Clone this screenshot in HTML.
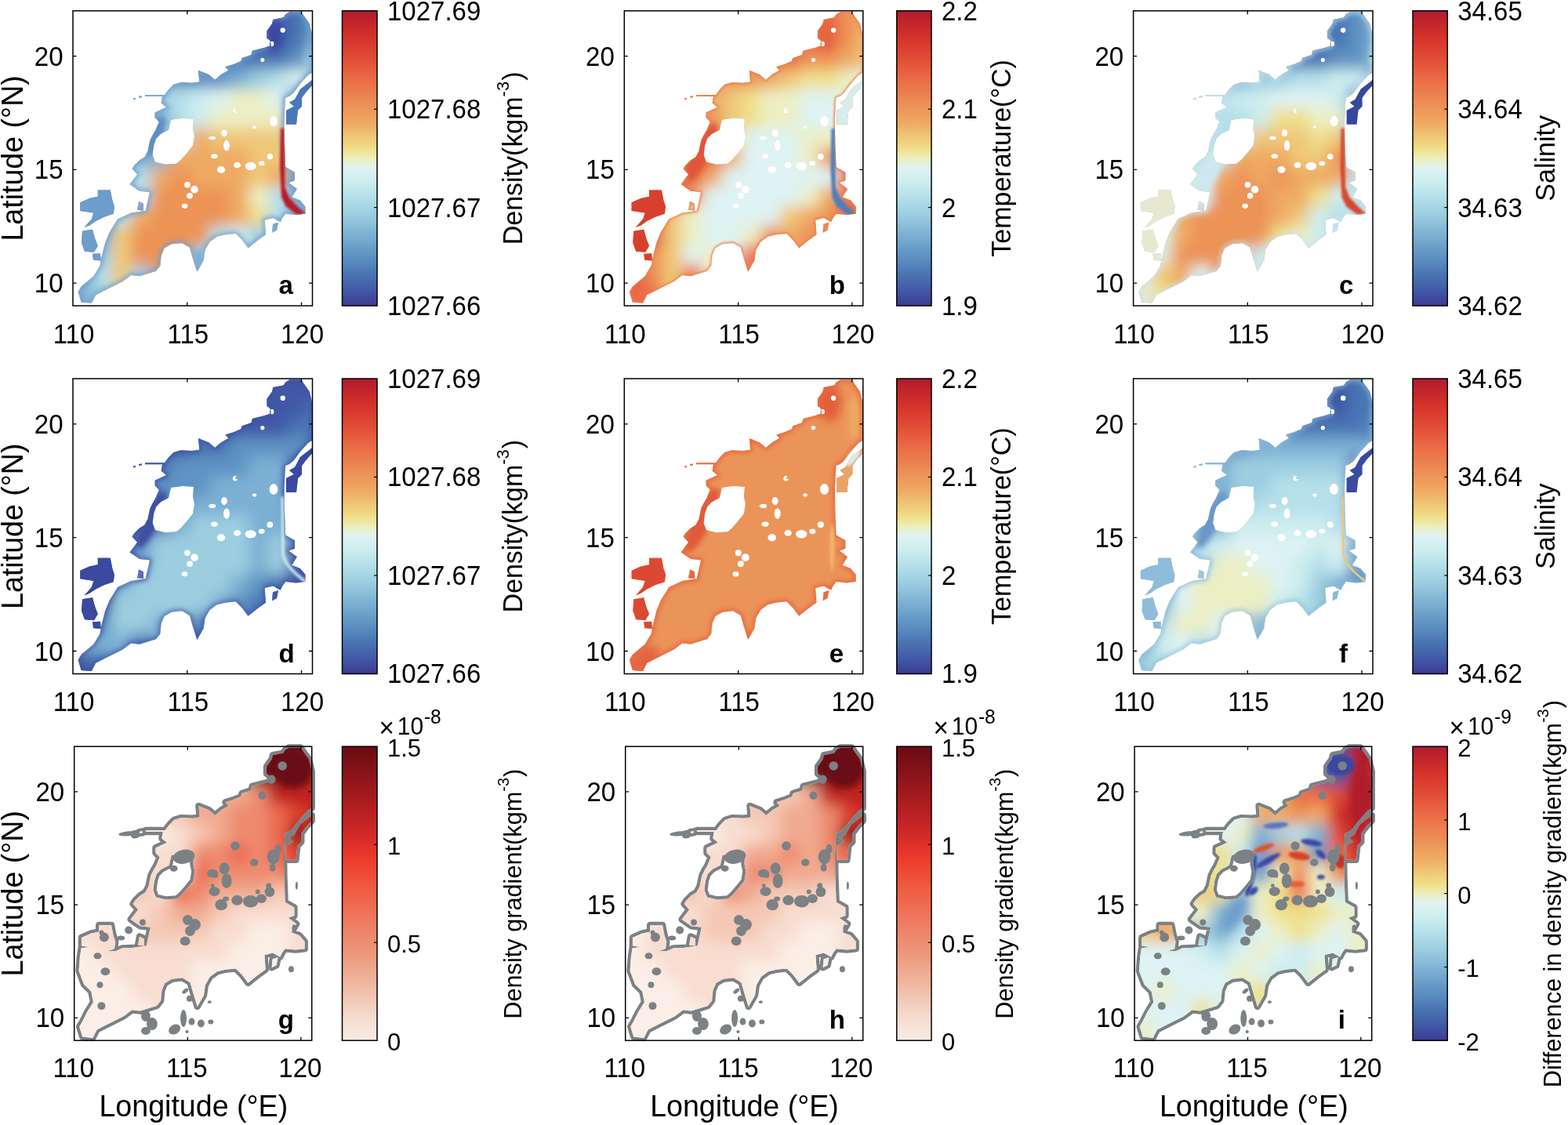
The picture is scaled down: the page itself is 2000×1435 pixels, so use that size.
<!DOCTYPE html><html><head><meta charset="utf-8"><style>html,body{margin:0;padding:0;background:#fff;}svg{display:block;} text{font-family:'Liberation Sans', Arial, Helvetica, sans-serif;fill:#000;}</style></head><body>
<svg width="2000" height="1435" viewBox="0 0 2000 1435">
<rect width="2000" height="1435" fill="#fff"/>
<defs>
<linearGradient id="cm_rdylbu" x1="0" y1="0" x2="0" y2="1">
<stop offset="0.000" stop-color="#b01c2c"/>
<stop offset="0.080" stop-color="#d22f2a"/>
<stop offset="0.160" stop-color="#e14b35"/>
<stop offset="0.230" stop-color="#eb6a46"/>
<stop offset="0.310" stop-color="#ec8c55"/>
<stop offset="0.380" stop-color="#eeaa63"/>
<stop offset="0.430" stop-color="#efc878"/>
<stop offset="0.470" stop-color="#efe08b"/>
<stop offset="0.505" stop-color="#ecefc4"/>
<stop offset="0.535" stop-color="#def3f3"/>
<stop offset="0.580" stop-color="#cdedef"/>
<stop offset="0.630" stop-color="#b5e0ea"/>
<stop offset="0.690" stop-color="#9cceE0"/>
<stop offset="0.760" stop-color="#7cb0d3"/>
<stop offset="0.830" stop-color="#5e93c3"/>
<stop offset="0.890" stop-color="#4a76b4"/>
<stop offset="0.950" stop-color="#4158a6"/>
<stop offset="1.000" stop-color="#3a3b95"/>
</linearGradient>
<linearGradient id="cm_reds" x1="0" y1="0" x2="0" y2="1">
<stop offset="0.000" stop-color="#6b0a12"/>
<stop offset="0.100" stop-color="#8c1419"/>
<stop offset="0.200" stop-color="#b01d20"/>
<stop offset="0.300" stop-color="#d22a27"/>
<stop offset="0.380" stop-color="#ec3a2c"/>
<stop offset="0.480" stop-color="#ef5a40"/>
<stop offset="0.600" stop-color="#ee7c62"/>
<stop offset="0.720" stop-color="#ec9c80"/>
<stop offset="0.820" stop-color="#efbba5"/>
<stop offset="0.920" stop-color="#f5dccf"/>
<stop offset="1.000" stop-color="#f9ece4"/>
</linearGradient>
<clipPath id="seaclip"><path d="M276.5 1.2 L291.0 1.2 L301.7 16.4 L305.5 32.0 L305.5 78.7 L300.0 82.0 L290.0 93.0 L281.0 105.0 L276.0 109.0 L271.0 111.0 L270.2 125.0 L269.5 140.0 L269.9 166.2 L271.2 199.3 L283.0 206.0 L283.0 216.5 L275.2 219.2 L285.8 227.1 L279.2 237.7 L289.7 241.7 L296.4 249.6 L296.4 258.9 L284.5 260.2 L271.2 258.9 L267.2 264.2 L264.6 269.5 L255.3 264.2 L244.7 266.9 L246.0 285.4 L236.8 292.0 L223.5 302.6 L215.6 292.0 L207.6 284.1 L194.4 285.4 L183.8 288.0 L174.5 294.7 L168.5 305.3 L166.6 318.5 L158.3 332.8 L153.0 315.9 L149.0 302.0 L139.1 296.1 L125.8 297.5 L116.6 302.8 L112.6 312.0 L111.3 325.3 L106.0 331.9 L84.8 338.5 L74.2 337.2 L63.6 345.1 L55.6 349.1 L42.4 355.7 L29.1 362.4 L23.8 372.9 L10.6 371.6 L6.6 358.4 L10.6 351.8 L26.5 338.5 L34.4 325.3 L37.1 312.0 L41.1 296.1 L46.4 282.9 L53.0 272.3 L57.0 265.7 L74.2 257.7 L92.7 255.1 L98.0 231.2 L84.8 229.9 L72.5 221.3 L82.1 208.7 L75.5 201.4 L78.2 197.2 L84.8 190.6 L91.4 186.6 L95.5 179.0 L97.0 172.0 L98.5 165.0 L102.0 158.0 L105.5 152.2 L109.9 141.6 L104.6 136.3 L104.6 129.6 L119.2 123.0 L112.6 117.7 L114.0 109.2 L92.0 109.2 L92.0 107.2 L117.0 107.2 L121.9 100.5 L128.5 93.9 L137.7 91.2 L152.0 91.9 L161.3 90.6 L160.0 76.0 L173.2 81.3 L181.1 88.0 L189.1 81.3 L198.4 76.0 L194.4 71.4 L205.0 68.1 L214.3 64.1 L215.6 60.1 L227.5 56.2 L228.8 50.9 L244.7 46.9 L252.7 44.2 L251.3 37.6 L247.4 35.0 L247.4 25.7 L254.0 16.4 L255.3 11.1 L268.6 8.5 L271.2 4.5 Z M125.0 139.0 L140.0 137.0 L154.0 138.0 L153.0 150.0 L155.0 160.0 L153.0 172.0 L145.0 182.0 L138.0 190.0 L132.0 195.0 L118.0 196.0 L105.0 193.0 L101.5 184.0 L103.0 172.0 L106.0 163.0 L112.0 157.0 L122.0 152.0 Z M173.0 162.3 a4.7 2.7 0 1 0 9.4 0 a4.7 2.7 0 1 0 -9.4 0 Z M189.0 156.0 a4.0 5.0 0 1 0 8.0 0 a4.0 5.0 0 1 0 -8.0 0 Z M192.0 172.0 a4.0 7.0 0 1 0 8.0 0 a4.0 7.0 0 1 0 -8.0 0 Z M203.6 127.2 a3.3 3.3 0 1 0 6.6 0 a3.3 3.3 0 1 0 -6.6 0 Z M228.7 148.4 a2.7 2.2 0 1 0 5.4 0 a2.7 2.2 0 1 0 -5.4 0 Z M175.6 185.5 a4.7 3.3 0 1 0 9.4 0 a4.7 3.3 0 1 0 -9.4 0 Z M183.7 202.6 a5.3 4.7 0 1 0 10.6 0 a5.3 4.7 0 1 0 -10.6 0 Z M204.8 196.7 a4.7 4.0 0 1 0 9.4 0 a4.7 4.0 0 1 0 -9.4 0 Z M219.5 198.1 a7.2 5.3 0 1 0 14.4 0 a7.2 5.3 0 1 0 -14.4 0 Z M236.7 194.7 a4.0 3.3 0 1 0 8.0 0 a4.0 3.3 0 1 0 -8.0 0 Z M247.3 186.0 a4.0 4.0 0 1 0 8.0 0 a4.0 4.0 0 1 0 -8.0 0 Z M142.0 222.0 a4.0 4.0 0 1 0 8.0 0 a4.0 4.0 0 1 0 -8.0 0 Z M150.0 228.0 a5.0 5.0 0 1 0 10.0 0 a5.0 5.0 0 1 0 -10.0 0 Z M145.0 236.0 a4.0 4.0 0 1 0 8.0 0 a4.0 4.0 0 1 0 -8.0 0 Z M138.6 249.0 a4.0 3.3 0 1 0 8.0 0 a4.0 3.3 0 1 0 -8.0 0 Z M264.4 24.8 a3.3 3.3 0 1 0 6.6 0 a3.3 3.3 0 1 0 -6.6 0 Z M251.1 42.1 a2.7 3.3 0 1 0 5.4 0 a2.7 3.3 0 1 0 -5.4 0 Z M239.1 62.7 a2.7 2.7 0 1 0 5.4 0 a2.7 2.7 0 1 0 -5.4 0 Z M207.1 126.6 a1.5 1.5 0 1 0 3.0 0 a1.5 1.5 0 1 0 -3.0 0 Z M35.0 244.0 a3.5 3.5 0 1 0 7.0 0 a3.5 3.5 0 1 0 -7.0 0 Z M250.5 141.0 a5.5 7.0 0 1 0 11.0 0 a5.5 7.0 0 1 0 -11.0 0 Z" clip-rule="evenodd"/><path d="M31.8 228.6 L47.7 228.6 L50.3 241.8 L53.0 249.8 L51.7 259.0 L39.7 263.0 L29.1 268.3 L21.2 273.6 L14.6 276.3 L23.8 265.7 L26.5 257.7 L9.3 255.1 L9.3 244.5 L21.2 239.2 L31.8 237.0 Z M12.0 281.0 L25.0 279.0 L28.0 290.0 L31.8 300.0 L27.0 308.0 L15.0 307.0 L11.0 296.0 Z M25.0 310.0 L35.0 309.4 L35.8 318.7 L26.0 318.0 Z M305.5 88.0 L305.5 95.0 L298.0 103.0 L292.0 111.0 L292.0 122.0 L287.0 127.0 L285.0 145.0 L272.0 145.0 L272.0 127.0 L282.0 122.0 L276.0 117.0 L283.0 113.0 L290.0 100.0 Z M84.0 109.0 L88.0 108.5 L88.0 110.5 L84.0 111.0 Z M77.0 111.5 L80.0 111.0 L80.0 113.0 L77.0 113.5 Z M84.0 243.0 L90.0 246.0 L90.0 255.0 L82.0 254.0 Z M255.0 272.0 L262.0 270.0 L260.0 280.0 L254.0 283.0 Z"/></clipPath>
<clipPath id="gradclip"><path d="M276.5 1.2 L291.0 1.2 L301.7 16.4 L305.5 32.0 L305.5 78.7 L300.0 82.0 L290.0 93.0 L281.0 105.0 L276.0 109.0 L271.0 111.0 L270.2 125.0 L269.5 140.0 L269.9 166.2 L271.2 199.3 L283.0 206.0 L283.0 216.5 L275.2 219.2 L285.8 227.1 L279.2 237.7 L289.7 241.7 L296.4 249.6 L296.4 258.9 L284.5 260.2 L271.2 258.9 L267.2 264.2 L264.6 269.5 L255.3 264.2 L244.7 266.9 L246.0 285.4 L236.8 292.0 L223.5 302.6 L215.6 292.0 L207.6 284.1 L194.4 285.4 L183.8 288.0 L174.5 294.7 L168.5 305.3 L166.6 318.5 L158.3 332.8 L153.0 315.9 L149.0 302.0 L139.1 296.1 L125.8 297.5 L116.6 302.8 L112.6 312.0 L111.3 325.3 L106.0 331.9 L84.8 338.5 L74.2 337.2 L63.6 345.1 L55.6 349.1 L42.4 355.7 L29.1 362.4 L23.8 372.9 L10.6 371.6 L6.6 358.4 L10.6 351.8 L26.5 338.5 L34.4 325.3 L37.1 312.0 L41.1 296.1 L46.4 282.9 L53.0 272.3 L57.0 265.7 L74.2 257.7 L92.7 255.1 L98.0 231.2 L84.8 229.9 L72.5 221.3 L82.1 208.7 L75.5 201.4 L78.2 197.2 L84.8 190.6 L91.4 186.6 L95.5 179.0 L97.0 172.0 L98.5 165.0 L102.0 158.0 L105.5 152.2 L109.9 141.6 L104.6 136.3 L104.6 129.6 L119.2 123.0 L112.6 117.7 L114.0 109.2 L92.0 109.2 L92.0 107.2 L117.0 107.2 L121.9 100.5 L128.5 93.9 L137.7 91.2 L152.0 91.9 L161.3 90.6 L160.0 76.0 L173.2 81.3 L181.1 88.0 L189.1 81.3 L198.4 76.0 L194.4 71.4 L205.0 68.1 L214.3 64.1 L215.6 60.1 L227.5 56.2 L228.8 50.9 L244.7 46.9 L252.7 44.2 L251.3 37.6 L247.4 35.0 L247.4 25.7 L254.0 16.4 L255.3 11.1 L268.6 8.5 L271.2 4.5 Z M125.0 139.0 L140.0 137.0 L154.0 138.0 L153.0 150.0 L155.0 160.0 L153.0 172.0 L145.0 182.0 L138.0 190.0 L132.0 195.0 L118.0 196.0 L105.0 193.0 L101.5 184.0 L103.0 172.0 L106.0 163.0 L112.0 157.0 L122.0 152.0 Z" clip-rule="evenodd"/><path d="M31.8 228.6 L47.7 228.6 L50.3 241.8 L53.0 249.8 L51.7 259.0 L39.7 263.0 L29.1 268.3 L21.2 273.6 L14.6 276.3 L23.8 265.7 L26.5 257.7 L9.3 255.1 L9.3 244.5 L21.2 239.2 L31.8 237.0 Z M12.0 281.0 L25.0 279.0 L28.0 290.0 L31.8 300.0 L27.0 308.0 L15.0 307.0 L11.0 296.0 Z M25.0 310.0 L35.0 309.4 L35.8 318.7 L26.0 318.0 Z M305.5 88.0 L305.5 95.0 L298.0 103.0 L292.0 111.0 L292.0 122.0 L287.0 127.0 L285.0 145.0 L272.0 145.0 L272.0 127.0 L282.0 122.0 L276.0 117.0 L283.0 113.0 L290.0 100.0 Z M84.0 109.0 L88.0 108.5 L88.0 110.5 L84.0 111.0 Z M77.0 111.5 L80.0 111.0 L80.0 113.0 L77.0 113.5 Z M84.0 243.0 L90.0 246.0 L90.0 255.0 L82.0 254.0 Z M255.0 272.0 L262.0 270.0 L260.0 280.0 L254.0 283.0 Z"/><path d="M9.0 258.0 L26.0 256.0 L40.0 262.0 L53.0 262.0 L62.0 258.0 L74.2 257.7 L57.0 265.7 L53.0 272.3 L46.4 282.9 L41.1 296.1 L37.1 312.0 L34.4 325.3 L26.5 338.5 L10.6 351.8 L16.5 340.0 L24.5 327.0 L21.8 313.6 L12.5 304.4 L5.9 287.1 L7.2 269.9 Z"/></clipPath>
<filter id="bl6" x="-50%" y="-50%" width="200%" height="200%"><feGaussianBlur stdDeviation="6"/></filter>
<filter id="bl12" x="-50%" y="-50%" width="200%" height="200%"><feGaussianBlur stdDeviation="12"/></filter>
<filter id="bl20" x="-50%" y="-50%" width="200%" height="200%"><feGaussianBlur stdDeviation="20"/></filter>
<filter id="bl3" x="-50%" y="-50%" width="200%" height="200%"><feGaussianBlur stdDeviation="3"/></filter>
<filter id="bl2" x="-50%" y="-50%" width="200%" height="200%"><feGaussianBlur stdDeviation="1.5"/></filter>
<filter id="gblur" x="-10%" y="-10%" width="120%" height="120%"><feGaussianBlur stdDeviation="9"/></filter>
<filter id="bl1" x="-50%" y="-50%" width="200%" height="200%"><feGaussianBlur stdDeviation="0.6"/></filter>
</defs>
<g transform="translate(93.00 13.80) scale(1.0000 1.0000)">
<g clip-path="url(#seaclip)">
<rect x="-10" y="-10" width="330" height="400" fill="#ec975a"/>
<g filter="url(#gblur)">
<rect x="-25.5" y="-25.5" width="26" height="26" fill="#9ccee0"/>
<rect x="-0.5" y="-25.5" width="26" height="26" fill="#9ccee0"/>
<rect x="24.5" y="-25.5" width="26" height="26" fill="#9ccee0"/>
<rect x="49.5" y="-25.5" width="26" height="26" fill="#9ccee0"/>
<rect x="74.5" y="-25.5" width="26" height="26" fill="#9ccee0"/>
<rect x="99.5" y="-25.5" width="26" height="26" fill="#5e93c3"/>
<rect x="124.5" y="-25.5" width="26" height="26" fill="#5e93c3"/>
<rect x="149.5" y="-25.5" width="26" height="26" fill="#4a76b4"/>
<rect x="174.5" y="-25.5" width="26" height="26" fill="#4a76b4"/>
<rect x="199.5" y="-25.5" width="26" height="26" fill="#4158a6"/>
<rect x="224.5" y="-25.5" width="26" height="26" fill="#4158a6"/>
<rect x="249.5" y="-25.5" width="26" height="26" fill="#4158a6"/>
<rect x="274.5" y="-25.5" width="26" height="26" fill="#4a76b4"/>
<rect x="299.5" y="-25.5" width="26" height="26" fill="#5e93c3"/>
<rect x="324.5" y="-25.5" width="26" height="26" fill="#5e93c3"/>
<rect x="-25.5" y="-0.5" width="26" height="26" fill="#9ccee0"/>
<rect x="-0.5" y="-0.5" width="26" height="26" fill="#9ccee0"/>
<rect x="24.5" y="-0.5" width="26" height="26" fill="#9ccee0"/>
<rect x="49.5" y="-0.5" width="26" height="26" fill="#9ccee0"/>
<rect x="74.5" y="-0.5" width="26" height="26" fill="#9ccee0"/>
<rect x="99.5" y="-0.5" width="26" height="26" fill="#5e93c3"/>
<rect x="124.5" y="-0.5" width="26" height="26" fill="#5e93c3"/>
<rect x="149.5" y="-0.5" width="26" height="26" fill="#4a76b4"/>
<rect x="174.5" y="-0.5" width="26" height="26" fill="#4a76b4"/>
<rect x="199.5" y="-0.5" width="26" height="26" fill="#4158a6"/>
<rect x="224.5" y="-0.5" width="26" height="26" fill="#4158a6"/>
<rect x="249.5" y="-0.5" width="26" height="26" fill="#4158a6"/>
<rect x="274.5" y="-0.5" width="26" height="26" fill="#4a76b4"/>
<rect x="299.5" y="-0.5" width="26" height="26" fill="#5e93c3"/>
<rect x="324.5" y="-0.5" width="26" height="26" fill="#5e93c3"/>
<rect x="-25.5" y="24.5" width="26" height="26" fill="#9ccee0"/>
<rect x="-0.5" y="24.5" width="26" height="26" fill="#9ccee0"/>
<rect x="24.5" y="24.5" width="26" height="26" fill="#9ccee0"/>
<rect x="49.5" y="24.5" width="26" height="26" fill="#9ccee0"/>
<rect x="74.5" y="24.5" width="26" height="26" fill="#9ccee0"/>
<rect x="99.5" y="24.5" width="26" height="26" fill="#5e93c3"/>
<rect x="124.5" y="24.5" width="26" height="26" fill="#5e93c3"/>
<rect x="149.5" y="24.5" width="26" height="26" fill="#5e93c3"/>
<rect x="174.5" y="24.5" width="26" height="26" fill="#4a76b4"/>
<rect x="199.5" y="24.5" width="26" height="26" fill="#4a76b4"/>
<rect x="224.5" y="24.5" width="26" height="26" fill="#4158a6"/>
<rect x="249.5" y="24.5" width="26" height="26" fill="#4158a6"/>
<rect x="274.5" y="24.5" width="26" height="26" fill="#4a76b4"/>
<rect x="299.5" y="24.5" width="26" height="26" fill="#7cb0d3"/>
<rect x="324.5" y="24.5" width="26" height="26" fill="#7cb0d3"/>
<rect x="-25.5" y="49.5" width="26" height="26" fill="#9ccee0"/>
<rect x="-0.5" y="49.5" width="26" height="26" fill="#9ccee0"/>
<rect x="24.5" y="49.5" width="26" height="26" fill="#9ccee0"/>
<rect x="49.5" y="49.5" width="26" height="26" fill="#9ccee0"/>
<rect x="74.5" y="49.5" width="26" height="26" fill="#9ccee0"/>
<rect x="99.5" y="49.5" width="26" height="26" fill="#9ccee0"/>
<rect x="124.5" y="49.5" width="26" height="26" fill="#5e93c3"/>
<rect x="149.5" y="49.5" width="26" height="26" fill="#5e93c3"/>
<rect x="174.5" y="49.5" width="26" height="26" fill="#4a76b4"/>
<rect x="199.5" y="49.5" width="26" height="26" fill="#4a76b4"/>
<rect x="224.5" y="49.5" width="26" height="26" fill="#4a76b4"/>
<rect x="249.5" y="49.5" width="26" height="26" fill="#4a76b4"/>
<rect x="274.5" y="49.5" width="26" height="26" fill="#5e93c3"/>
<rect x="299.5" y="49.5" width="26" height="26" fill="#b5e0ea"/>
<rect x="324.5" y="49.5" width="26" height="26" fill="#b5e0ea"/>
<rect x="-25.5" y="74.5" width="26" height="26" fill="#9ccee0"/>
<rect x="-0.5" y="74.5" width="26" height="26" fill="#9ccee0"/>
<rect x="24.5" y="74.5" width="26" height="26" fill="#9ccee0"/>
<rect x="49.5" y="74.5" width="26" height="26" fill="#9ccee0"/>
<rect x="74.5" y="74.5" width="26" height="26" fill="#9ccee0"/>
<rect x="99.5" y="74.5" width="26" height="26" fill="#9ccee0"/>
<rect x="124.5" y="74.5" width="26" height="26" fill="#5e93c3"/>
<rect x="149.5" y="74.5" width="26" height="26" fill="#5e93c3"/>
<rect x="174.5" y="74.5" width="26" height="26" fill="#5e93c3"/>
<rect x="199.5" y="74.5" width="26" height="26" fill="#7cb0d3"/>
<rect x="224.5" y="74.5" width="26" height="26" fill="#9ccee0"/>
<rect x="249.5" y="74.5" width="26" height="26" fill="#b5e0ea"/>
<rect x="274.5" y="74.5" width="26" height="26" fill="#def3f3"/>
<rect x="299.5" y="74.5" width="26" height="26" fill="#7cb0d3"/>
<rect x="324.5" y="74.5" width="26" height="26" fill="#7cb0d3"/>
<rect x="-25.5" y="99.5" width="26" height="26" fill="#9ccee0"/>
<rect x="-0.5" y="99.5" width="26" height="26" fill="#9ccee0"/>
<rect x="24.5" y="99.5" width="26" height="26" fill="#9ccee0"/>
<rect x="49.5" y="99.5" width="26" height="26" fill="#9ccee0"/>
<rect x="74.5" y="99.5" width="26" height="26" fill="#9ccee0"/>
<rect x="99.5" y="99.5" width="26" height="26" fill="#9ccee0"/>
<rect x="124.5" y="99.5" width="26" height="26" fill="#b5e0ea"/>
<rect x="149.5" y="99.5" width="26" height="26" fill="#cdedef"/>
<rect x="174.5" y="99.5" width="26" height="26" fill="#def3f3"/>
<rect x="199.5" y="99.5" width="26" height="26" fill="#ecefc4"/>
<rect x="224.5" y="99.5" width="26" height="26" fill="#ecefc4"/>
<rect x="249.5" y="99.5" width="26" height="26" fill="#def3f3"/>
<rect x="274.5" y="99.5" width="26" height="26" fill="#5e93c3"/>
<rect x="299.5" y="99.5" width="26" height="26" fill="#5e93c3"/>
<rect x="324.5" y="99.5" width="26" height="26" fill="#5e93c3"/>
<rect x="-25.5" y="124.5" width="26" height="26" fill="#7cb0d3"/>
<rect x="-0.5" y="124.5" width="26" height="26" fill="#7cb0d3"/>
<rect x="24.5" y="124.5" width="26" height="26" fill="#7cb0d3"/>
<rect x="49.5" y="124.5" width="26" height="26" fill="#7cb0d3"/>
<rect x="74.5" y="124.5" width="26" height="26" fill="#7cb0d3"/>
<rect x="99.5" y="124.5" width="26" height="26" fill="#7cb0d3"/>
<rect x="124.5" y="124.5" width="26" height="26" fill="#b5e0ea"/>
<rect x="149.5" y="124.5" width="26" height="26" fill="#cdedef"/>
<rect x="174.5" y="124.5" width="26" height="26" fill="#ecefc4"/>
<rect x="199.5" y="124.5" width="26" height="26" fill="#ecefc4"/>
<rect x="224.5" y="124.5" width="26" height="26" fill="#ecefc4"/>
<rect x="249.5" y="124.5" width="26" height="26" fill="#ecefc4"/>
<rect x="274.5" y="124.5" width="26" height="26" fill="#5e93c3"/>
<rect x="299.5" y="124.5" width="26" height="26" fill="#5e93c3"/>
<rect x="324.5" y="124.5" width="26" height="26" fill="#5e93c3"/>
<rect x="-25.5" y="149.5" width="26" height="26" fill="#5e93c3"/>
<rect x="-0.5" y="149.5" width="26" height="26" fill="#5e93c3"/>
<rect x="24.5" y="149.5" width="26" height="26" fill="#7cb0d3"/>
<rect x="49.5" y="149.5" width="26" height="26" fill="#7cb0d3"/>
<rect x="74.5" y="149.5" width="26" height="26" fill="#7cb0d3"/>
<rect x="99.5" y="149.5" width="26" height="26" fill="#7cb0d3"/>
<rect x="124.5" y="149.5" width="26" height="26" fill="#b5e0ea"/>
<rect x="149.5" y="149.5" width="26" height="26" fill="#eeaa63"/>
<rect x="174.5" y="149.5" width="26" height="26" fill="#efc878"/>
<rect x="199.5" y="149.5" width="26" height="26" fill="#efc878"/>
<rect x="224.5" y="149.5" width="26" height="26" fill="#efc878"/>
<rect x="249.5" y="149.5" width="26" height="26" fill="#efc878"/>
<rect x="274.5" y="149.5" width="26" height="26" fill="#5e93c3"/>
<rect x="299.5" y="149.5" width="26" height="26" fill="#5e93c3"/>
<rect x="324.5" y="149.5" width="26" height="26" fill="#5e93c3"/>
<rect x="-25.5" y="174.5" width="26" height="26" fill="#5e93c3"/>
<rect x="-0.5" y="174.5" width="26" height="26" fill="#5e93c3"/>
<rect x="24.5" y="174.5" width="26" height="26" fill="#7cb0d3"/>
<rect x="49.5" y="174.5" width="26" height="26" fill="#7cb0d3"/>
<rect x="74.5" y="174.5" width="26" height="26" fill="#7cb0d3"/>
<rect x="99.5" y="174.5" width="26" height="26" fill="#7cb0d3"/>
<rect x="124.5" y="174.5" width="26" height="26" fill="#eeaa63"/>
<rect x="149.5" y="174.5" width="26" height="26" fill="#eeaa63"/>
<rect x="174.5" y="174.5" width="26" height="26" fill="#eeaa63"/>
<rect x="199.5" y="174.5" width="26" height="26" fill="#eeaa63"/>
<rect x="224.5" y="174.5" width="26" height="26" fill="#efc878"/>
<rect x="249.5" y="174.5" width="26" height="26" fill="#efc878"/>
<rect x="274.5" y="174.5" width="26" height="26" fill="#efc878"/>
<rect x="299.5" y="174.5" width="26" height="26" fill="#5e93c3"/>
<rect x="324.5" y="174.5" width="26" height="26" fill="#5e93c3"/>
<rect x="-25.5" y="199.5" width="26" height="26" fill="#5e93c3"/>
<rect x="-0.5" y="199.5" width="26" height="26" fill="#5e93c3"/>
<rect x="24.5" y="199.5" width="26" height="26" fill="#5e93c3"/>
<rect x="49.5" y="199.5" width="26" height="26" fill="#b5e0ea"/>
<rect x="74.5" y="199.5" width="26" height="26" fill="#b5e0ea"/>
<rect x="99.5" y="199.5" width="26" height="26" fill="#eeaa63"/>
<rect x="124.5" y="199.5" width="26" height="26" fill="#ec9357"/>
<rect x="149.5" y="199.5" width="26" height="26" fill="#eeaa63"/>
<rect x="174.5" y="199.5" width="26" height="26" fill="#eeaa63"/>
<rect x="199.5" y="199.5" width="26" height="26" fill="#eeaa63"/>
<rect x="224.5" y="199.5" width="26" height="26" fill="#efc878"/>
<rect x="249.5" y="199.5" width="26" height="26" fill="#eeaa63"/>
<rect x="274.5" y="199.5" width="26" height="26" fill="#5e93c3"/>
<rect x="299.5" y="199.5" width="26" height="26" fill="#5e93c3"/>
<rect x="324.5" y="199.5" width="26" height="26" fill="#5e93c3"/>
<rect x="-25.5" y="224.5" width="26" height="26" fill="#5e93c3"/>
<rect x="-0.5" y="224.5" width="26" height="26" fill="#5e93c3"/>
<rect x="24.5" y="224.5" width="26" height="26" fill="#5e93c3"/>
<rect x="49.5" y="224.5" width="26" height="26" fill="#5e93c3"/>
<rect x="74.5" y="224.5" width="26" height="26" fill="#b5e0ea"/>
<rect x="99.5" y="224.5" width="26" height="26" fill="#ec9357"/>
<rect x="124.5" y="224.5" width="26" height="26" fill="#ec9357"/>
<rect x="149.5" y="224.5" width="26" height="26" fill="#ec9357"/>
<rect x="174.5" y="224.5" width="26" height="26" fill="#ec9357"/>
<rect x="199.5" y="224.5" width="26" height="26" fill="#eeaa63"/>
<rect x="224.5" y="224.5" width="26" height="26" fill="#ecefc4"/>
<rect x="249.5" y="224.5" width="26" height="26" fill="#b5e0ea"/>
<rect x="274.5" y="224.5" width="26" height="26" fill="#7cb0d3"/>
<rect x="299.5" y="224.5" width="26" height="26" fill="#7cb0d3"/>
<rect x="324.5" y="224.5" width="26" height="26" fill="#7cb0d3"/>
<rect x="-25.5" y="249.5" width="26" height="26" fill="#5e93c3"/>
<rect x="-0.5" y="249.5" width="26" height="26" fill="#5e93c3"/>
<rect x="24.5" y="249.5" width="26" height="26" fill="#7cb0d3"/>
<rect x="49.5" y="249.5" width="26" height="26" fill="#b5e0ea"/>
<rect x="74.5" y="249.5" width="26" height="26" fill="#eeaa63"/>
<rect x="99.5" y="249.5" width="26" height="26" fill="#ec9357"/>
<rect x="124.5" y="249.5" width="26" height="26" fill="#ec9357"/>
<rect x="149.5" y="249.5" width="26" height="26" fill="#ec9357"/>
<rect x="174.5" y="249.5" width="26" height="26" fill="#ec9357"/>
<rect x="199.5" y="249.5" width="26" height="26" fill="#eeaa63"/>
<rect x="224.5" y="249.5" width="26" height="26" fill="#efe08b"/>
<rect x="249.5" y="249.5" width="26" height="26" fill="#b5e0ea"/>
<rect x="274.5" y="249.5" width="26" height="26" fill="#7cb0d3"/>
<rect x="299.5" y="249.5" width="26" height="26" fill="#7cb0d3"/>
<rect x="324.5" y="249.5" width="26" height="26" fill="#7cb0d3"/>
<rect x="-25.5" y="274.5" width="26" height="26" fill="#7cb0d3"/>
<rect x="-0.5" y="274.5" width="26" height="26" fill="#7cb0d3"/>
<rect x="24.5" y="274.5" width="26" height="26" fill="#7cb0d3"/>
<rect x="49.5" y="274.5" width="26" height="26" fill="#efc878"/>
<rect x="74.5" y="274.5" width="26" height="26" fill="#ec9357"/>
<rect x="99.5" y="274.5" width="26" height="26" fill="#ec9357"/>
<rect x="124.5" y="274.5" width="26" height="26" fill="#ec9357"/>
<rect x="149.5" y="274.5" width="26" height="26" fill="#ec9357"/>
<rect x="174.5" y="274.5" width="26" height="26" fill="#b5e0ea"/>
<rect x="199.5" y="274.5" width="26" height="26" fill="#cdedef"/>
<rect x="224.5" y="274.5" width="26" height="26" fill="#9ccee0"/>
<rect x="249.5" y="274.5" width="26" height="26" fill="#b5e0ea"/>
<rect x="274.5" y="274.5" width="26" height="26" fill="#7cb0d3"/>
<rect x="299.5" y="274.5" width="26" height="26" fill="#7cb0d3"/>
<rect x="324.5" y="274.5" width="26" height="26" fill="#7cb0d3"/>
<rect x="-25.5" y="299.5" width="26" height="26" fill="#7cb0d3"/>
<rect x="-0.5" y="299.5" width="26" height="26" fill="#7cb0d3"/>
<rect x="24.5" y="299.5" width="26" height="26" fill="#9ccee0"/>
<rect x="49.5" y="299.5" width="26" height="26" fill="#efc878"/>
<rect x="74.5" y="299.5" width="26" height="26" fill="#ec9357"/>
<rect x="99.5" y="299.5" width="26" height="26" fill="#ec9357"/>
<rect x="124.5" y="299.5" width="26" height="26" fill="#ec9357"/>
<rect x="149.5" y="299.5" width="26" height="26" fill="#9ccee0"/>
<rect x="174.5" y="299.5" width="26" height="26" fill="#b5e0ea"/>
<rect x="199.5" y="299.5" width="26" height="26" fill="#cdedef"/>
<rect x="224.5" y="299.5" width="26" height="26" fill="#9ccee0"/>
<rect x="249.5" y="299.5" width="26" height="26" fill="#9ccee0"/>
<rect x="274.5" y="299.5" width="26" height="26" fill="#7cb0d3"/>
<rect x="299.5" y="299.5" width="26" height="26" fill="#7cb0d3"/>
<rect x="324.5" y="299.5" width="26" height="26" fill="#7cb0d3"/>
<rect x="-25.5" y="324.5" width="26" height="26" fill="#7cb0d3"/>
<rect x="-0.5" y="324.5" width="26" height="26" fill="#7cb0d3"/>
<rect x="24.5" y="324.5" width="26" height="26" fill="#b5e0ea"/>
<rect x="49.5" y="324.5" width="26" height="26" fill="#efc878"/>
<rect x="74.5" y="324.5" width="26" height="26" fill="#9ccee0"/>
<rect x="99.5" y="324.5" width="26" height="26" fill="#ec9357"/>
<rect x="124.5" y="324.5" width="26" height="26" fill="#7cb0d3"/>
<rect x="149.5" y="324.5" width="26" height="26" fill="#7cb0d3"/>
<rect x="174.5" y="324.5" width="26" height="26" fill="#7cb0d3"/>
<rect x="199.5" y="324.5" width="26" height="26" fill="#cdedef"/>
<rect x="224.5" y="324.5" width="26" height="26" fill="#9ccee0"/>
<rect x="249.5" y="324.5" width="26" height="26" fill="#9ccee0"/>
<rect x="274.5" y="324.5" width="26" height="26" fill="#9ccee0"/>
<rect x="299.5" y="324.5" width="26" height="26" fill="#7cb0d3"/>
<rect x="324.5" y="324.5" width="26" height="26" fill="#7cb0d3"/>
<rect x="-25.5" y="349.5" width="26" height="26" fill="#7cb0d3"/>
<rect x="-0.5" y="349.5" width="26" height="26" fill="#7cb0d3"/>
<rect x="24.5" y="349.5" width="26" height="26" fill="#9ccee0"/>
<rect x="49.5" y="349.5" width="26" height="26" fill="#efc878"/>
<rect x="74.5" y="349.5" width="26" height="26" fill="#9ccee0"/>
<rect x="99.5" y="349.5" width="26" height="26" fill="#9ccee0"/>
<rect x="124.5" y="349.5" width="26" height="26" fill="#7cb0d3"/>
<rect x="149.5" y="349.5" width="26" height="26" fill="#7cb0d3"/>
<rect x="174.5" y="349.5" width="26" height="26" fill="#7cb0d3"/>
<rect x="199.5" y="349.5" width="26" height="26" fill="#7cb0d3"/>
<rect x="224.5" y="349.5" width="26" height="26" fill="#9ccee0"/>
<rect x="249.5" y="349.5" width="26" height="26" fill="#9ccee0"/>
<rect x="274.5" y="349.5" width="26" height="26" fill="#9ccee0"/>
<rect x="299.5" y="349.5" width="26" height="26" fill="#7cb0d3"/>
<rect x="324.5" y="349.5" width="26" height="26" fill="#7cb0d3"/>
<rect x="-25.5" y="374.5" width="26" height="26" fill="#7cb0d3"/>
<rect x="-0.5" y="374.5" width="26" height="26" fill="#7cb0d3"/>
<rect x="24.5" y="374.5" width="26" height="26" fill="#9ccee0"/>
<rect x="49.5" y="374.5" width="26" height="26" fill="#9ccee0"/>
<rect x="74.5" y="374.5" width="26" height="26" fill="#9ccee0"/>
<rect x="99.5" y="374.5" width="26" height="26" fill="#9ccee0"/>
<rect x="124.5" y="374.5" width="26" height="26" fill="#7cb0d3"/>
<rect x="149.5" y="374.5" width="26" height="26" fill="#7cb0d3"/>
<rect x="174.5" y="374.5" width="26" height="26" fill="#7cb0d3"/>
<rect x="199.5" y="374.5" width="26" height="26" fill="#7cb0d3"/>
<rect x="224.5" y="374.5" width="26" height="26" fill="#7cb0d3"/>
<rect x="249.5" y="374.5" width="26" height="26" fill="#9ccee0"/>
<rect x="274.5" y="374.5" width="26" height="26" fill="#9ccee0"/>
<rect x="299.5" y="374.5" width="26" height="26" fill="#9ccee0"/>
<rect x="324.5" y="374.5" width="26" height="26" fill="#9ccee0"/>
<rect x="-25.5" y="399.5" width="26" height="26" fill="#7cb0d3"/>
<rect x="-0.5" y="399.5" width="26" height="26" fill="#7cb0d3"/>
<rect x="24.5" y="399.5" width="26" height="26" fill="#9ccee0"/>
<rect x="49.5" y="399.5" width="26" height="26" fill="#9ccee0"/>
<rect x="74.5" y="399.5" width="26" height="26" fill="#9ccee0"/>
<rect x="99.5" y="399.5" width="26" height="26" fill="#9ccee0"/>
<rect x="124.5" y="399.5" width="26" height="26" fill="#7cb0d3"/>
<rect x="149.5" y="399.5" width="26" height="26" fill="#7cb0d3"/>
<rect x="174.5" y="399.5" width="26" height="26" fill="#7cb0d3"/>
<rect x="199.5" y="399.5" width="26" height="26" fill="#7cb0d3"/>
<rect x="224.5" y="399.5" width="26" height="26" fill="#7cb0d3"/>
<rect x="249.5" y="399.5" width="26" height="26" fill="#9ccee0"/>
<rect x="274.5" y="399.5" width="26" height="26" fill="#9ccee0"/>
<rect x="299.5" y="399.5" width="26" height="26" fill="#9ccee0"/>
<rect x="324.5" y="399.5" width="26" height="26" fill="#9ccee0"/>
</g>
<path d="M276.5 1.2 L291.0 1.2 L301.7 16.4 L305.5 32.0 L305.5 78.7 L300.0 82.0 L290.0 93.0 L281.0 105.0 L276.0 109.0 L271.0 111.0 L270.2 125.0 L269.5 140.0 L269.9 166.2 L271.2 199.3 L283.0 206.0 L283.0 216.5 L275.2 219.2 L285.8 227.1 L279.2 237.7 L289.7 241.7 L296.4 249.6 L296.4 258.9 L284.5 260.2 L271.2 258.9 L267.2 264.2 L264.6 269.5 L255.3 264.2 L244.7 266.9 L246.0 285.4 L236.8 292.0 L223.5 302.6 L215.6 292.0 L207.6 284.1 L194.4 285.4 L183.8 288.0 L174.5 294.7 L168.5 305.3 L166.6 318.5 L158.3 332.8 L153.0 315.9 L149.0 302.0 L139.1 296.1 L125.8 297.5 L116.6 302.8 L112.6 312.0 L111.3 325.3 L106.0 331.9 L84.8 338.5 L74.2 337.2 L63.6 345.1 L55.6 349.1 L42.4 355.7 L29.1 362.4 L23.8 372.9 L10.6 371.6 L6.6 358.4 L10.6 351.8 L26.5 338.5 L34.4 325.3 L37.1 312.0 L41.1 296.1 L46.4 282.9 L53.0 272.3 L57.0 265.7 L74.2 257.7 L92.7 255.1 L98.0 231.2 L84.8 229.9 L72.5 221.3 L82.1 208.7 L75.5 201.4 L78.2 197.2 L84.8 190.6 L91.4 186.6 L95.5 179.0 L97.0 172.0 L98.5 165.0 L102.0 158.0 L105.5 152.2 L109.9 141.6 L104.6 136.3 L104.6 129.6 L119.2 123.0 L112.6 117.7 L114.0 109.2 L92.0 109.2 L92.0 107.2 L117.0 107.2 L121.9 100.5 L128.5 93.9 L137.7 91.2 L152.0 91.9 L161.3 90.6 L160.0 76.0 L173.2 81.3 L181.1 88.0 L189.1 81.3 L198.4 76.0 L194.4 71.4 L205.0 68.1 L214.3 64.1 L215.6 60.1 L227.5 56.2 L228.8 50.9 L244.7 46.9 L252.7 44.2 L251.3 37.6 L247.4 35.0 L247.4 25.7 L254.0 16.4 L255.3 11.1 L268.6 8.5 L271.2 4.5 Z M31.8 228.6 L47.7 228.6 L50.3 241.8 L53.0 249.8 L51.7 259.0 L39.7 263.0 L29.1 268.3 L21.2 273.6 L14.6 276.3 L23.8 265.7 L26.5 257.7 L9.3 255.1 L9.3 244.5 L21.2 239.2 L31.8 237.0 Z M12.0 281.0 L25.0 279.0 L28.0 290.0 L31.8 300.0 L27.0 308.0 L15.0 307.0 L11.0 296.0 Z M25.0 310.0 L35.0 309.4 L35.8 318.7 L26.0 318.0 Z M305.5 88.0 L305.5 95.0 L298.0 103.0 L292.0 111.0 L292.0 122.0 L287.0 127.0 L285.0 145.0 L272.0 145.0 L272.0 127.0 L282.0 122.0 L276.0 117.0 L283.0 113.0 L290.0 100.0 Z M84.0 109.0 L88.0 108.5 L88.0 110.5 L84.0 111.0 Z M77.0 111.5 L80.0 111.0 L80.0 113.0 L77.0 113.5 Z M84.0 243.0 L90.0 246.0 L90.0 255.0 L82.0 254.0 Z M255.0 272.0 L262.0 270.0 L260.0 280.0 L254.0 283.0 Z" fill="none" stroke="#6f9fcd" stroke-width="5" filter="url(#bl3)"/>
<ellipse cx="256" cy="30" rx="10" ry="22" transform="rotate(0 256 30)" fill="#3a45a0" filter="url(#bl6)"/>
<ellipse cx="106" cy="160" rx="7" ry="28" transform="rotate(20 106 160)" fill="#5b8cc4" filter="url(#bl3)"/>
<ellipse cx="160" cy="318" rx="7" ry="14" transform="rotate(0 160 318)" fill="#7fb0d4" filter="url(#bl3)"/>
<path d="M305.5 88.0 L305.5 95.0 L298.0 103.0 L292.0 111.0 L292.0 122.0 L287.0 127.0 L285.0 145.0 L272.0 145.0 L272.0 127.0 L282.0 122.0 L276.0 117.0 L283.0 113.0 L290.0 100.0 Z" fill="#4a78b8" filter="url(#bl1)"/>
<path d="M265.0 150.0 L269.5 150.0 L270.5 225.0 L276.0 238.0 L287.0 250.0 L297.0 259.0 L286.0 260.0 L272.0 250.0 L266.0 238.0 L264.0 200.0 Z" fill="#b81f2a" filter="url(#bl2)"/>
<path d="M31.8 228.6 L47.7 228.6 L50.3 241.8 L53.0 249.8 L51.7 259.0 L39.7 263.0 L29.1 268.3 L21.2 273.6 L14.6 276.3 L23.8 265.7 L26.5 257.7 L9.3 255.1 L9.3 244.5 L21.2 239.2 L31.8 237.0 Z" fill="#6d9dca" filter="url(#bl1)"/>
<path d="M12.0 281.0 L25.0 279.0 L28.0 290.0 L31.8 300.0 L27.0 308.0 L15.0 307.0 L11.0 296.0 Z" fill="#6d9dca" filter="url(#bl1)"/>
<path d="M25.0 310.0 L35.0 309.4 L35.8 318.7 L26.0 318.0 Z" fill="#6d9dca" filter="url(#bl1)"/>
</g>
</g>
<rect x="93.0" y="13.8" width="305.5" height="376.2" fill="none" stroke="#000" stroke-width="1.5"/>
<text x="0" y="0" font-size="33" text-anchor="middle" transform="translate(94.0 437.5) scale(1 1.040)">110</text>
<path d="M238.8 390.0 v-4.5 M238.8 13.8 v4.5" stroke="#000" stroke-width="1.3"/>
<text x="0" y="0" font-size="33" text-anchor="middle" transform="translate(239.8 437.5) scale(1 1.040)">115</text>
<path d="M384.5 390.0 v-4.5 M384.5 13.8 v4.5" stroke="#000" stroke-width="1.3"/>
<text x="0" y="0" font-size="33" text-anchor="middle" transform="translate(385.5 437.5) scale(1 1.040)">120</text>
<path d="M93.0 71.7 h4.5 M398.5 71.7 h-4.5" stroke="#000" stroke-width="1.3"/>
<text x="0" y="0" font-size="33" text-anchor="end" transform="translate(80.5 83.7) scale(1 1.040)">20</text>
<path d="M93.0 216.4 h4.5 M398.5 216.4 h-4.5" stroke="#000" stroke-width="1.3"/>
<text x="0" y="0" font-size="33" text-anchor="end" transform="translate(80.5 228.4) scale(1 1.040)">15</text>
<path d="M93.0 361.1 h4.5 M398.5 361.1 h-4.5" stroke="#000" stroke-width="1.3"/>
<text x="0" y="0" font-size="33" text-anchor="end" transform="translate(80.5 373.1) scale(1 1.040)">10</text>
<text x="0" y="0" font-size="33" text-anchor="start" font-weight="bold" transform="translate(355.5 375.0) scale(1 1.000)">a</text>
<rect x="436.5" y="13.8" width="44.5" height="376.2" fill="url(#cm_rdylbu)" stroke="#000" stroke-width="1.5"/>
<text x="0" y="0" font-size="33" text-anchor="start" transform="translate(494.0 401.9) scale(1 1.040)">1027.66</text>
<path d="M481.0 264.6 h-4" stroke="#000" stroke-width="1.2"/>
<text x="0" y="0" font-size="33" text-anchor="start" transform="translate(494.0 276.5) scale(1 1.040)">1027.67</text>
<path d="M481.0 139.2 h-4" stroke="#000" stroke-width="1.2"/>
<text x="0" y="0" font-size="33" text-anchor="start" transform="translate(494.0 151.1) scale(1 1.040)">1027.68</text>
<text x="0" y="0" font-size="33" text-anchor="start" transform="translate(494.0 25.7) scale(1 1.040)">1027.69</text>
<g transform="translate(796.30 13.80) scale(0.9967 1.0000)">
<g clip-path="url(#seaclip)">
<rect x="-10" y="-10" width="330" height="400" fill="#d6eef2"/>
<g filter="url(#gblur)">
<rect x="-25.5" y="-25.5" width="26" height="26" fill="#eeaa63"/>
<rect x="-0.5" y="-25.5" width="26" height="26" fill="#eeaa63"/>
<rect x="24.5" y="-25.5" width="26" height="26" fill="#ec9357"/>
<rect x="49.5" y="-25.5" width="26" height="26" fill="#ec9357"/>
<rect x="74.5" y="-25.5" width="26" height="26" fill="#ec9357"/>
<rect x="99.5" y="-25.5" width="26" height="26" fill="#ec9357"/>
<rect x="124.5" y="-25.5" width="26" height="26" fill="#ec9357"/>
<rect x="149.5" y="-25.5" width="26" height="26" fill="#eb6a46"/>
<rect x="174.5" y="-25.5" width="26" height="26" fill="#eb6a46"/>
<rect x="199.5" y="-25.5" width="26" height="26" fill="#eb6a46"/>
<rect x="224.5" y="-25.5" width="26" height="26" fill="#eb6a46"/>
<rect x="249.5" y="-25.5" width="26" height="26" fill="#eb6a46"/>
<rect x="274.5" y="-25.5" width="26" height="26" fill="#ec9357"/>
<rect x="299.5" y="-25.5" width="26" height="26" fill="#eeaa63"/>
<rect x="324.5" y="-25.5" width="26" height="26" fill="#eeaa63"/>
<rect x="-25.5" y="-0.5" width="26" height="26" fill="#eeaa63"/>
<rect x="-0.5" y="-0.5" width="26" height="26" fill="#eeaa63"/>
<rect x="24.5" y="-0.5" width="26" height="26" fill="#ec9357"/>
<rect x="49.5" y="-0.5" width="26" height="26" fill="#ec9357"/>
<rect x="74.5" y="-0.5" width="26" height="26" fill="#ec9357"/>
<rect x="99.5" y="-0.5" width="26" height="26" fill="#ec9357"/>
<rect x="124.5" y="-0.5" width="26" height="26" fill="#ec9357"/>
<rect x="149.5" y="-0.5" width="26" height="26" fill="#eb6a46"/>
<rect x="174.5" y="-0.5" width="26" height="26" fill="#eb6a46"/>
<rect x="199.5" y="-0.5" width="26" height="26" fill="#eb6a46"/>
<rect x="224.5" y="-0.5" width="26" height="26" fill="#eb6a46"/>
<rect x="249.5" y="-0.5" width="26" height="26" fill="#eb6a46"/>
<rect x="274.5" y="-0.5" width="26" height="26" fill="#ec9357"/>
<rect x="299.5" y="-0.5" width="26" height="26" fill="#eeaa63"/>
<rect x="324.5" y="-0.5" width="26" height="26" fill="#eeaa63"/>
<rect x="-25.5" y="24.5" width="26" height="26" fill="#eeaa63"/>
<rect x="-0.5" y="24.5" width="26" height="26" fill="#eeaa63"/>
<rect x="24.5" y="24.5" width="26" height="26" fill="#eeaa63"/>
<rect x="49.5" y="24.5" width="26" height="26" fill="#ec9357"/>
<rect x="74.5" y="24.5" width="26" height="26" fill="#ec9357"/>
<rect x="99.5" y="24.5" width="26" height="26" fill="#ec9357"/>
<rect x="124.5" y="24.5" width="26" height="26" fill="#ec9357"/>
<rect x="149.5" y="24.5" width="26" height="26" fill="#ec9357"/>
<rect x="174.5" y="24.5" width="26" height="26" fill="#eb6a46"/>
<rect x="199.5" y="24.5" width="26" height="26" fill="#eb6a46"/>
<rect x="224.5" y="24.5" width="26" height="26" fill="#eb6a46"/>
<rect x="249.5" y="24.5" width="26" height="26" fill="#eb6a46"/>
<rect x="274.5" y="24.5" width="26" height="26" fill="#ec9357"/>
<rect x="299.5" y="24.5" width="26" height="26" fill="#efc878"/>
<rect x="324.5" y="24.5" width="26" height="26" fill="#efc878"/>
<rect x="-25.5" y="49.5" width="26" height="26" fill="#eeaa63"/>
<rect x="-0.5" y="49.5" width="26" height="26" fill="#eeaa63"/>
<rect x="24.5" y="49.5" width="26" height="26" fill="#eeaa63"/>
<rect x="49.5" y="49.5" width="26" height="26" fill="#eeaa63"/>
<rect x="74.5" y="49.5" width="26" height="26" fill="#ec9357"/>
<rect x="99.5" y="49.5" width="26" height="26" fill="#ec9357"/>
<rect x="124.5" y="49.5" width="26" height="26" fill="#ec9357"/>
<rect x="149.5" y="49.5" width="26" height="26" fill="#ec9357"/>
<rect x="174.5" y="49.5" width="26" height="26" fill="#eb6a46"/>
<rect x="199.5" y="49.5" width="26" height="26" fill="#eb6a46"/>
<rect x="224.5" y="49.5" width="26" height="26" fill="#ec9357"/>
<rect x="249.5" y="49.5" width="26" height="26" fill="#ec9357"/>
<rect x="274.5" y="49.5" width="26" height="26" fill="#eeaa63"/>
<rect x="299.5" y="49.5" width="26" height="26" fill="#efc878"/>
<rect x="324.5" y="49.5" width="26" height="26" fill="#efc878"/>
<rect x="-25.5" y="74.5" width="26" height="26" fill="#eeaa63"/>
<rect x="-0.5" y="74.5" width="26" height="26" fill="#eeaa63"/>
<rect x="24.5" y="74.5" width="26" height="26" fill="#eeaa63"/>
<rect x="49.5" y="74.5" width="26" height="26" fill="#eeaa63"/>
<rect x="74.5" y="74.5" width="26" height="26" fill="#eeaa63"/>
<rect x="99.5" y="74.5" width="26" height="26" fill="#ec9357"/>
<rect x="124.5" y="74.5" width="26" height="26" fill="#ec9357"/>
<rect x="149.5" y="74.5" width="26" height="26" fill="#ec9357"/>
<rect x="174.5" y="74.5" width="26" height="26" fill="#eeaa63"/>
<rect x="199.5" y="74.5" width="26" height="26" fill="#efc878"/>
<rect x="224.5" y="74.5" width="26" height="26" fill="#efe08b"/>
<rect x="249.5" y="74.5" width="26" height="26" fill="#efe08b"/>
<rect x="274.5" y="74.5" width="26" height="26" fill="#ecefc4"/>
<rect x="299.5" y="74.5" width="26" height="26" fill="#def3f3"/>
<rect x="324.5" y="74.5" width="26" height="26" fill="#def3f3"/>
<rect x="-25.5" y="99.5" width="26" height="26" fill="#ec9357"/>
<rect x="-0.5" y="99.5" width="26" height="26" fill="#ec9357"/>
<rect x="24.5" y="99.5" width="26" height="26" fill="#ec9357"/>
<rect x="49.5" y="99.5" width="26" height="26" fill="#eeaa63"/>
<rect x="74.5" y="99.5" width="26" height="26" fill="#eeaa63"/>
<rect x="99.5" y="99.5" width="26" height="26" fill="#eeaa63"/>
<rect x="124.5" y="99.5" width="26" height="26" fill="#efc878"/>
<rect x="149.5" y="99.5" width="26" height="26" fill="#efe08b"/>
<rect x="174.5" y="99.5" width="26" height="26" fill="#ecefc4"/>
<rect x="199.5" y="99.5" width="26" height="26" fill="#ecefc4"/>
<rect x="224.5" y="99.5" width="26" height="26" fill="#def3f3"/>
<rect x="249.5" y="99.5" width="26" height="26" fill="#def3f3"/>
<rect x="274.5" y="99.5" width="26" height="26" fill="#ecefc4"/>
<rect x="299.5" y="99.5" width="26" height="26" fill="#def3f3"/>
<rect x="324.5" y="99.5" width="26" height="26" fill="#def3f3"/>
<rect x="-25.5" y="124.5" width="26" height="26" fill="#ec9357"/>
<rect x="-0.5" y="124.5" width="26" height="26" fill="#ec9357"/>
<rect x="24.5" y="124.5" width="26" height="26" fill="#ec9357"/>
<rect x="49.5" y="124.5" width="26" height="26" fill="#ec9357"/>
<rect x="74.5" y="124.5" width="26" height="26" fill="#ec9357"/>
<rect x="99.5" y="124.5" width="26" height="26" fill="#ec9357"/>
<rect x="124.5" y="124.5" width="26" height="26" fill="#efc878"/>
<rect x="149.5" y="124.5" width="26" height="26" fill="#efe08b"/>
<rect x="174.5" y="124.5" width="26" height="26" fill="#ecefc4"/>
<rect x="199.5" y="124.5" width="26" height="26" fill="#ecefc4"/>
<rect x="224.5" y="124.5" width="26" height="26" fill="#def3f3"/>
<rect x="249.5" y="124.5" width="26" height="26" fill="#def3f3"/>
<rect x="274.5" y="124.5" width="26" height="26" fill="#def3f3"/>
<rect x="299.5" y="124.5" width="26" height="26" fill="#def3f3"/>
<rect x="324.5" y="124.5" width="26" height="26" fill="#def3f3"/>
<rect x="-25.5" y="149.5" width="26" height="26" fill="#ec9357"/>
<rect x="-0.5" y="149.5" width="26" height="26" fill="#ec9357"/>
<rect x="24.5" y="149.5" width="26" height="26" fill="#ec9357"/>
<rect x="49.5" y="149.5" width="26" height="26" fill="#ec9357"/>
<rect x="74.5" y="149.5" width="26" height="26" fill="#ec9357"/>
<rect x="99.5" y="149.5" width="26" height="26" fill="#eb6a46"/>
<rect x="124.5" y="149.5" width="26" height="26" fill="#efc878"/>
<rect x="149.5" y="149.5" width="26" height="26" fill="#def3f3"/>
<rect x="174.5" y="149.5" width="26" height="26" fill="#def3f3"/>
<rect x="199.5" y="149.5" width="26" height="26" fill="#def3f3"/>
<rect x="224.5" y="149.5" width="26" height="26" fill="#ecefc4"/>
<rect x="249.5" y="149.5" width="26" height="26" fill="#ecefc4"/>
<rect x="274.5" y="149.5" width="26" height="26" fill="#def3f3"/>
<rect x="299.5" y="149.5" width="26" height="26" fill="#def3f3"/>
<rect x="324.5" y="149.5" width="26" height="26" fill="#def3f3"/>
<rect x="-25.5" y="174.5" width="26" height="26" fill="#e14b35"/>
<rect x="-0.5" y="174.5" width="26" height="26" fill="#e14b35"/>
<rect x="24.5" y="174.5" width="26" height="26" fill="#e14b35"/>
<rect x="49.5" y="174.5" width="26" height="26" fill="#e14b35"/>
<rect x="74.5" y="174.5" width="26" height="26" fill="#e14b35"/>
<rect x="99.5" y="174.5" width="26" height="26" fill="#eb6a46"/>
<rect x="124.5" y="174.5" width="26" height="26" fill="#eeaa63"/>
<rect x="149.5" y="174.5" width="26" height="26" fill="#def3f3"/>
<rect x="174.5" y="174.5" width="26" height="26" fill="#def3f3"/>
<rect x="199.5" y="174.5" width="26" height="26" fill="#def3f3"/>
<rect x="224.5" y="174.5" width="26" height="26" fill="#ecefc4"/>
<rect x="249.5" y="174.5" width="26" height="26" fill="#ec9357"/>
<rect x="274.5" y="174.5" width="26" height="26" fill="#ec9357"/>
<rect x="299.5" y="174.5" width="26" height="26" fill="#e14b35"/>
<rect x="324.5" y="174.5" width="26" height="26" fill="#e14b35"/>
<rect x="-25.5" y="199.5" width="26" height="26" fill="#e14b35"/>
<rect x="-0.5" y="199.5" width="26" height="26" fill="#e14b35"/>
<rect x="24.5" y="199.5" width="26" height="26" fill="#e14b35"/>
<rect x="49.5" y="199.5" width="26" height="26" fill="#eb6a46"/>
<rect x="74.5" y="199.5" width="26" height="26" fill="#eb6a46"/>
<rect x="99.5" y="199.5" width="26" height="26" fill="#eeaa63"/>
<rect x="124.5" y="199.5" width="26" height="26" fill="#def3f3"/>
<rect x="149.5" y="199.5" width="26" height="26" fill="#def3f3"/>
<rect x="174.5" y="199.5" width="26" height="26" fill="#def3f3"/>
<rect x="199.5" y="199.5" width="26" height="26" fill="#def3f3"/>
<rect x="224.5" y="199.5" width="26" height="26" fill="#def3f3"/>
<rect x="249.5" y="199.5" width="26" height="26" fill="#def3f3"/>
<rect x="274.5" y="199.5" width="26" height="26" fill="#e14b35"/>
<rect x="299.5" y="199.5" width="26" height="26" fill="#e14b35"/>
<rect x="324.5" y="199.5" width="26" height="26" fill="#e14b35"/>
<rect x="-25.5" y="224.5" width="26" height="26" fill="#e14b35"/>
<rect x="-0.5" y="224.5" width="26" height="26" fill="#e14b35"/>
<rect x="24.5" y="224.5" width="26" height="26" fill="#e14b35"/>
<rect x="49.5" y="224.5" width="26" height="26" fill="#e14b35"/>
<rect x="74.5" y="224.5" width="26" height="26" fill="#ec9357"/>
<rect x="99.5" y="224.5" width="26" height="26" fill="#def3f3"/>
<rect x="124.5" y="224.5" width="26" height="26" fill="#def3f3"/>
<rect x="149.5" y="224.5" width="26" height="26" fill="#def3f3"/>
<rect x="174.5" y="224.5" width="26" height="26" fill="#def3f3"/>
<rect x="199.5" y="224.5" width="26" height="26" fill="#def3f3"/>
<rect x="224.5" y="224.5" width="26" height="26" fill="#ecefc4"/>
<rect x="249.5" y="224.5" width="26" height="26" fill="#eeaa63"/>
<rect x="274.5" y="224.5" width="26" height="26" fill="#eb6a46"/>
<rect x="299.5" y="224.5" width="26" height="26" fill="#eb6a46"/>
<rect x="324.5" y="224.5" width="26" height="26" fill="#eb6a46"/>
<rect x="-25.5" y="249.5" width="26" height="26" fill="#e14b35"/>
<rect x="-0.5" y="249.5" width="26" height="26" fill="#e14b35"/>
<rect x="24.5" y="249.5" width="26" height="26" fill="#e14b35"/>
<rect x="49.5" y="249.5" width="26" height="26" fill="#efc878"/>
<rect x="74.5" y="249.5" width="26" height="26" fill="#ecefc4"/>
<rect x="99.5" y="249.5" width="26" height="26" fill="#def3f3"/>
<rect x="124.5" y="249.5" width="26" height="26" fill="#def3f3"/>
<rect x="149.5" y="249.5" width="26" height="26" fill="#def3f3"/>
<rect x="174.5" y="249.5" width="26" height="26" fill="#def3f3"/>
<rect x="199.5" y="249.5" width="26" height="26" fill="#efc878"/>
<rect x="224.5" y="249.5" width="26" height="26" fill="#eeaa63"/>
<rect x="249.5" y="249.5" width="26" height="26" fill="#ec9357"/>
<rect x="274.5" y="249.5" width="26" height="26" fill="#eb6a46"/>
<rect x="299.5" y="249.5" width="26" height="26" fill="#eb6a46"/>
<rect x="324.5" y="249.5" width="26" height="26" fill="#eb6a46"/>
<rect x="-25.5" y="274.5" width="26" height="26" fill="#e14b35"/>
<rect x="-0.5" y="274.5" width="26" height="26" fill="#e14b35"/>
<rect x="24.5" y="274.5" width="26" height="26" fill="#e14b35"/>
<rect x="49.5" y="274.5" width="26" height="26" fill="#efc878"/>
<rect x="74.5" y="274.5" width="26" height="26" fill="#ecefc4"/>
<rect x="99.5" y="274.5" width="26" height="26" fill="#def3f3"/>
<rect x="124.5" y="274.5" width="26" height="26" fill="#def3f3"/>
<rect x="149.5" y="274.5" width="26" height="26" fill="#ecefc4"/>
<rect x="174.5" y="274.5" width="26" height="26" fill="#ec9357"/>
<rect x="199.5" y="274.5" width="26" height="26" fill="#eeaa63"/>
<rect x="224.5" y="274.5" width="26" height="26" fill="#ec9357"/>
<rect x="249.5" y="274.5" width="26" height="26" fill="#ec9357"/>
<rect x="274.5" y="274.5" width="26" height="26" fill="#eb6a46"/>
<rect x="299.5" y="274.5" width="26" height="26" fill="#eb6a46"/>
<rect x="324.5" y="274.5" width="26" height="26" fill="#eb6a46"/>
<rect x="-25.5" y="299.5" width="26" height="26" fill="#e14b35"/>
<rect x="-0.5" y="299.5" width="26" height="26" fill="#e14b35"/>
<rect x="24.5" y="299.5" width="26" height="26" fill="#ec9357"/>
<rect x="49.5" y="299.5" width="26" height="26" fill="#efc878"/>
<rect x="74.5" y="299.5" width="26" height="26" fill="#def3f3"/>
<rect x="99.5" y="299.5" width="26" height="26" fill="#ecefc4"/>
<rect x="124.5" y="299.5" width="26" height="26" fill="#def3f3"/>
<rect x="149.5" y="299.5" width="26" height="26" fill="#eb6a46"/>
<rect x="174.5" y="299.5" width="26" height="26" fill="#ec9357"/>
<rect x="199.5" y="299.5" width="26" height="26" fill="#eeaa63"/>
<rect x="224.5" y="299.5" width="26" height="26" fill="#ec9357"/>
<rect x="249.5" y="299.5" width="26" height="26" fill="#ec9357"/>
<rect x="274.5" y="299.5" width="26" height="26" fill="#eb6a46"/>
<rect x="299.5" y="299.5" width="26" height="26" fill="#eb6a46"/>
<rect x="324.5" y="299.5" width="26" height="26" fill="#eb6a46"/>
<rect x="-25.5" y="324.5" width="26" height="26" fill="#e14b35"/>
<rect x="-0.5" y="324.5" width="26" height="26" fill="#e14b35"/>
<rect x="24.5" y="324.5" width="26" height="26" fill="#ec9357"/>
<rect x="49.5" y="324.5" width="26" height="26" fill="#efc878"/>
<rect x="74.5" y="324.5" width="26" height="26" fill="#eb6a46"/>
<rect x="99.5" y="324.5" width="26" height="26" fill="#ecefc4"/>
<rect x="124.5" y="324.5" width="26" height="26" fill="#eb6a46"/>
<rect x="149.5" y="324.5" width="26" height="26" fill="#eb6a46"/>
<rect x="174.5" y="324.5" width="26" height="26" fill="#eb6a46"/>
<rect x="199.5" y="324.5" width="26" height="26" fill="#eeaa63"/>
<rect x="224.5" y="324.5" width="26" height="26" fill="#ec9357"/>
<rect x="249.5" y="324.5" width="26" height="26" fill="#ec9357"/>
<rect x="274.5" y="324.5" width="26" height="26" fill="#ec9357"/>
<rect x="299.5" y="324.5" width="26" height="26" fill="#eb6a46"/>
<rect x="324.5" y="324.5" width="26" height="26" fill="#eb6a46"/>
<rect x="-25.5" y="349.5" width="26" height="26" fill="#eb6a46"/>
<rect x="-0.5" y="349.5" width="26" height="26" fill="#eb6a46"/>
<rect x="24.5" y="349.5" width="26" height="26" fill="#eb6a46"/>
<rect x="49.5" y="349.5" width="26" height="26" fill="#efc878"/>
<rect x="74.5" y="349.5" width="26" height="26" fill="#eb6a46"/>
<rect x="99.5" y="349.5" width="26" height="26" fill="#eb6a46"/>
<rect x="124.5" y="349.5" width="26" height="26" fill="#eb6a46"/>
<rect x="149.5" y="349.5" width="26" height="26" fill="#eb6a46"/>
<rect x="174.5" y="349.5" width="26" height="26" fill="#eb6a46"/>
<rect x="199.5" y="349.5" width="26" height="26" fill="#eb6a46"/>
<rect x="224.5" y="349.5" width="26" height="26" fill="#ec9357"/>
<rect x="249.5" y="349.5" width="26" height="26" fill="#ec9357"/>
<rect x="274.5" y="349.5" width="26" height="26" fill="#ec9357"/>
<rect x="299.5" y="349.5" width="26" height="26" fill="#eb6a46"/>
<rect x="324.5" y="349.5" width="26" height="26" fill="#eb6a46"/>
<rect x="-25.5" y="374.5" width="26" height="26" fill="#eb6a46"/>
<rect x="-0.5" y="374.5" width="26" height="26" fill="#eb6a46"/>
<rect x="24.5" y="374.5" width="26" height="26" fill="#eb6a46"/>
<rect x="49.5" y="374.5" width="26" height="26" fill="#eb6a46"/>
<rect x="74.5" y="374.5" width="26" height="26" fill="#eb6a46"/>
<rect x="99.5" y="374.5" width="26" height="26" fill="#eb6a46"/>
<rect x="124.5" y="374.5" width="26" height="26" fill="#eb6a46"/>
<rect x="149.5" y="374.5" width="26" height="26" fill="#eb6a46"/>
<rect x="174.5" y="374.5" width="26" height="26" fill="#eb6a46"/>
<rect x="199.5" y="374.5" width="26" height="26" fill="#eb6a46"/>
<rect x="224.5" y="374.5" width="26" height="26" fill="#eb6a46"/>
<rect x="249.5" y="374.5" width="26" height="26" fill="#ec9357"/>
<rect x="274.5" y="374.5" width="26" height="26" fill="#ec9357"/>
<rect x="299.5" y="374.5" width="26" height="26" fill="#ec9357"/>
<rect x="324.5" y="374.5" width="26" height="26" fill="#ec9357"/>
<rect x="-25.5" y="399.5" width="26" height="26" fill="#eb6a46"/>
<rect x="-0.5" y="399.5" width="26" height="26" fill="#eb6a46"/>
<rect x="24.5" y="399.5" width="26" height="26" fill="#eb6a46"/>
<rect x="49.5" y="399.5" width="26" height="26" fill="#eb6a46"/>
<rect x="74.5" y="399.5" width="26" height="26" fill="#eb6a46"/>
<rect x="99.5" y="399.5" width="26" height="26" fill="#eb6a46"/>
<rect x="124.5" y="399.5" width="26" height="26" fill="#eb6a46"/>
<rect x="149.5" y="399.5" width="26" height="26" fill="#eb6a46"/>
<rect x="174.5" y="399.5" width="26" height="26" fill="#eb6a46"/>
<rect x="199.5" y="399.5" width="26" height="26" fill="#eb6a46"/>
<rect x="224.5" y="399.5" width="26" height="26" fill="#eb6a46"/>
<rect x="249.5" y="399.5" width="26" height="26" fill="#ec9357"/>
<rect x="274.5" y="399.5" width="26" height="26" fill="#ec9357"/>
<rect x="299.5" y="399.5" width="26" height="26" fill="#ec9357"/>
<rect x="324.5" y="399.5" width="26" height="26" fill="#ec9357"/>
</g>
<path d="M276.5 1.2 L291.0 1.2 L301.7 16.4 L305.5 32.0 L305.5 78.7 L300.0 82.0 L290.0 93.0 L281.0 105.0 L276.0 109.0 L271.0 111.0 L270.2 125.0 L269.5 140.0 L269.9 166.2 L271.2 199.3 L283.0 206.0 L283.0 216.5 L275.2 219.2 L285.8 227.1 L279.2 237.7 L289.7 241.7 L296.4 249.6 L296.4 258.9 L284.5 260.2 L271.2 258.9 L267.2 264.2 L264.6 269.5 L255.3 264.2 L244.7 266.9 L246.0 285.4 L236.8 292.0 L223.5 302.6 L215.6 292.0 L207.6 284.1 L194.4 285.4 L183.8 288.0 L174.5 294.7 L168.5 305.3 L166.6 318.5 L158.3 332.8 L153.0 315.9 L149.0 302.0 L139.1 296.1 L125.8 297.5 L116.6 302.8 L112.6 312.0 L111.3 325.3 L106.0 331.9 L84.8 338.5 L74.2 337.2 L63.6 345.1 L55.6 349.1 L42.4 355.7 L29.1 362.4 L23.8 372.9 L10.6 371.6 L6.6 358.4 L10.6 351.8 L26.5 338.5 L34.4 325.3 L37.1 312.0 L41.1 296.1 L46.4 282.9 L53.0 272.3 L57.0 265.7 L74.2 257.7 L92.7 255.1 L98.0 231.2 L84.8 229.9 L72.5 221.3 L82.1 208.7 L75.5 201.4 L78.2 197.2 L84.8 190.6 L91.4 186.6 L95.5 179.0 L97.0 172.0 L98.5 165.0 L102.0 158.0 L105.5 152.2 L109.9 141.6 L104.6 136.3 L104.6 129.6 L119.2 123.0 L112.6 117.7 L114.0 109.2 L92.0 109.2 L92.0 107.2 L117.0 107.2 L121.9 100.5 L128.5 93.9 L137.7 91.2 L152.0 91.9 L161.3 90.6 L160.0 76.0 L173.2 81.3 L181.1 88.0 L189.1 81.3 L198.4 76.0 L194.4 71.4 L205.0 68.1 L214.3 64.1 L215.6 60.1 L227.5 56.2 L228.8 50.9 L244.7 46.9 L252.7 44.2 L251.3 37.6 L247.4 35.0 L247.4 25.7 L254.0 16.4 L255.3 11.1 L268.6 8.5 L271.2 4.5 Z M31.8 228.6 L47.7 228.6 L50.3 241.8 L53.0 249.8 L51.7 259.0 L39.7 263.0 L29.1 268.3 L21.2 273.6 L14.6 276.3 L23.8 265.7 L26.5 257.7 L9.3 255.1 L9.3 244.5 L21.2 239.2 L31.8 237.0 Z M12.0 281.0 L25.0 279.0 L28.0 290.0 L31.8 300.0 L27.0 308.0 L15.0 307.0 L11.0 296.0 Z M25.0 310.0 L35.0 309.4 L35.8 318.7 L26.0 318.0 Z M305.5 88.0 L305.5 95.0 L298.0 103.0 L292.0 111.0 L292.0 122.0 L287.0 127.0 L285.0 145.0 L272.0 145.0 L272.0 127.0 L282.0 122.0 L276.0 117.0 L283.0 113.0 L290.0 100.0 Z M84.0 109.0 L88.0 108.5 L88.0 110.5 L84.0 111.0 Z M77.0 111.5 L80.0 111.0 L80.0 113.0 L77.0 113.5 Z M84.0 243.0 L90.0 246.0 L90.0 255.0 L82.0 254.0 Z M255.0 272.0 L262.0 270.0 L260.0 280.0 L254.0 283.0 Z" fill="none" stroke="#ea8050" stroke-width="3" filter="url(#bl2)"/>
<ellipse cx="258" cy="30" rx="10" ry="22" transform="rotate(0 258 30)" fill="#e5653f" filter="url(#bl6)"/>
<ellipse cx="100" cy="180" rx="10" ry="40" transform="rotate(25 100 180)" fill="#e0553a" filter="url(#bl3)"/>
<path d="M305.5 88.0 L305.5 95.0 L298.0 103.0 L292.0 111.0 L292.0 122.0 L287.0 127.0 L285.0 145.0 L272.0 145.0 L272.0 127.0 L282.0 122.0 L276.0 117.0 L283.0 113.0 L290.0 100.0 Z" fill="#d6edf0" filter="url(#bl1)"/>
<path d="M265.0 150.0 L269.5 150.0 L270.5 225.0 L276.0 238.0 L287.0 250.0 L297.0 259.0 L286.0 260.0 L272.0 250.0 L266.0 238.0 L264.0 200.0 Z" fill="#4d7fbb" filter="url(#bl2)"/>
<path d="M31.8 228.6 L47.7 228.6 L50.3 241.8 L53.0 249.8 L51.7 259.0 L39.7 263.0 L29.1 268.3 L21.2 273.6 L14.6 276.3 L23.8 265.7 L26.5 257.7 L9.3 255.1 L9.3 244.5 L21.2 239.2 L31.8 237.0 Z" fill="#d8402e" filter="url(#bl1)"/>
<path d="M12.0 281.0 L25.0 279.0 L28.0 290.0 L31.8 300.0 L27.0 308.0 L15.0 307.0 L11.0 296.0 Z" fill="#d8402e" filter="url(#bl1)"/>
<path d="M25.0 310.0 L35.0 309.4 L35.8 318.7 L26.0 318.0 Z" fill="#d8402e" filter="url(#bl1)"/>
</g>
</g>
<rect x="796.3" y="13.8" width="304.5" height="376.2" fill="none" stroke="#000" stroke-width="1.5"/>
<text x="0" y="0" font-size="33" text-anchor="middle" transform="translate(797.3 437.5) scale(1 1.040)">110</text>
<path d="M941.6 390.0 v-4.5 M941.6 13.8 v4.5" stroke="#000" stroke-width="1.3"/>
<text x="0" y="0" font-size="33" text-anchor="middle" transform="translate(942.6 437.5) scale(1 1.040)">115</text>
<path d="M1086.9 390.0 v-4.5 M1086.9 13.8 v4.5" stroke="#000" stroke-width="1.3"/>
<text x="0" y="0" font-size="33" text-anchor="middle" transform="translate(1087.9 437.5) scale(1 1.040)">120</text>
<path d="M796.3 71.7 h4.5 M1100.8 71.7 h-4.5" stroke="#000" stroke-width="1.3"/>
<text x="0" y="0" font-size="33" text-anchor="end" transform="translate(783.8 83.7) scale(1 1.040)">20</text>
<path d="M796.3 216.4 h4.5 M1100.8 216.4 h-4.5" stroke="#000" stroke-width="1.3"/>
<text x="0" y="0" font-size="33" text-anchor="end" transform="translate(783.8 228.4) scale(1 1.040)">15</text>
<path d="M796.3 361.1 h4.5 M1100.8 361.1 h-4.5" stroke="#000" stroke-width="1.3"/>
<text x="0" y="0" font-size="33" text-anchor="end" transform="translate(783.8 373.1) scale(1 1.040)">10</text>
<text x="0" y="0" font-size="33" text-anchor="start" font-weight="bold" transform="translate(1057.8 375.0) scale(1 1.000)">b</text>
<rect x="1143.8" y="13.8" width="44.2" height="376.2" fill="url(#cm_rdylbu)" stroke="#000" stroke-width="1.5"/>
<text x="0" y="0" font-size="33" text-anchor="start" transform="translate(1201.0 401.9) scale(1 1.040)">1.9</text>
<path d="M1188.0 264.6 h-4" stroke="#000" stroke-width="1.2"/>
<text x="0" y="0" font-size="33" text-anchor="start" transform="translate(1201.0 276.5) scale(1 1.040)">2</text>
<path d="M1188.0 139.2 h-4" stroke="#000" stroke-width="1.2"/>
<text x="0" y="0" font-size="33" text-anchor="start" transform="translate(1201.0 151.1) scale(1 1.040)">2.1</text>
<text x="0" y="0" font-size="33" text-anchor="start" transform="translate(1201.0 25.7) scale(1 1.040)">2.2</text>
<g transform="translate(1445.60 13.80) scale(0.9997 1.0000)">
<g clip-path="url(#seaclip)">
<rect x="-10" y="-10" width="330" height="400" fill="#eb9258"/>
<g filter="url(#gblur)">
<rect x="-25.5" y="-25.5" width="26" height="26" fill="#b5e0ea"/>
<rect x="-0.5" y="-25.5" width="26" height="26" fill="#b5e0ea"/>
<rect x="24.5" y="-25.5" width="26" height="26" fill="#7cb0d3"/>
<rect x="49.5" y="-25.5" width="26" height="26" fill="#7cb0d3"/>
<rect x="74.5" y="-25.5" width="26" height="26" fill="#7cb0d3"/>
<rect x="99.5" y="-25.5" width="26" height="26" fill="#7cb0d3"/>
<rect x="124.5" y="-25.5" width="26" height="26" fill="#7cb0d3"/>
<rect x="149.5" y="-25.5" width="26" height="26" fill="#4a76b4"/>
<rect x="174.5" y="-25.5" width="26" height="26" fill="#4a76b4"/>
<rect x="199.5" y="-25.5" width="26" height="26" fill="#4a76b4"/>
<rect x="224.5" y="-25.5" width="26" height="26" fill="#4a76b4"/>
<rect x="249.5" y="-25.5" width="26" height="26" fill="#4a76b4"/>
<rect x="274.5" y="-25.5" width="26" height="26" fill="#5e93c3"/>
<rect x="299.5" y="-25.5" width="26" height="26" fill="#7cb0d3"/>
<rect x="324.5" y="-25.5" width="26" height="26" fill="#7cb0d3"/>
<rect x="-25.5" y="-0.5" width="26" height="26" fill="#b5e0ea"/>
<rect x="-0.5" y="-0.5" width="26" height="26" fill="#b5e0ea"/>
<rect x="24.5" y="-0.5" width="26" height="26" fill="#7cb0d3"/>
<rect x="49.5" y="-0.5" width="26" height="26" fill="#7cb0d3"/>
<rect x="74.5" y="-0.5" width="26" height="26" fill="#7cb0d3"/>
<rect x="99.5" y="-0.5" width="26" height="26" fill="#7cb0d3"/>
<rect x="124.5" y="-0.5" width="26" height="26" fill="#7cb0d3"/>
<rect x="149.5" y="-0.5" width="26" height="26" fill="#4a76b4"/>
<rect x="174.5" y="-0.5" width="26" height="26" fill="#4a76b4"/>
<rect x="199.5" y="-0.5" width="26" height="26" fill="#4a76b4"/>
<rect x="224.5" y="-0.5" width="26" height="26" fill="#4a76b4"/>
<rect x="249.5" y="-0.5" width="26" height="26" fill="#4a76b4"/>
<rect x="274.5" y="-0.5" width="26" height="26" fill="#5e93c3"/>
<rect x="299.5" y="-0.5" width="26" height="26" fill="#7cb0d3"/>
<rect x="324.5" y="-0.5" width="26" height="26" fill="#7cb0d3"/>
<rect x="-25.5" y="24.5" width="26" height="26" fill="#b5e0ea"/>
<rect x="-0.5" y="24.5" width="26" height="26" fill="#b5e0ea"/>
<rect x="24.5" y="24.5" width="26" height="26" fill="#b5e0ea"/>
<rect x="49.5" y="24.5" width="26" height="26" fill="#7cb0d3"/>
<rect x="74.5" y="24.5" width="26" height="26" fill="#7cb0d3"/>
<rect x="99.5" y="24.5" width="26" height="26" fill="#7cb0d3"/>
<rect x="124.5" y="24.5" width="26" height="26" fill="#7cb0d3"/>
<rect x="149.5" y="24.5" width="26" height="26" fill="#9ccee0"/>
<rect x="174.5" y="24.5" width="26" height="26" fill="#4a76b4"/>
<rect x="199.5" y="24.5" width="26" height="26" fill="#4a76b4"/>
<rect x="224.5" y="24.5" width="26" height="26" fill="#4a76b4"/>
<rect x="249.5" y="24.5" width="26" height="26" fill="#4a76b4"/>
<rect x="274.5" y="24.5" width="26" height="26" fill="#5e93c3"/>
<rect x="299.5" y="24.5" width="26" height="26" fill="#7cb0d3"/>
<rect x="324.5" y="24.5" width="26" height="26" fill="#7cb0d3"/>
<rect x="-25.5" y="49.5" width="26" height="26" fill="#b5e0ea"/>
<rect x="-0.5" y="49.5" width="26" height="26" fill="#b5e0ea"/>
<rect x="24.5" y="49.5" width="26" height="26" fill="#b5e0ea"/>
<rect x="49.5" y="49.5" width="26" height="26" fill="#b5e0ea"/>
<rect x="74.5" y="49.5" width="26" height="26" fill="#7cb0d3"/>
<rect x="99.5" y="49.5" width="26" height="26" fill="#7cb0d3"/>
<rect x="124.5" y="49.5" width="26" height="26" fill="#7cb0d3"/>
<rect x="149.5" y="49.5" width="26" height="26" fill="#9ccee0"/>
<rect x="174.5" y="49.5" width="26" height="26" fill="#4a76b4"/>
<rect x="199.5" y="49.5" width="26" height="26" fill="#4a76b4"/>
<rect x="224.5" y="49.5" width="26" height="26" fill="#4a76b4"/>
<rect x="249.5" y="49.5" width="26" height="26" fill="#5e93c3"/>
<rect x="274.5" y="49.5" width="26" height="26" fill="#5e93c3"/>
<rect x="299.5" y="49.5" width="26" height="26" fill="#9ccee0"/>
<rect x="324.5" y="49.5" width="26" height="26" fill="#9ccee0"/>
<rect x="-25.5" y="74.5" width="26" height="26" fill="#b5e0ea"/>
<rect x="-0.5" y="74.5" width="26" height="26" fill="#b5e0ea"/>
<rect x="24.5" y="74.5" width="26" height="26" fill="#b5e0ea"/>
<rect x="49.5" y="74.5" width="26" height="26" fill="#b5e0ea"/>
<rect x="74.5" y="74.5" width="26" height="26" fill="#b5e0ea"/>
<rect x="99.5" y="74.5" width="26" height="26" fill="#7cb0d3"/>
<rect x="124.5" y="74.5" width="26" height="26" fill="#7cb0d3"/>
<rect x="149.5" y="74.5" width="26" height="26" fill="#9ccee0"/>
<rect x="174.5" y="74.5" width="26" height="26" fill="#9ccee0"/>
<rect x="199.5" y="74.5" width="26" height="26" fill="#b5e0ea"/>
<rect x="224.5" y="74.5" width="26" height="26" fill="#b5e0ea"/>
<rect x="249.5" y="74.5" width="26" height="26" fill="#cdedef"/>
<rect x="274.5" y="74.5" width="26" height="26" fill="#cdedef"/>
<rect x="299.5" y="74.5" width="26" height="26" fill="#4a76b4"/>
<rect x="324.5" y="74.5" width="26" height="26" fill="#4a76b4"/>
<rect x="-25.5" y="99.5" width="26" height="26" fill="#b5e0ea"/>
<rect x="-0.5" y="99.5" width="26" height="26" fill="#b5e0ea"/>
<rect x="24.5" y="99.5" width="26" height="26" fill="#b5e0ea"/>
<rect x="49.5" y="99.5" width="26" height="26" fill="#b5e0ea"/>
<rect x="74.5" y="99.5" width="26" height="26" fill="#b5e0ea"/>
<rect x="99.5" y="99.5" width="26" height="26" fill="#b5e0ea"/>
<rect x="124.5" y="99.5" width="26" height="26" fill="#cdedef"/>
<rect x="149.5" y="99.5" width="26" height="26" fill="#cdedef"/>
<rect x="174.5" y="99.5" width="26" height="26" fill="#def3f3"/>
<rect x="199.5" y="99.5" width="26" height="26" fill="#def3f3"/>
<rect x="224.5" y="99.5" width="26" height="26" fill="#def3f3"/>
<rect x="249.5" y="99.5" width="26" height="26" fill="#cdedef"/>
<rect x="274.5" y="99.5" width="26" height="26" fill="#4a76b4"/>
<rect x="299.5" y="99.5" width="26" height="26" fill="#4158a6"/>
<rect x="324.5" y="99.5" width="26" height="26" fill="#4158a6"/>
<rect x="-25.5" y="124.5" width="26" height="26" fill="#b5e0ea"/>
<rect x="-0.5" y="124.5" width="26" height="26" fill="#b5e0ea"/>
<rect x="24.5" y="124.5" width="26" height="26" fill="#b5e0ea"/>
<rect x="49.5" y="124.5" width="26" height="26" fill="#b5e0ea"/>
<rect x="74.5" y="124.5" width="26" height="26" fill="#b5e0ea"/>
<rect x="99.5" y="124.5" width="26" height="26" fill="#b5e0ea"/>
<rect x="124.5" y="124.5" width="26" height="26" fill="#b5e0ea"/>
<rect x="149.5" y="124.5" width="26" height="26" fill="#cdedef"/>
<rect x="174.5" y="124.5" width="26" height="26" fill="#efe08b"/>
<rect x="199.5" y="124.5" width="26" height="26" fill="#efe08b"/>
<rect x="224.5" y="124.5" width="26" height="26" fill="#ecefc4"/>
<rect x="249.5" y="124.5" width="26" height="26" fill="#ecefc4"/>
<rect x="274.5" y="124.5" width="26" height="26" fill="#4a76b4"/>
<rect x="299.5" y="124.5" width="26" height="26" fill="#4158a6"/>
<rect x="324.5" y="124.5" width="26" height="26" fill="#4158a6"/>
<rect x="-25.5" y="149.5" width="26" height="26" fill="#cdedef"/>
<rect x="-0.5" y="149.5" width="26" height="26" fill="#cdedef"/>
<rect x="24.5" y="149.5" width="26" height="26" fill="#b5e0ea"/>
<rect x="49.5" y="149.5" width="26" height="26" fill="#b5e0ea"/>
<rect x="74.5" y="149.5" width="26" height="26" fill="#b5e0ea"/>
<rect x="99.5" y="149.5" width="26" height="26" fill="#b5e0ea"/>
<rect x="124.5" y="149.5" width="26" height="26" fill="#b5e0ea"/>
<rect x="149.5" y="149.5" width="26" height="26" fill="#efc878"/>
<rect x="174.5" y="149.5" width="26" height="26" fill="#efc878"/>
<rect x="199.5" y="149.5" width="26" height="26" fill="#efc878"/>
<rect x="224.5" y="149.5" width="26" height="26" fill="#efe08b"/>
<rect x="249.5" y="149.5" width="26" height="26" fill="#efc878"/>
<rect x="274.5" y="149.5" width="26" height="26" fill="#4a76b4"/>
<rect x="299.5" y="149.5" width="26" height="26" fill="#4a76b4"/>
<rect x="324.5" y="149.5" width="26" height="26" fill="#4a76b4"/>
<rect x="-25.5" y="174.5" width="26" height="26" fill="#e6e8d2"/>
<rect x="-0.5" y="174.5" width="26" height="26" fill="#e6e8d2"/>
<rect x="24.5" y="174.5" width="26" height="26" fill="#cdedef"/>
<rect x="49.5" y="174.5" width="26" height="26" fill="#b5e0ea"/>
<rect x="74.5" y="174.5" width="26" height="26" fill="#b5e0ea"/>
<rect x="99.5" y="174.5" width="26" height="26" fill="#b5e0ea"/>
<rect x="124.5" y="174.5" width="26" height="26" fill="#eeaa63"/>
<rect x="149.5" y="174.5" width="26" height="26" fill="#eeaa63"/>
<rect x="174.5" y="174.5" width="26" height="26" fill="#eeaa63"/>
<rect x="199.5" y="174.5" width="26" height="26" fill="#efc878"/>
<rect x="224.5" y="174.5" width="26" height="26" fill="#efc878"/>
<rect x="249.5" y="174.5" width="26" height="26" fill="#ec9357"/>
<rect x="274.5" y="174.5" width="26" height="26" fill="#ec9357"/>
<rect x="299.5" y="174.5" width="26" height="26" fill="#b5e0ea"/>
<rect x="324.5" y="174.5" width="26" height="26" fill="#b5e0ea"/>
<rect x="-25.5" y="199.5" width="26" height="26" fill="#e6e8d2"/>
<rect x="-0.5" y="199.5" width="26" height="26" fill="#e6e8d2"/>
<rect x="24.5" y="199.5" width="26" height="26" fill="#cdedef"/>
<rect x="49.5" y="199.5" width="26" height="26" fill="#cdedef"/>
<rect x="74.5" y="199.5" width="26" height="26" fill="#cdedef"/>
<rect x="99.5" y="199.5" width="26" height="26" fill="#eeaa63"/>
<rect x="124.5" y="199.5" width="26" height="26" fill="#ec9357"/>
<rect x="149.5" y="199.5" width="26" height="26" fill="#eeaa63"/>
<rect x="174.5" y="199.5" width="26" height="26" fill="#ec9357"/>
<rect x="199.5" y="199.5" width="26" height="26" fill="#eeaa63"/>
<rect x="224.5" y="199.5" width="26" height="26" fill="#eeaa63"/>
<rect x="249.5" y="199.5" width="26" height="26" fill="#eeaa63"/>
<rect x="274.5" y="199.5" width="26" height="26" fill="#b5e0ea"/>
<rect x="299.5" y="199.5" width="26" height="26" fill="#b5e0ea"/>
<rect x="324.5" y="199.5" width="26" height="26" fill="#b5e0ea"/>
<rect x="-25.5" y="224.5" width="26" height="26" fill="#e6e8d2"/>
<rect x="-0.5" y="224.5" width="26" height="26" fill="#e6e8d2"/>
<rect x="24.5" y="224.5" width="26" height="26" fill="#e6e8d2"/>
<rect x="49.5" y="224.5" width="26" height="26" fill="#cdedef"/>
<rect x="74.5" y="224.5" width="26" height="26" fill="#def3f3"/>
<rect x="99.5" y="224.5" width="26" height="26" fill="#ec9357"/>
<rect x="124.5" y="224.5" width="26" height="26" fill="#ec9357"/>
<rect x="149.5" y="224.5" width="26" height="26" fill="#ec9357"/>
<rect x="174.5" y="224.5" width="26" height="26" fill="#eeaa63"/>
<rect x="199.5" y="224.5" width="26" height="26" fill="#eeaa63"/>
<rect x="224.5" y="224.5" width="26" height="26" fill="#efe08b"/>
<rect x="249.5" y="224.5" width="26" height="26" fill="#cdedef"/>
<rect x="274.5" y="224.5" width="26" height="26" fill="#b5e0ea"/>
<rect x="299.5" y="224.5" width="26" height="26" fill="#b5e0ea"/>
<rect x="324.5" y="224.5" width="26" height="26" fill="#b5e0ea"/>
<rect x="-25.5" y="249.5" width="26" height="26" fill="#e6e8d2"/>
<rect x="-0.5" y="249.5" width="26" height="26" fill="#e6e8d2"/>
<rect x="24.5" y="249.5" width="26" height="26" fill="#e6e8d2"/>
<rect x="49.5" y="249.5" width="26" height="26" fill="#eeaa63"/>
<rect x="74.5" y="249.5" width="26" height="26" fill="#ec9357"/>
<rect x="99.5" y="249.5" width="26" height="26" fill="#ec9357"/>
<rect x="124.5" y="249.5" width="26" height="26" fill="#ec9357"/>
<rect x="149.5" y="249.5" width="26" height="26" fill="#ec9357"/>
<rect x="174.5" y="249.5" width="26" height="26" fill="#eeaa63"/>
<rect x="199.5" y="249.5" width="26" height="26" fill="#efc878"/>
<rect x="224.5" y="249.5" width="26" height="26" fill="#cdedef"/>
<rect x="249.5" y="249.5" width="26" height="26" fill="#b5e0ea"/>
<rect x="274.5" y="249.5" width="26" height="26" fill="#b5e0ea"/>
<rect x="299.5" y="249.5" width="26" height="26" fill="#b5e0ea"/>
<rect x="324.5" y="249.5" width="26" height="26" fill="#b5e0ea"/>
<rect x="-25.5" y="274.5" width="26" height="26" fill="#e6e8d2"/>
<rect x="-0.5" y="274.5" width="26" height="26" fill="#e6e8d2"/>
<rect x="24.5" y="274.5" width="26" height="26" fill="#e6e8d2"/>
<rect x="49.5" y="274.5" width="26" height="26" fill="#eeaa63"/>
<rect x="74.5" y="274.5" width="26" height="26" fill="#ec9357"/>
<rect x="99.5" y="274.5" width="26" height="26" fill="#ec9357"/>
<rect x="124.5" y="274.5" width="26" height="26" fill="#ec9357"/>
<rect x="149.5" y="274.5" width="26" height="26" fill="#ec9357"/>
<rect x="174.5" y="274.5" width="26" height="26" fill="#efe08b"/>
<rect x="199.5" y="274.5" width="26" height="26" fill="#ecefc4"/>
<rect x="224.5" y="274.5" width="26" height="26" fill="#cdedef"/>
<rect x="249.5" y="274.5" width="26" height="26" fill="#b5e0ea"/>
<rect x="274.5" y="274.5" width="26" height="26" fill="#b5e0ea"/>
<rect x="299.5" y="274.5" width="26" height="26" fill="#b5e0ea"/>
<rect x="324.5" y="274.5" width="26" height="26" fill="#b5e0ea"/>
<rect x="-25.5" y="299.5" width="26" height="26" fill="#e6e8d2"/>
<rect x="-0.5" y="299.5" width="26" height="26" fill="#e6e8d2"/>
<rect x="24.5" y="299.5" width="26" height="26" fill="#e6e8d2"/>
<rect x="49.5" y="299.5" width="26" height="26" fill="#ec9357"/>
<rect x="74.5" y="299.5" width="26" height="26" fill="#ec9357"/>
<rect x="99.5" y="299.5" width="26" height="26" fill="#ec9357"/>
<rect x="124.5" y="299.5" width="26" height="26" fill="#ec9357"/>
<rect x="149.5" y="299.5" width="26" height="26" fill="#cdedef"/>
<rect x="174.5" y="299.5" width="26" height="26" fill="#efe08b"/>
<rect x="199.5" y="299.5" width="26" height="26" fill="#ecefc4"/>
<rect x="224.5" y="299.5" width="26" height="26" fill="#cdedef"/>
<rect x="249.5" y="299.5" width="26" height="26" fill="#cdedef"/>
<rect x="274.5" y="299.5" width="26" height="26" fill="#b5e0ea"/>
<rect x="299.5" y="299.5" width="26" height="26" fill="#b5e0ea"/>
<rect x="324.5" y="299.5" width="26" height="26" fill="#b5e0ea"/>
<rect x="-25.5" y="324.5" width="26" height="26" fill="#e6e8d2"/>
<rect x="-0.5" y="324.5" width="26" height="26" fill="#e6e8d2"/>
<rect x="24.5" y="324.5" width="26" height="26" fill="#efc878"/>
<rect x="49.5" y="324.5" width="26" height="26" fill="#eeaa63"/>
<rect x="74.5" y="324.5" width="26" height="26" fill="#def3f3"/>
<rect x="99.5" y="324.5" width="26" height="26" fill="#ec9357"/>
<rect x="124.5" y="324.5" width="26" height="26" fill="#cdedef"/>
<rect x="149.5" y="324.5" width="26" height="26" fill="#cdedef"/>
<rect x="174.5" y="324.5" width="26" height="26" fill="#cdedef"/>
<rect x="199.5" y="324.5" width="26" height="26" fill="#ecefc4"/>
<rect x="224.5" y="324.5" width="26" height="26" fill="#cdedef"/>
<rect x="249.5" y="324.5" width="26" height="26" fill="#cdedef"/>
<rect x="274.5" y="324.5" width="26" height="26" fill="#cdedef"/>
<rect x="299.5" y="324.5" width="26" height="26" fill="#b5e0ea"/>
<rect x="324.5" y="324.5" width="26" height="26" fill="#b5e0ea"/>
<rect x="-25.5" y="349.5" width="26" height="26" fill="#e6e8d2"/>
<rect x="-0.5" y="349.5" width="26" height="26" fill="#e6e8d2"/>
<rect x="24.5" y="349.5" width="26" height="26" fill="#efe08b"/>
<rect x="49.5" y="349.5" width="26" height="26" fill="#eeaa63"/>
<rect x="74.5" y="349.5" width="26" height="26" fill="#def3f3"/>
<rect x="99.5" y="349.5" width="26" height="26" fill="#def3f3"/>
<rect x="124.5" y="349.5" width="26" height="26" fill="#cdedef"/>
<rect x="149.5" y="349.5" width="26" height="26" fill="#cdedef"/>
<rect x="174.5" y="349.5" width="26" height="26" fill="#cdedef"/>
<rect x="199.5" y="349.5" width="26" height="26" fill="#cdedef"/>
<rect x="224.5" y="349.5" width="26" height="26" fill="#cdedef"/>
<rect x="249.5" y="349.5" width="26" height="26" fill="#cdedef"/>
<rect x="274.5" y="349.5" width="26" height="26" fill="#cdedef"/>
<rect x="299.5" y="349.5" width="26" height="26" fill="#cdedef"/>
<rect x="324.5" y="349.5" width="26" height="26" fill="#cdedef"/>
<rect x="-25.5" y="374.5" width="26" height="26" fill="#e6e8d2"/>
<rect x="-0.5" y="374.5" width="26" height="26" fill="#e6e8d2"/>
<rect x="24.5" y="374.5" width="26" height="26" fill="#efe08b"/>
<rect x="49.5" y="374.5" width="26" height="26" fill="#efe08b"/>
<rect x="74.5" y="374.5" width="26" height="26" fill="#def3f3"/>
<rect x="99.5" y="374.5" width="26" height="26" fill="#def3f3"/>
<rect x="124.5" y="374.5" width="26" height="26" fill="#cdedef"/>
<rect x="149.5" y="374.5" width="26" height="26" fill="#cdedef"/>
<rect x="174.5" y="374.5" width="26" height="26" fill="#cdedef"/>
<rect x="199.5" y="374.5" width="26" height="26" fill="#cdedef"/>
<rect x="224.5" y="374.5" width="26" height="26" fill="#cdedef"/>
<rect x="249.5" y="374.5" width="26" height="26" fill="#cdedef"/>
<rect x="274.5" y="374.5" width="26" height="26" fill="#cdedef"/>
<rect x="299.5" y="374.5" width="26" height="26" fill="#cdedef"/>
<rect x="324.5" y="374.5" width="26" height="26" fill="#cdedef"/>
<rect x="-25.5" y="399.5" width="26" height="26" fill="#e6e8d2"/>
<rect x="-0.5" y="399.5" width="26" height="26" fill="#e6e8d2"/>
<rect x="24.5" y="399.5" width="26" height="26" fill="#efe08b"/>
<rect x="49.5" y="399.5" width="26" height="26" fill="#efe08b"/>
<rect x="74.5" y="399.5" width="26" height="26" fill="#def3f3"/>
<rect x="99.5" y="399.5" width="26" height="26" fill="#def3f3"/>
<rect x="124.5" y="399.5" width="26" height="26" fill="#cdedef"/>
<rect x="149.5" y="399.5" width="26" height="26" fill="#cdedef"/>
<rect x="174.5" y="399.5" width="26" height="26" fill="#cdedef"/>
<rect x="199.5" y="399.5" width="26" height="26" fill="#cdedef"/>
<rect x="224.5" y="399.5" width="26" height="26" fill="#cdedef"/>
<rect x="249.5" y="399.5" width="26" height="26" fill="#cdedef"/>
<rect x="274.5" y="399.5" width="26" height="26" fill="#cdedef"/>
<rect x="299.5" y="399.5" width="26" height="26" fill="#cdedef"/>
<rect x="324.5" y="399.5" width="26" height="26" fill="#cdedef"/>
</g>
<path d="M276.5 1.2 L291.0 1.2 L301.7 16.4 L305.5 32.0 L305.5 78.7 L300.0 82.0 L290.0 93.0 L281.0 105.0 L276.0 109.0 L271.0 111.0 L270.2 125.0 L269.5 140.0 L269.9 166.2 L271.2 199.3 L283.0 206.0 L283.0 216.5 L275.2 219.2 L285.8 227.1 L279.2 237.7 L289.7 241.7 L296.4 249.6 L296.4 258.9 L284.5 260.2 L271.2 258.9 L267.2 264.2 L264.6 269.5 L255.3 264.2 L244.7 266.9 L246.0 285.4 L236.8 292.0 L223.5 302.6 L215.6 292.0 L207.6 284.1 L194.4 285.4 L183.8 288.0 L174.5 294.7 L168.5 305.3 L166.6 318.5 L158.3 332.8 L153.0 315.9 L149.0 302.0 L139.1 296.1 L125.8 297.5 L116.6 302.8 L112.6 312.0 L111.3 325.3 L106.0 331.9 L84.8 338.5 L74.2 337.2 L63.6 345.1 L55.6 349.1 L42.4 355.7 L29.1 362.4 L23.8 372.9 L10.6 371.6 L6.6 358.4 L10.6 351.8 L26.5 338.5 L34.4 325.3 L37.1 312.0 L41.1 296.1 L46.4 282.9 L53.0 272.3 L57.0 265.7 L74.2 257.7 L92.7 255.1 L98.0 231.2 L84.8 229.9 L72.5 221.3 L82.1 208.7 L75.5 201.4 L78.2 197.2 L84.8 190.6 L91.4 186.6 L95.5 179.0 L97.0 172.0 L98.5 165.0 L102.0 158.0 L105.5 152.2 L109.9 141.6 L104.6 136.3 L104.6 129.6 L119.2 123.0 L112.6 117.7 L114.0 109.2 L92.0 109.2 L92.0 107.2 L117.0 107.2 L121.9 100.5 L128.5 93.9 L137.7 91.2 L152.0 91.9 L161.3 90.6 L160.0 76.0 L173.2 81.3 L181.1 88.0 L189.1 81.3 L198.4 76.0 L194.4 71.4 L205.0 68.1 L214.3 64.1 L215.6 60.1 L227.5 56.2 L228.8 50.9 L244.7 46.9 L252.7 44.2 L251.3 37.6 L247.4 35.0 L247.4 25.7 L254.0 16.4 L255.3 11.1 L268.6 8.5 L271.2 4.5 Z M31.8 228.6 L47.7 228.6 L50.3 241.8 L53.0 249.8 L51.7 259.0 L39.7 263.0 L29.1 268.3 L21.2 273.6 L14.6 276.3 L23.8 265.7 L26.5 257.7 L9.3 255.1 L9.3 244.5 L21.2 239.2 L31.8 237.0 Z M12.0 281.0 L25.0 279.0 L28.0 290.0 L31.8 300.0 L27.0 308.0 L15.0 307.0 L11.0 296.0 Z M25.0 310.0 L35.0 309.4 L35.8 318.7 L26.0 318.0 Z M305.5 88.0 L305.5 95.0 L298.0 103.0 L292.0 111.0 L292.0 122.0 L287.0 127.0 L285.0 145.0 L272.0 145.0 L272.0 127.0 L282.0 122.0 L276.0 117.0 L283.0 113.0 L290.0 100.0 Z M84.0 109.0 L88.0 108.5 L88.0 110.5 L84.0 111.0 Z M77.0 111.5 L80.0 111.0 L80.0 113.0 L77.0 113.5 Z M84.0 243.0 L90.0 246.0 L90.0 255.0 L82.0 254.0 Z M255.0 272.0 L262.0 270.0 L260.0 280.0 L254.0 283.0 Z" fill="none" stroke="#c6e4ee" stroke-width="4" filter="url(#bl3)"/>
<ellipse cx="100" cy="200" rx="12" ry="40" transform="rotate(25 100 200)" fill="#cde8ef" filter="url(#bl3)"/>
<path d="M305.5 88.0 L305.5 95.0 L298.0 103.0 L292.0 111.0 L292.0 122.0 L287.0 127.0 L285.0 145.0 L272.0 145.0 L272.0 127.0 L282.0 122.0 L276.0 117.0 L283.0 113.0 L290.0 100.0 Z" fill="#3446a0" filter="url(#bl1)"/>
<path d="M265.0 150.0 L269.5 150.0 L270.5 225.0 L276.0 238.0 L287.0 250.0 L297.0 259.0 L286.0 260.0 L272.0 250.0 L266.0 238.0 L264.0 200.0 Z" fill="#d9472f" filter="url(#bl2)"/>
<path d="M31.8 228.6 L47.7 228.6 L50.3 241.8 L53.0 249.8 L51.7 259.0 L39.7 263.0 L29.1 268.3 L21.2 273.6 L14.6 276.3 L23.8 265.7 L26.5 257.7 L9.3 255.1 L9.3 244.5 L21.2 239.2 L31.8 237.0 Z" fill="#e6e8d2" filter="url(#bl1)"/>
<path d="M12.0 281.0 L25.0 279.0 L28.0 290.0 L31.8 300.0 L27.0 308.0 L15.0 307.0 L11.0 296.0 Z" fill="#e6e8d2" filter="url(#bl1)"/>
<path d="M25.0 310.0 L35.0 309.4 L35.8 318.7 L26.0 318.0 Z" fill="#e6e8d2" filter="url(#bl1)"/>
</g>
</g>
<rect x="1445.6" y="13.8" width="305.4" height="376.2" fill="none" stroke="#000" stroke-width="1.5"/>
<text x="0" y="0" font-size="33" text-anchor="middle" transform="translate(1446.6 437.5) scale(1 1.040)">110</text>
<path d="M1591.3 390.0 v-4.5 M1591.3 13.8 v4.5" stroke="#000" stroke-width="1.3"/>
<text x="0" y="0" font-size="33" text-anchor="middle" transform="translate(1592.3 437.5) scale(1 1.040)">115</text>
<path d="M1737.0 390.0 v-4.5 M1737.0 13.8 v4.5" stroke="#000" stroke-width="1.3"/>
<text x="0" y="0" font-size="33" text-anchor="middle" transform="translate(1738.0 437.5) scale(1 1.040)">120</text>
<path d="M1445.6 71.7 h4.5 M1751.0 71.7 h-4.5" stroke="#000" stroke-width="1.3"/>
<text x="0" y="0" font-size="33" text-anchor="end" transform="translate(1433.1 83.7) scale(1 1.040)">20</text>
<path d="M1445.6 216.4 h4.5 M1751.0 216.4 h-4.5" stroke="#000" stroke-width="1.3"/>
<text x="0" y="0" font-size="33" text-anchor="end" transform="translate(1433.1 228.4) scale(1 1.040)">15</text>
<path d="M1445.6 361.1 h4.5 M1751.0 361.1 h-4.5" stroke="#000" stroke-width="1.3"/>
<text x="0" y="0" font-size="33" text-anchor="end" transform="translate(1433.1 373.1) scale(1 1.040)">10</text>
<text x="0" y="0" font-size="33" text-anchor="start" font-weight="bold" transform="translate(1708.0 375.0) scale(1 1.000)">c</text>
<rect x="1802.0" y="13.8" width="44.2" height="376.2" fill="url(#cm_rdylbu)" stroke="#000" stroke-width="1.5"/>
<text x="0" y="0" font-size="33" text-anchor="start" transform="translate(1859.2 401.9) scale(1 1.040)">34.62</text>
<path d="M1846.2 264.6 h-4" stroke="#000" stroke-width="1.2"/>
<text x="0" y="0" font-size="33" text-anchor="start" transform="translate(1859.2 276.5) scale(1 1.040)">34.63</text>
<path d="M1846.2 139.2 h-4" stroke="#000" stroke-width="1.2"/>
<text x="0" y="0" font-size="33" text-anchor="start" transform="translate(1859.2 151.1) scale(1 1.040)">34.64</text>
<text x="0" y="0" font-size="33" text-anchor="start" transform="translate(1859.2 25.7) scale(1 1.040)">34.65</text>
<g transform="translate(93.00 483.00) scale(1.0000 1.0008)">
<g clip-path="url(#seaclip)">
<rect x="-10" y="-10" width="330" height="400" fill="#a4d3e3"/>
<g filter="url(#gblur)">
<rect x="-25.5" y="-25.5" width="26" height="26" fill="#4a76b4"/>
<rect x="-0.5" y="-25.5" width="26" height="26" fill="#4a76b4"/>
<rect x="24.5" y="-25.5" width="26" height="26" fill="#4158a6"/>
<rect x="49.5" y="-25.5" width="26" height="26" fill="#4158a6"/>
<rect x="74.5" y="-25.5" width="26" height="26" fill="#4158a6"/>
<rect x="99.5" y="-25.5" width="26" height="26" fill="#4158a6"/>
<rect x="124.5" y="-25.5" width="26" height="26" fill="#4158a6"/>
<rect x="149.5" y="-25.5" width="26" height="26" fill="#4158a6"/>
<rect x="174.5" y="-25.5" width="26" height="26" fill="#4158a6"/>
<rect x="199.5" y="-25.5" width="26" height="26" fill="#4158a6"/>
<rect x="224.5" y="-25.5" width="26" height="26" fill="#4158a6"/>
<rect x="249.5" y="-25.5" width="26" height="26" fill="#4158a6"/>
<rect x="274.5" y="-25.5" width="26" height="26" fill="#4158a6"/>
<rect x="299.5" y="-25.5" width="26" height="26" fill="#4158a6"/>
<rect x="324.5" y="-25.5" width="26" height="26" fill="#4158a6"/>
<rect x="-25.5" y="-0.5" width="26" height="26" fill="#4a76b4"/>
<rect x="-0.5" y="-0.5" width="26" height="26" fill="#4a76b4"/>
<rect x="24.5" y="-0.5" width="26" height="26" fill="#4158a6"/>
<rect x="49.5" y="-0.5" width="26" height="26" fill="#4158a6"/>
<rect x="74.5" y="-0.5" width="26" height="26" fill="#4158a6"/>
<rect x="99.5" y="-0.5" width="26" height="26" fill="#4158a6"/>
<rect x="124.5" y="-0.5" width="26" height="26" fill="#4158a6"/>
<rect x="149.5" y="-0.5" width="26" height="26" fill="#4158a6"/>
<rect x="174.5" y="-0.5" width="26" height="26" fill="#4158a6"/>
<rect x="199.5" y="-0.5" width="26" height="26" fill="#4158a6"/>
<rect x="224.5" y="-0.5" width="26" height="26" fill="#4158a6"/>
<rect x="249.5" y="-0.5" width="26" height="26" fill="#4158a6"/>
<rect x="274.5" y="-0.5" width="26" height="26" fill="#4158a6"/>
<rect x="299.5" y="-0.5" width="26" height="26" fill="#4158a6"/>
<rect x="324.5" y="-0.5" width="26" height="26" fill="#4158a6"/>
<rect x="-25.5" y="24.5" width="26" height="26" fill="#4a76b4"/>
<rect x="-0.5" y="24.5" width="26" height="26" fill="#4a76b4"/>
<rect x="24.5" y="24.5" width="26" height="26" fill="#4a76b4"/>
<rect x="49.5" y="24.5" width="26" height="26" fill="#4158a6"/>
<rect x="74.5" y="24.5" width="26" height="26" fill="#4158a6"/>
<rect x="99.5" y="24.5" width="26" height="26" fill="#4158a6"/>
<rect x="124.5" y="24.5" width="26" height="26" fill="#4158a6"/>
<rect x="149.5" y="24.5" width="26" height="26" fill="#4a76b4"/>
<rect x="174.5" y="24.5" width="26" height="26" fill="#4158a6"/>
<rect x="199.5" y="24.5" width="26" height="26" fill="#4158a6"/>
<rect x="224.5" y="24.5" width="26" height="26" fill="#4158a6"/>
<rect x="249.5" y="24.5" width="26" height="26" fill="#4158a6"/>
<rect x="274.5" y="24.5" width="26" height="26" fill="#4158a6"/>
<rect x="299.5" y="24.5" width="26" height="26" fill="#4a76b4"/>
<rect x="324.5" y="24.5" width="26" height="26" fill="#4a76b4"/>
<rect x="-25.5" y="49.5" width="26" height="26" fill="#4a76b4"/>
<rect x="-0.5" y="49.5" width="26" height="26" fill="#4a76b4"/>
<rect x="24.5" y="49.5" width="26" height="26" fill="#4a76b4"/>
<rect x="49.5" y="49.5" width="26" height="26" fill="#4a76b4"/>
<rect x="74.5" y="49.5" width="26" height="26" fill="#4158a6"/>
<rect x="99.5" y="49.5" width="26" height="26" fill="#4158a6"/>
<rect x="124.5" y="49.5" width="26" height="26" fill="#4158a6"/>
<rect x="149.5" y="49.5" width="26" height="26" fill="#4a76b4"/>
<rect x="174.5" y="49.5" width="26" height="26" fill="#4158a6"/>
<rect x="199.5" y="49.5" width="26" height="26" fill="#4158a6"/>
<rect x="224.5" y="49.5" width="26" height="26" fill="#4158a6"/>
<rect x="249.5" y="49.5" width="26" height="26" fill="#4158a6"/>
<rect x="274.5" y="49.5" width="26" height="26" fill="#4a76b4"/>
<rect x="299.5" y="49.5" width="26" height="26" fill="#4a76b4"/>
<rect x="324.5" y="49.5" width="26" height="26" fill="#4a76b4"/>
<rect x="-25.5" y="74.5" width="26" height="26" fill="#4a76b4"/>
<rect x="-0.5" y="74.5" width="26" height="26" fill="#4a76b4"/>
<rect x="24.5" y="74.5" width="26" height="26" fill="#4a76b4"/>
<rect x="49.5" y="74.5" width="26" height="26" fill="#4a76b4"/>
<rect x="74.5" y="74.5" width="26" height="26" fill="#4a76b4"/>
<rect x="99.5" y="74.5" width="26" height="26" fill="#4158a6"/>
<rect x="124.5" y="74.5" width="26" height="26" fill="#4158a6"/>
<rect x="149.5" y="74.5" width="26" height="26" fill="#4a76b4"/>
<rect x="174.5" y="74.5" width="26" height="26" fill="#4a76b4"/>
<rect x="199.5" y="74.5" width="26" height="26" fill="#5e93c3"/>
<rect x="224.5" y="74.5" width="26" height="26" fill="#5e93c3"/>
<rect x="249.5" y="74.5" width="26" height="26" fill="#5e93c3"/>
<rect x="274.5" y="74.5" width="26" height="26" fill="#5e93c3"/>
<rect x="299.5" y="74.5" width="26" height="26" fill="#4a76b4"/>
<rect x="324.5" y="74.5" width="26" height="26" fill="#4a76b4"/>
<rect x="-25.5" y="99.5" width="26" height="26" fill="#4a76b4"/>
<rect x="-0.5" y="99.5" width="26" height="26" fill="#4a76b4"/>
<rect x="24.5" y="99.5" width="26" height="26" fill="#4a76b4"/>
<rect x="49.5" y="99.5" width="26" height="26" fill="#4a76b4"/>
<rect x="74.5" y="99.5" width="26" height="26" fill="#4a76b4"/>
<rect x="99.5" y="99.5" width="26" height="26" fill="#4a76b4"/>
<rect x="124.5" y="99.5" width="26" height="26" fill="#5e93c3"/>
<rect x="149.5" y="99.5" width="26" height="26" fill="#5e93c3"/>
<rect x="174.5" y="99.5" width="26" height="26" fill="#5e93c3"/>
<rect x="199.5" y="99.5" width="26" height="26" fill="#5e93c3"/>
<rect x="224.5" y="99.5" width="26" height="26" fill="#7cb0d3"/>
<rect x="249.5" y="99.5" width="26" height="26" fill="#7cb0d3"/>
<rect x="274.5" y="99.5" width="26" height="26" fill="#4158a6"/>
<rect x="299.5" y="99.5" width="26" height="26" fill="#4158a6"/>
<rect x="324.5" y="99.5" width="26" height="26" fill="#4158a6"/>
<rect x="-25.5" y="124.5" width="26" height="26" fill="#4158a6"/>
<rect x="-0.5" y="124.5" width="26" height="26" fill="#4158a6"/>
<rect x="24.5" y="124.5" width="26" height="26" fill="#4158a6"/>
<rect x="49.5" y="124.5" width="26" height="26" fill="#5e93c3"/>
<rect x="74.5" y="124.5" width="26" height="26" fill="#5e93c3"/>
<rect x="99.5" y="124.5" width="26" height="26" fill="#5e93c3"/>
<rect x="124.5" y="124.5" width="26" height="26" fill="#5e93c3"/>
<rect x="149.5" y="124.5" width="26" height="26" fill="#5e93c3"/>
<rect x="174.5" y="124.5" width="26" height="26" fill="#7cb0d3"/>
<rect x="199.5" y="124.5" width="26" height="26" fill="#7cb0d3"/>
<rect x="224.5" y="124.5" width="26" height="26" fill="#7cb0d3"/>
<rect x="249.5" y="124.5" width="26" height="26" fill="#7cb0d3"/>
<rect x="274.5" y="124.5" width="26" height="26" fill="#4158a6"/>
<rect x="299.5" y="124.5" width="26" height="26" fill="#4158a6"/>
<rect x="324.5" y="124.5" width="26" height="26" fill="#4158a6"/>
<rect x="-25.5" y="149.5" width="26" height="26" fill="#4158a6"/>
<rect x="-0.5" y="149.5" width="26" height="26" fill="#4158a6"/>
<rect x="24.5" y="149.5" width="26" height="26" fill="#4158a6"/>
<rect x="49.5" y="149.5" width="26" height="26" fill="#4158a6"/>
<rect x="74.5" y="149.5" width="26" height="26" fill="#4a76b4"/>
<rect x="99.5" y="149.5" width="26" height="26" fill="#4a76b4"/>
<rect x="124.5" y="149.5" width="26" height="26" fill="#5e93c3"/>
<rect x="149.5" y="149.5" width="26" height="26" fill="#7cb0d3"/>
<rect x="174.5" y="149.5" width="26" height="26" fill="#7cb0d3"/>
<rect x="199.5" y="149.5" width="26" height="26" fill="#7cb0d3"/>
<rect x="224.5" y="149.5" width="26" height="26" fill="#7cb0d3"/>
<rect x="249.5" y="149.5" width="26" height="26" fill="#7cb0d3"/>
<rect x="274.5" y="149.5" width="26" height="26" fill="#4158a6"/>
<rect x="299.5" y="149.5" width="26" height="26" fill="#4158a6"/>
<rect x="324.5" y="149.5" width="26" height="26" fill="#4158a6"/>
<rect x="-25.5" y="174.5" width="26" height="26" fill="#4158a6"/>
<rect x="-0.5" y="174.5" width="26" height="26" fill="#4158a6"/>
<rect x="24.5" y="174.5" width="26" height="26" fill="#4158a6"/>
<rect x="49.5" y="174.5" width="26" height="26" fill="#4158a6"/>
<rect x="74.5" y="174.5" width="26" height="26" fill="#4158a6"/>
<rect x="99.5" y="174.5" width="26" height="26" fill="#4a76b4"/>
<rect x="124.5" y="174.5" width="26" height="26" fill="#7cb0d3"/>
<rect x="149.5" y="174.5" width="26" height="26" fill="#9ccee0"/>
<rect x="174.5" y="174.5" width="26" height="26" fill="#9ccee0"/>
<rect x="199.5" y="174.5" width="26" height="26" fill="#9ccee0"/>
<rect x="224.5" y="174.5" width="26" height="26" fill="#7cb0d3"/>
<rect x="249.5" y="174.5" width="26" height="26" fill="#7cb0d3"/>
<rect x="274.5" y="174.5" width="26" height="26" fill="#7cb0d3"/>
<rect x="299.5" y="174.5" width="26" height="26" fill="#4158a6"/>
<rect x="324.5" y="174.5" width="26" height="26" fill="#4158a6"/>
<rect x="-25.5" y="199.5" width="26" height="26" fill="#4158a6"/>
<rect x="-0.5" y="199.5" width="26" height="26" fill="#4158a6"/>
<rect x="24.5" y="199.5" width="26" height="26" fill="#4158a6"/>
<rect x="49.5" y="199.5" width="26" height="26" fill="#4158a6"/>
<rect x="74.5" y="199.5" width="26" height="26" fill="#5e93c3"/>
<rect x="99.5" y="199.5" width="26" height="26" fill="#9ccee0"/>
<rect x="124.5" y="199.5" width="26" height="26" fill="#9ccee0"/>
<rect x="149.5" y="199.5" width="26" height="26" fill="#9ccee0"/>
<rect x="174.5" y="199.5" width="26" height="26" fill="#9ccee0"/>
<rect x="199.5" y="199.5" width="26" height="26" fill="#9ccee0"/>
<rect x="224.5" y="199.5" width="26" height="26" fill="#7cb0d3"/>
<rect x="249.5" y="199.5" width="26" height="26" fill="#9ccee0"/>
<rect x="274.5" y="199.5" width="26" height="26" fill="#4158a6"/>
<rect x="299.5" y="199.5" width="26" height="26" fill="#4158a6"/>
<rect x="324.5" y="199.5" width="26" height="26" fill="#4158a6"/>
<rect x="-25.5" y="224.5" width="26" height="26" fill="#4158a6"/>
<rect x="-0.5" y="224.5" width="26" height="26" fill="#4158a6"/>
<rect x="24.5" y="224.5" width="26" height="26" fill="#4158a6"/>
<rect x="49.5" y="224.5" width="26" height="26" fill="#4158a6"/>
<rect x="74.5" y="224.5" width="26" height="26" fill="#7cb0d3"/>
<rect x="99.5" y="224.5" width="26" height="26" fill="#9ccee0"/>
<rect x="124.5" y="224.5" width="26" height="26" fill="#9ccee0"/>
<rect x="149.5" y="224.5" width="26" height="26" fill="#9ccee0"/>
<rect x="174.5" y="224.5" width="26" height="26" fill="#9ccee0"/>
<rect x="199.5" y="224.5" width="26" height="26" fill="#9ccee0"/>
<rect x="224.5" y="224.5" width="26" height="26" fill="#7cb0d3"/>
<rect x="249.5" y="224.5" width="26" height="26" fill="#9ccee0"/>
<rect x="274.5" y="224.5" width="26" height="26" fill="#4158a6"/>
<rect x="299.5" y="224.5" width="26" height="26" fill="#4158a6"/>
<rect x="324.5" y="224.5" width="26" height="26" fill="#4158a6"/>
<rect x="-25.5" y="249.5" width="26" height="26" fill="#4158a6"/>
<rect x="-0.5" y="249.5" width="26" height="26" fill="#4158a6"/>
<rect x="24.5" y="249.5" width="26" height="26" fill="#4158a6"/>
<rect x="49.5" y="249.5" width="26" height="26" fill="#7cb0d3"/>
<rect x="74.5" y="249.5" width="26" height="26" fill="#9ccee0"/>
<rect x="99.5" y="249.5" width="26" height="26" fill="#9ccee0"/>
<rect x="124.5" y="249.5" width="26" height="26" fill="#9ccee0"/>
<rect x="149.5" y="249.5" width="26" height="26" fill="#9ccee0"/>
<rect x="174.5" y="249.5" width="26" height="26" fill="#9ccee0"/>
<rect x="199.5" y="249.5" width="26" height="26" fill="#7cb0d3"/>
<rect x="224.5" y="249.5" width="26" height="26" fill="#5e93c3"/>
<rect x="249.5" y="249.5" width="26" height="26" fill="#4a76b4"/>
<rect x="274.5" y="249.5" width="26" height="26" fill="#4158a6"/>
<rect x="299.5" y="249.5" width="26" height="26" fill="#4158a6"/>
<rect x="324.5" y="249.5" width="26" height="26" fill="#4158a6"/>
<rect x="-25.5" y="274.5" width="26" height="26" fill="#4158a6"/>
<rect x="-0.5" y="274.5" width="26" height="26" fill="#4158a6"/>
<rect x="24.5" y="274.5" width="26" height="26" fill="#4158a6"/>
<rect x="49.5" y="274.5" width="26" height="26" fill="#9ccee0"/>
<rect x="74.5" y="274.5" width="26" height="26" fill="#9ccee0"/>
<rect x="99.5" y="274.5" width="26" height="26" fill="#9ccee0"/>
<rect x="124.5" y="274.5" width="26" height="26" fill="#9ccee0"/>
<rect x="149.5" y="274.5" width="26" height="26" fill="#9ccee0"/>
<rect x="174.5" y="274.5" width="26" height="26" fill="#7cb0d3"/>
<rect x="199.5" y="274.5" width="26" height="26" fill="#5e93c3"/>
<rect x="224.5" y="274.5" width="26" height="26" fill="#4a76b4"/>
<rect x="249.5" y="274.5" width="26" height="26" fill="#4a76b4"/>
<rect x="274.5" y="274.5" width="26" height="26" fill="#4a76b4"/>
<rect x="299.5" y="274.5" width="26" height="26" fill="#4158a6"/>
<rect x="324.5" y="274.5" width="26" height="26" fill="#4158a6"/>
<rect x="-25.5" y="299.5" width="26" height="26" fill="#4158a6"/>
<rect x="-0.5" y="299.5" width="26" height="26" fill="#4158a6"/>
<rect x="24.5" y="299.5" width="26" height="26" fill="#5e93c3"/>
<rect x="49.5" y="299.5" width="26" height="26" fill="#9ccee0"/>
<rect x="74.5" y="299.5" width="26" height="26" fill="#9ccee0"/>
<rect x="99.5" y="299.5" width="26" height="26" fill="#7cb0d3"/>
<rect x="124.5" y="299.5" width="26" height="26" fill="#9ccee0"/>
<rect x="149.5" y="299.5" width="26" height="26" fill="#4a76b4"/>
<rect x="174.5" y="299.5" width="26" height="26" fill="#7cb0d3"/>
<rect x="199.5" y="299.5" width="26" height="26" fill="#5e93c3"/>
<rect x="224.5" y="299.5" width="26" height="26" fill="#4a76b4"/>
<rect x="249.5" y="299.5" width="26" height="26" fill="#4a76b4"/>
<rect x="274.5" y="299.5" width="26" height="26" fill="#4a76b4"/>
<rect x="299.5" y="299.5" width="26" height="26" fill="#4a76b4"/>
<rect x="324.5" y="299.5" width="26" height="26" fill="#4a76b4"/>
<rect x="-25.5" y="324.5" width="26" height="26" fill="#7cb0d3"/>
<rect x="-0.5" y="324.5" width="26" height="26" fill="#7cb0d3"/>
<rect x="24.5" y="324.5" width="26" height="26" fill="#7cb0d3"/>
<rect x="49.5" y="324.5" width="26" height="26" fill="#7cb0d3"/>
<rect x="74.5" y="324.5" width="26" height="26" fill="#4a76b4"/>
<rect x="99.5" y="324.5" width="26" height="26" fill="#7cb0d3"/>
<rect x="124.5" y="324.5" width="26" height="26" fill="#4a76b4"/>
<rect x="149.5" y="324.5" width="26" height="26" fill="#4a76b4"/>
<rect x="174.5" y="324.5" width="26" height="26" fill="#4a76b4"/>
<rect x="199.5" y="324.5" width="26" height="26" fill="#5e93c3"/>
<rect x="224.5" y="324.5" width="26" height="26" fill="#4a76b4"/>
<rect x="249.5" y="324.5" width="26" height="26" fill="#4a76b4"/>
<rect x="274.5" y="324.5" width="26" height="26" fill="#4a76b4"/>
<rect x="299.5" y="324.5" width="26" height="26" fill="#4a76b4"/>
<rect x="324.5" y="324.5" width="26" height="26" fill="#4a76b4"/>
<rect x="-25.5" y="349.5" width="26" height="26" fill="#4158a6"/>
<rect x="-0.5" y="349.5" width="26" height="26" fill="#4158a6"/>
<rect x="24.5" y="349.5" width="26" height="26" fill="#4a76b4"/>
<rect x="49.5" y="349.5" width="26" height="26" fill="#7cb0d3"/>
<rect x="74.5" y="349.5" width="26" height="26" fill="#4a76b4"/>
<rect x="99.5" y="349.5" width="26" height="26" fill="#4a76b4"/>
<rect x="124.5" y="349.5" width="26" height="26" fill="#4a76b4"/>
<rect x="149.5" y="349.5" width="26" height="26" fill="#4a76b4"/>
<rect x="174.5" y="349.5" width="26" height="26" fill="#4a76b4"/>
<rect x="199.5" y="349.5" width="26" height="26" fill="#4a76b4"/>
<rect x="224.5" y="349.5" width="26" height="26" fill="#4a76b4"/>
<rect x="249.5" y="349.5" width="26" height="26" fill="#4a76b4"/>
<rect x="274.5" y="349.5" width="26" height="26" fill="#4a76b4"/>
<rect x="299.5" y="349.5" width="26" height="26" fill="#4a76b4"/>
<rect x="324.5" y="349.5" width="26" height="26" fill="#4a76b4"/>
<rect x="-25.5" y="374.5" width="26" height="26" fill="#4158a6"/>
<rect x="-0.5" y="374.5" width="26" height="26" fill="#4158a6"/>
<rect x="24.5" y="374.5" width="26" height="26" fill="#4a76b4"/>
<rect x="49.5" y="374.5" width="26" height="26" fill="#4a76b4"/>
<rect x="74.5" y="374.5" width="26" height="26" fill="#4a76b4"/>
<rect x="99.5" y="374.5" width="26" height="26" fill="#4a76b4"/>
<rect x="124.5" y="374.5" width="26" height="26" fill="#4a76b4"/>
<rect x="149.5" y="374.5" width="26" height="26" fill="#4a76b4"/>
<rect x="174.5" y="374.5" width="26" height="26" fill="#4a76b4"/>
<rect x="199.5" y="374.5" width="26" height="26" fill="#4a76b4"/>
<rect x="224.5" y="374.5" width="26" height="26" fill="#4a76b4"/>
<rect x="249.5" y="374.5" width="26" height="26" fill="#4a76b4"/>
<rect x="274.5" y="374.5" width="26" height="26" fill="#4a76b4"/>
<rect x="299.5" y="374.5" width="26" height="26" fill="#4a76b4"/>
<rect x="324.5" y="374.5" width="26" height="26" fill="#4a76b4"/>
<rect x="-25.5" y="399.5" width="26" height="26" fill="#4158a6"/>
<rect x="-0.5" y="399.5" width="26" height="26" fill="#4158a6"/>
<rect x="24.5" y="399.5" width="26" height="26" fill="#4a76b4"/>
<rect x="49.5" y="399.5" width="26" height="26" fill="#4a76b4"/>
<rect x="74.5" y="399.5" width="26" height="26" fill="#4a76b4"/>
<rect x="99.5" y="399.5" width="26" height="26" fill="#4a76b4"/>
<rect x="124.5" y="399.5" width="26" height="26" fill="#4a76b4"/>
<rect x="149.5" y="399.5" width="26" height="26" fill="#4a76b4"/>
<rect x="174.5" y="399.5" width="26" height="26" fill="#4a76b4"/>
<rect x="199.5" y="399.5" width="26" height="26" fill="#4a76b4"/>
<rect x="224.5" y="399.5" width="26" height="26" fill="#4a76b4"/>
<rect x="249.5" y="399.5" width="26" height="26" fill="#4a76b4"/>
<rect x="274.5" y="399.5" width="26" height="26" fill="#4a76b4"/>
<rect x="299.5" y="399.5" width="26" height="26" fill="#4a76b4"/>
<rect x="324.5" y="399.5" width="26" height="26" fill="#4a76b4"/>
</g>
<path d="M276.5 1.2 L291.0 1.2 L301.7 16.4 L305.5 32.0 L305.5 78.7 L300.0 82.0 L290.0 93.0 L281.0 105.0 L276.0 109.0 L271.0 111.0 L270.2 125.0 L269.5 140.0 L269.9 166.2 L271.2 199.3 L283.0 206.0 L283.0 216.5 L275.2 219.2 L285.8 227.1 L279.2 237.7 L289.7 241.7 L296.4 249.6 L296.4 258.9 L284.5 260.2 L271.2 258.9 L267.2 264.2 L264.6 269.5 L255.3 264.2 L244.7 266.9 L246.0 285.4 L236.8 292.0 L223.5 302.6 L215.6 292.0 L207.6 284.1 L194.4 285.4 L183.8 288.0 L174.5 294.7 L168.5 305.3 L166.6 318.5 L158.3 332.8 L153.0 315.9 L149.0 302.0 L139.1 296.1 L125.8 297.5 L116.6 302.8 L112.6 312.0 L111.3 325.3 L106.0 331.9 L84.8 338.5 L74.2 337.2 L63.6 345.1 L55.6 349.1 L42.4 355.7 L29.1 362.4 L23.8 372.9 L10.6 371.6 L6.6 358.4 L10.6 351.8 L26.5 338.5 L34.4 325.3 L37.1 312.0 L41.1 296.1 L46.4 282.9 L53.0 272.3 L57.0 265.7 L74.2 257.7 L92.7 255.1 L98.0 231.2 L84.8 229.9 L72.5 221.3 L82.1 208.7 L75.5 201.4 L78.2 197.2 L84.8 190.6 L91.4 186.6 L95.5 179.0 L97.0 172.0 L98.5 165.0 L102.0 158.0 L105.5 152.2 L109.9 141.6 L104.6 136.3 L104.6 129.6 L119.2 123.0 L112.6 117.7 L114.0 109.2 L92.0 109.2 L92.0 107.2 L117.0 107.2 L121.9 100.5 L128.5 93.9 L137.7 91.2 L152.0 91.9 L161.3 90.6 L160.0 76.0 L173.2 81.3 L181.1 88.0 L189.1 81.3 L198.4 76.0 L194.4 71.4 L205.0 68.1 L214.3 64.1 L215.6 60.1 L227.5 56.2 L228.8 50.9 L244.7 46.9 L252.7 44.2 L251.3 37.6 L247.4 35.0 L247.4 25.7 L254.0 16.4 L255.3 11.1 L268.6 8.5 L271.2 4.5 Z M31.8 228.6 L47.7 228.6 L50.3 241.8 L53.0 249.8 L51.7 259.0 L39.7 263.0 L29.1 268.3 L21.2 273.6 L14.6 276.3 L23.8 265.7 L26.5 257.7 L9.3 255.1 L9.3 244.5 L21.2 239.2 L31.8 237.0 Z M12.0 281.0 L25.0 279.0 L28.0 290.0 L31.8 300.0 L27.0 308.0 L15.0 307.0 L11.0 296.0 Z M25.0 310.0 L35.0 309.4 L35.8 318.7 L26.0 318.0 Z M305.5 88.0 L305.5 95.0 L298.0 103.0 L292.0 111.0 L292.0 122.0 L287.0 127.0 L285.0 145.0 L272.0 145.0 L272.0 127.0 L282.0 122.0 L276.0 117.0 L283.0 113.0 L290.0 100.0 Z M84.0 109.0 L88.0 108.5 L88.0 110.5 L84.0 111.0 Z M77.0 111.5 L80.0 111.0 L80.0 113.0 L77.0 113.5 Z M84.0 243.0 L90.0 246.0 L90.0 255.0 L82.0 254.0 Z M255.0 272.0 L262.0 270.0 L260.0 280.0 L254.0 283.0 Z" fill="none" stroke="#3f4fa0" stroke-width="4" filter="url(#bl3)"/>
<ellipse cx="100" cy="180" rx="10" ry="40" transform="rotate(25 100 180)" fill="#3f4fa0" filter="url(#bl3)"/>
<path d="M305.5 88.0 L305.5 95.0 L298.0 103.0 L292.0 111.0 L292.0 122.0 L287.0 127.0 L285.0 145.0 L272.0 145.0 L272.0 127.0 L282.0 122.0 L276.0 117.0 L283.0 113.0 L290.0 100.0 Z" fill="#3a4aa0" filter="url(#bl1)"/>
<path d="M267 152 L268 224 Q271 240 296 258" fill="none" stroke="#d0edf0" stroke-width="3.5" stroke-linecap="round" filter="url(#bl2)"/>
<path d="M31.8 228.6 L47.7 228.6 L50.3 241.8 L53.0 249.8 L51.7 259.0 L39.7 263.0 L29.1 268.3 L21.2 273.6 L14.6 276.3 L23.8 265.7 L26.5 257.7 L9.3 255.1 L9.3 244.5 L21.2 239.2 L31.8 237.0 Z" fill="#3b4a9f" filter="url(#bl1)"/>
<path d="M12.0 281.0 L25.0 279.0 L28.0 290.0 L31.8 300.0 L27.0 308.0 L15.0 307.0 L11.0 296.0 Z" fill="#3b4a9f" filter="url(#bl1)"/>
<path d="M25.0 310.0 L35.0 309.4 L35.8 318.7 L26.0 318.0 Z" fill="#3b4a9f" filter="url(#bl1)"/>
</g>
</g>
<rect x="93.0" y="483.0" width="305.5" height="376.5" fill="none" stroke="#000" stroke-width="1.5"/>
<text x="0" y="0" font-size="33" text-anchor="middle" transform="translate(94.0 907.0) scale(1 1.040)">110</text>
<path d="M238.8 859.5 v-4.5 M238.8 483.0 v4.5" stroke="#000" stroke-width="1.3"/>
<text x="0" y="0" font-size="33" text-anchor="middle" transform="translate(239.8 907.0) scale(1 1.040)">115</text>
<path d="M384.5 859.5 v-4.5 M384.5 483.0 v4.5" stroke="#000" stroke-width="1.3"/>
<text x="0" y="0" font-size="33" text-anchor="middle" transform="translate(385.5 907.0) scale(1 1.040)">120</text>
<path d="M93.0 540.9 h4.5 M398.5 540.9 h-4.5" stroke="#000" stroke-width="1.3"/>
<text x="0" y="0" font-size="33" text-anchor="end" transform="translate(80.5 552.9) scale(1 1.040)">20</text>
<path d="M93.0 685.7 h4.5 M398.5 685.7 h-4.5" stroke="#000" stroke-width="1.3"/>
<text x="0" y="0" font-size="33" text-anchor="end" transform="translate(80.5 697.7) scale(1 1.040)">15</text>
<path d="M93.0 830.5 h4.5 M398.5 830.5 h-4.5" stroke="#000" stroke-width="1.3"/>
<text x="0" y="0" font-size="33" text-anchor="end" transform="translate(80.5 842.5) scale(1 1.040)">10</text>
<text x="0" y="0" font-size="33" text-anchor="start" font-weight="bold" transform="translate(355.5 844.5) scale(1 1.000)">d</text>
<rect x="436.5" y="483.0" width="44.5" height="376.5" fill="url(#cm_rdylbu)" stroke="#000" stroke-width="1.5"/>
<text x="0" y="0" font-size="33" text-anchor="start" transform="translate(494.0 871.4) scale(1 1.040)">1027.66</text>
<path d="M481.0 734.0 h-4" stroke="#000" stroke-width="1.2"/>
<text x="0" y="0" font-size="33" text-anchor="start" transform="translate(494.0 745.9) scale(1 1.040)">1027.67</text>
<path d="M481.0 608.5 h-4" stroke="#000" stroke-width="1.2"/>
<text x="0" y="0" font-size="33" text-anchor="start" transform="translate(494.0 620.4) scale(1 1.040)">1027.68</text>
<text x="0" y="0" font-size="33" text-anchor="start" transform="translate(494.0 494.9) scale(1 1.040)">1027.69</text>
<g transform="translate(796.30 483.00) scale(0.9967 1.0008)">
<g clip-path="url(#seaclip)">
<rect x="-10" y="-10" width="330" height="400" fill="#eb9459"/>
<ellipse cx="262" cy="30" rx="16" ry="25" transform="rotate(0 262 30)" fill="#e25e3b" filter="url(#bl6)"/>
<ellipse cx="296" cy="50" rx="8" ry="30" transform="rotate(0 296 50)" fill="#eeae68" filter="url(#bl6)"/>
<path d="M276.5 1.2 L291.0 1.2 L301.7 16.4 L305.5 32.0 L305.5 78.7 L300.0 82.0 L290.0 93.0 L281.0 105.0 L276.0 109.0 L271.0 111.0 L270.2 125.0 L269.5 140.0 L269.9 166.2 L271.2 199.3 L283.0 206.0 L283.0 216.5 L275.2 219.2 L285.8 227.1 L279.2 237.7 L289.7 241.7 L296.4 249.6 L296.4 258.9 L284.5 260.2 L271.2 258.9 L267.2 264.2 L264.6 269.5 L255.3 264.2 L244.7 266.9 L246.0 285.4 L236.8 292.0 L223.5 302.6 L215.6 292.0 L207.6 284.1 L194.4 285.4 L183.8 288.0 L174.5 294.7 L168.5 305.3 L166.6 318.5 L158.3 332.8 L153.0 315.9 L149.0 302.0 L139.1 296.1 L125.8 297.5 L116.6 302.8 L112.6 312.0 L111.3 325.3 L106.0 331.9 L84.8 338.5 L74.2 337.2 L63.6 345.1 L55.6 349.1 L42.4 355.7 L29.1 362.4 L23.8 372.9 L10.6 371.6 L6.6 358.4 L10.6 351.8 L26.5 338.5 L34.4 325.3 L37.1 312.0 L41.1 296.1 L46.4 282.9 L53.0 272.3 L57.0 265.7 L74.2 257.7 L92.7 255.1 L98.0 231.2 L84.8 229.9 L72.5 221.3 L82.1 208.7 L75.5 201.4 L78.2 197.2 L84.8 190.6 L91.4 186.6 L95.5 179.0 L97.0 172.0 L98.5 165.0 L102.0 158.0 L105.5 152.2 L109.9 141.6 L104.6 136.3 L104.6 129.6 L119.2 123.0 L112.6 117.7 L114.0 109.2 L92.0 109.2 L92.0 107.2 L117.0 107.2 L121.9 100.5 L128.5 93.9 L137.7 91.2 L152.0 91.9 L161.3 90.6 L160.0 76.0 L173.2 81.3 L181.1 88.0 L189.1 81.3 L198.4 76.0 L194.4 71.4 L205.0 68.1 L214.3 64.1 L215.6 60.1 L227.5 56.2 L228.8 50.9 L244.7 46.9 L252.7 44.2 L251.3 37.6 L247.4 35.0 L247.4 25.7 L254.0 16.4 L255.3 11.1 L268.6 8.5 L271.2 4.5 Z M31.8 228.6 L47.7 228.6 L50.3 241.8 L53.0 249.8 L51.7 259.0 L39.7 263.0 L29.1 268.3 L21.2 273.6 L14.6 276.3 L23.8 265.7 L26.5 257.7 L9.3 255.1 L9.3 244.5 L21.2 239.2 L31.8 237.0 Z M12.0 281.0 L25.0 279.0 L28.0 290.0 L31.8 300.0 L27.0 308.0 L15.0 307.0 L11.0 296.0 Z M25.0 310.0 L35.0 309.4 L35.8 318.7 L26.0 318.0 Z M305.5 88.0 L305.5 95.0 L298.0 103.0 L292.0 111.0 L292.0 122.0 L287.0 127.0 L285.0 145.0 L272.0 145.0 L272.0 127.0 L282.0 122.0 L276.0 117.0 L283.0 113.0 L290.0 100.0 Z M84.0 109.0 L88.0 108.5 L88.0 110.5 L84.0 111.0 Z M77.0 111.5 L80.0 111.0 L80.0 113.0 L77.0 113.5 Z M84.0 243.0 L90.0 246.0 L90.0 255.0 L82.0 254.0 Z M255.0 272.0 L262.0 270.0 L260.0 280.0 L254.0 283.0 Z" fill="none" stroke="#e4643f" stroke-width="5" filter="url(#bl3)"/>
<ellipse cx="100" cy="180" rx="12" ry="45" transform="rotate(25 100 180)" fill="#e05a3a" filter="url(#bl3)"/>
<ellipse cx="25" cy="358" rx="22" ry="15" transform="rotate(-40 25 358)" fill="#e4643f" filter="url(#bl6)"/>
<path d="M305.5 88.0 L305.5 95.0 L298.0 103.0 L292.0 111.0 L292.0 122.0 L287.0 127.0 L285.0 145.0 L272.0 145.0 L272.0 127.0 L282.0 122.0 L276.0 117.0 L283.0 113.0 L290.0 100.0 Z" fill="#e9a565" filter="url(#bl1)"/>
<ellipse cx="292" cy="100" rx="6" ry="14" transform="rotate(40 292 100)" fill="#d8ecec" filter="url(#bl2)"/>
<ellipse cx="266" cy="215" rx="3" ry="30" transform="rotate(0 266 215)" fill="#efb56c" filter="url(#bl2)"/>
<path d="M31.8 228.6 L47.7 228.6 L50.3 241.8 L53.0 249.8 L51.7 259.0 L39.7 263.0 L29.1 268.3 L21.2 273.6 L14.6 276.3 L23.8 265.7 L26.5 257.7 L9.3 255.1 L9.3 244.5 L21.2 239.2 L31.8 237.0 Z" fill="#dc4a32" filter="url(#bl1)"/>
<path d="M12.0 281.0 L25.0 279.0 L28.0 290.0 L31.8 300.0 L27.0 308.0 L15.0 307.0 L11.0 296.0 Z" fill="#dc4a32" filter="url(#bl1)"/>
<path d="M25.0 310.0 L35.0 309.4 L35.8 318.7 L26.0 318.0 Z" fill="#dc4a32" filter="url(#bl1)"/>
</g>
</g>
<rect x="796.3" y="483.0" width="304.5" height="376.5" fill="none" stroke="#000" stroke-width="1.5"/>
<text x="0" y="0" font-size="33" text-anchor="middle" transform="translate(797.3 907.0) scale(1 1.040)">110</text>
<path d="M941.6 859.5 v-4.5 M941.6 483.0 v4.5" stroke="#000" stroke-width="1.3"/>
<text x="0" y="0" font-size="33" text-anchor="middle" transform="translate(942.6 907.0) scale(1 1.040)">115</text>
<path d="M1086.9 859.5 v-4.5 M1086.9 483.0 v4.5" stroke="#000" stroke-width="1.3"/>
<text x="0" y="0" font-size="33" text-anchor="middle" transform="translate(1087.9 907.0) scale(1 1.040)">120</text>
<path d="M796.3 540.9 h4.5 M1100.8 540.9 h-4.5" stroke="#000" stroke-width="1.3"/>
<text x="0" y="0" font-size="33" text-anchor="end" transform="translate(783.8 552.9) scale(1 1.040)">20</text>
<path d="M796.3 685.7 h4.5 M1100.8 685.7 h-4.5" stroke="#000" stroke-width="1.3"/>
<text x="0" y="0" font-size="33" text-anchor="end" transform="translate(783.8 697.7) scale(1 1.040)">15</text>
<path d="M796.3 830.5 h4.5 M1100.8 830.5 h-4.5" stroke="#000" stroke-width="1.3"/>
<text x="0" y="0" font-size="33" text-anchor="end" transform="translate(783.8 842.5) scale(1 1.040)">10</text>
<text x="0" y="0" font-size="33" text-anchor="start" font-weight="bold" transform="translate(1057.8 844.5) scale(1 1.000)">e</text>
<rect x="1143.8" y="483.0" width="44.2" height="376.5" fill="url(#cm_rdylbu)" stroke="#000" stroke-width="1.5"/>
<text x="0" y="0" font-size="33" text-anchor="start" transform="translate(1201.0 871.4) scale(1 1.040)">1.9</text>
<path d="M1188.0 734.0 h-4" stroke="#000" stroke-width="1.2"/>
<text x="0" y="0" font-size="33" text-anchor="start" transform="translate(1201.0 745.9) scale(1 1.040)">2</text>
<path d="M1188.0 608.5 h-4" stroke="#000" stroke-width="1.2"/>
<text x="0" y="0" font-size="33" text-anchor="start" transform="translate(1201.0 620.4) scale(1 1.040)">2.1</text>
<text x="0" y="0" font-size="33" text-anchor="start" transform="translate(1201.0 494.9) scale(1 1.040)">2.2</text>
<g transform="translate(1445.60 483.00) scale(0.9997 1.0008)">
<g clip-path="url(#seaclip)">
<rect x="-10" y="-10" width="330" height="400" fill="#d3ebef"/>
<g filter="url(#gblur)">
<rect x="-25.5" y="-25.5" width="26" height="26" fill="#7cb0d3"/>
<rect x="-0.5" y="-25.5" width="26" height="26" fill="#7cb0d3"/>
<rect x="24.5" y="-25.5" width="26" height="26" fill="#5e93c3"/>
<rect x="49.5" y="-25.5" width="26" height="26" fill="#5e93c3"/>
<rect x="74.5" y="-25.5" width="26" height="26" fill="#5e93c3"/>
<rect x="99.5" y="-25.5" width="26" height="26" fill="#5e93c3"/>
<rect x="124.5" y="-25.5" width="26" height="26" fill="#5e93c3"/>
<rect x="149.5" y="-25.5" width="26" height="26" fill="#4a76b4"/>
<rect x="174.5" y="-25.5" width="26" height="26" fill="#4a76b4"/>
<rect x="199.5" y="-25.5" width="26" height="26" fill="#4158a6"/>
<rect x="224.5" y="-25.5" width="26" height="26" fill="#4158a6"/>
<rect x="249.5" y="-25.5" width="26" height="26" fill="#4158a6"/>
<rect x="274.5" y="-25.5" width="26" height="26" fill="#4a76b4"/>
<rect x="299.5" y="-25.5" width="26" height="26" fill="#4a76b4"/>
<rect x="324.5" y="-25.5" width="26" height="26" fill="#4a76b4"/>
<rect x="-25.5" y="-0.5" width="26" height="26" fill="#7cb0d3"/>
<rect x="-0.5" y="-0.5" width="26" height="26" fill="#7cb0d3"/>
<rect x="24.5" y="-0.5" width="26" height="26" fill="#5e93c3"/>
<rect x="49.5" y="-0.5" width="26" height="26" fill="#5e93c3"/>
<rect x="74.5" y="-0.5" width="26" height="26" fill="#5e93c3"/>
<rect x="99.5" y="-0.5" width="26" height="26" fill="#5e93c3"/>
<rect x="124.5" y="-0.5" width="26" height="26" fill="#5e93c3"/>
<rect x="149.5" y="-0.5" width="26" height="26" fill="#4a76b4"/>
<rect x="174.5" y="-0.5" width="26" height="26" fill="#4a76b4"/>
<rect x="199.5" y="-0.5" width="26" height="26" fill="#4158a6"/>
<rect x="224.5" y="-0.5" width="26" height="26" fill="#4158a6"/>
<rect x="249.5" y="-0.5" width="26" height="26" fill="#4158a6"/>
<rect x="274.5" y="-0.5" width="26" height="26" fill="#4a76b4"/>
<rect x="299.5" y="-0.5" width="26" height="26" fill="#4a76b4"/>
<rect x="324.5" y="-0.5" width="26" height="26" fill="#4a76b4"/>
<rect x="-25.5" y="24.5" width="26" height="26" fill="#7cb0d3"/>
<rect x="-0.5" y="24.5" width="26" height="26" fill="#7cb0d3"/>
<rect x="24.5" y="24.5" width="26" height="26" fill="#7cb0d3"/>
<rect x="49.5" y="24.5" width="26" height="26" fill="#5e93c3"/>
<rect x="74.5" y="24.5" width="26" height="26" fill="#5e93c3"/>
<rect x="99.5" y="24.5" width="26" height="26" fill="#5e93c3"/>
<rect x="124.5" y="24.5" width="26" height="26" fill="#5e93c3"/>
<rect x="149.5" y="24.5" width="26" height="26" fill="#7cb0d3"/>
<rect x="174.5" y="24.5" width="26" height="26" fill="#4a76b4"/>
<rect x="199.5" y="24.5" width="26" height="26" fill="#4a76b4"/>
<rect x="224.5" y="24.5" width="26" height="26" fill="#4158a6"/>
<rect x="249.5" y="24.5" width="26" height="26" fill="#4158a6"/>
<rect x="274.5" y="24.5" width="26" height="26" fill="#4a76b4"/>
<rect x="299.5" y="24.5" width="26" height="26" fill="#4a76b4"/>
<rect x="324.5" y="24.5" width="26" height="26" fill="#4a76b4"/>
<rect x="-25.5" y="49.5" width="26" height="26" fill="#7cb0d3"/>
<rect x="-0.5" y="49.5" width="26" height="26" fill="#7cb0d3"/>
<rect x="24.5" y="49.5" width="26" height="26" fill="#7cb0d3"/>
<rect x="49.5" y="49.5" width="26" height="26" fill="#7cb0d3"/>
<rect x="74.5" y="49.5" width="26" height="26" fill="#5e93c3"/>
<rect x="99.5" y="49.5" width="26" height="26" fill="#5e93c3"/>
<rect x="124.5" y="49.5" width="26" height="26" fill="#5e93c3"/>
<rect x="149.5" y="49.5" width="26" height="26" fill="#7cb0d3"/>
<rect x="174.5" y="49.5" width="26" height="26" fill="#4a76b4"/>
<rect x="199.5" y="49.5" width="26" height="26" fill="#4a76b4"/>
<rect x="224.5" y="49.5" width="26" height="26" fill="#4a76b4"/>
<rect x="249.5" y="49.5" width="26" height="26" fill="#4a76b4"/>
<rect x="274.5" y="49.5" width="26" height="26" fill="#4a76b4"/>
<rect x="299.5" y="49.5" width="26" height="26" fill="#5e93c3"/>
<rect x="324.5" y="49.5" width="26" height="26" fill="#5e93c3"/>
<rect x="-25.5" y="74.5" width="26" height="26" fill="#7cb0d3"/>
<rect x="-0.5" y="74.5" width="26" height="26" fill="#7cb0d3"/>
<rect x="24.5" y="74.5" width="26" height="26" fill="#7cb0d3"/>
<rect x="49.5" y="74.5" width="26" height="26" fill="#7cb0d3"/>
<rect x="74.5" y="74.5" width="26" height="26" fill="#7cb0d3"/>
<rect x="99.5" y="74.5" width="26" height="26" fill="#5e93c3"/>
<rect x="124.5" y="74.5" width="26" height="26" fill="#5e93c3"/>
<rect x="149.5" y="74.5" width="26" height="26" fill="#7cb0d3"/>
<rect x="174.5" y="74.5" width="26" height="26" fill="#7cb0d3"/>
<rect x="199.5" y="74.5" width="26" height="26" fill="#7cb0d3"/>
<rect x="224.5" y="74.5" width="26" height="26" fill="#7cb0d3"/>
<rect x="249.5" y="74.5" width="26" height="26" fill="#7cb0d3"/>
<rect x="274.5" y="74.5" width="26" height="26" fill="#7cb0d3"/>
<rect x="299.5" y="74.5" width="26" height="26" fill="#5e93c3"/>
<rect x="324.5" y="74.5" width="26" height="26" fill="#5e93c3"/>
<rect x="-25.5" y="99.5" width="26" height="26" fill="#7cb0d3"/>
<rect x="-0.5" y="99.5" width="26" height="26" fill="#7cb0d3"/>
<rect x="24.5" y="99.5" width="26" height="26" fill="#7cb0d3"/>
<rect x="49.5" y="99.5" width="26" height="26" fill="#7cb0d3"/>
<rect x="74.5" y="99.5" width="26" height="26" fill="#7cb0d3"/>
<rect x="99.5" y="99.5" width="26" height="26" fill="#7cb0d3"/>
<rect x="124.5" y="99.5" width="26" height="26" fill="#9ccee0"/>
<rect x="149.5" y="99.5" width="26" height="26" fill="#9ccee0"/>
<rect x="174.5" y="99.5" width="26" height="26" fill="#9ccee0"/>
<rect x="199.5" y="99.5" width="26" height="26" fill="#9ccee0"/>
<rect x="224.5" y="99.5" width="26" height="26" fill="#9ccee0"/>
<rect x="249.5" y="99.5" width="26" height="26" fill="#9ccee0"/>
<rect x="274.5" y="99.5" width="26" height="26" fill="#4158a6"/>
<rect x="299.5" y="99.5" width="26" height="26" fill="#4158a6"/>
<rect x="324.5" y="99.5" width="26" height="26" fill="#4158a6"/>
<rect x="-25.5" y="124.5" width="26" height="26" fill="#7cb0d3"/>
<rect x="-0.5" y="124.5" width="26" height="26" fill="#7cb0d3"/>
<rect x="24.5" y="124.5" width="26" height="26" fill="#7cb0d3"/>
<rect x="49.5" y="124.5" width="26" height="26" fill="#7cb0d3"/>
<rect x="74.5" y="124.5" width="26" height="26" fill="#7cb0d3"/>
<rect x="99.5" y="124.5" width="26" height="26" fill="#7cb0d3"/>
<rect x="124.5" y="124.5" width="26" height="26" fill="#9ccee0"/>
<rect x="149.5" y="124.5" width="26" height="26" fill="#9ccee0"/>
<rect x="174.5" y="124.5" width="26" height="26" fill="#b5e0ea"/>
<rect x="199.5" y="124.5" width="26" height="26" fill="#b5e0ea"/>
<rect x="224.5" y="124.5" width="26" height="26" fill="#b5e0ea"/>
<rect x="249.5" y="124.5" width="26" height="26" fill="#b5e0ea"/>
<rect x="274.5" y="124.5" width="26" height="26" fill="#4158a6"/>
<rect x="299.5" y="124.5" width="26" height="26" fill="#4158a6"/>
<rect x="324.5" y="124.5" width="26" height="26" fill="#4158a6"/>
<rect x="-25.5" y="149.5" width="26" height="26" fill="#7cb0d3"/>
<rect x="-0.5" y="149.5" width="26" height="26" fill="#7cb0d3"/>
<rect x="24.5" y="149.5" width="26" height="26" fill="#7cb0d3"/>
<rect x="49.5" y="149.5" width="26" height="26" fill="#7cb0d3"/>
<rect x="74.5" y="149.5" width="26" height="26" fill="#7cb0d3"/>
<rect x="99.5" y="149.5" width="26" height="26" fill="#7cb0d3"/>
<rect x="124.5" y="149.5" width="26" height="26" fill="#9ccee0"/>
<rect x="149.5" y="149.5" width="26" height="26" fill="#b5e0ea"/>
<rect x="174.5" y="149.5" width="26" height="26" fill="#b5e0ea"/>
<rect x="199.5" y="149.5" width="26" height="26" fill="#b5e0ea"/>
<rect x="224.5" y="149.5" width="26" height="26" fill="#b5e0ea"/>
<rect x="249.5" y="149.5" width="26" height="26" fill="#b5e0ea"/>
<rect x="274.5" y="149.5" width="26" height="26" fill="#4158a6"/>
<rect x="299.5" y="149.5" width="26" height="26" fill="#4158a6"/>
<rect x="324.5" y="149.5" width="26" height="26" fill="#4158a6"/>
<rect x="-25.5" y="174.5" width="26" height="26" fill="#7cb0d3"/>
<rect x="-0.5" y="174.5" width="26" height="26" fill="#7cb0d3"/>
<rect x="24.5" y="174.5" width="26" height="26" fill="#7cb0d3"/>
<rect x="49.5" y="174.5" width="26" height="26" fill="#7cb0d3"/>
<rect x="74.5" y="174.5" width="26" height="26" fill="#7cb0d3"/>
<rect x="99.5" y="174.5" width="26" height="26" fill="#7cb0d3"/>
<rect x="124.5" y="174.5" width="26" height="26" fill="#cdedef"/>
<rect x="149.5" y="174.5" width="26" height="26" fill="#cdedef"/>
<rect x="174.5" y="174.5" width="26" height="26" fill="#cdedef"/>
<rect x="199.5" y="174.5" width="26" height="26" fill="#cdedef"/>
<rect x="224.5" y="174.5" width="26" height="26" fill="#cdedef"/>
<rect x="249.5" y="174.5" width="26" height="26" fill="#b5e0ea"/>
<rect x="274.5" y="174.5" width="26" height="26" fill="#b5e0ea"/>
<rect x="299.5" y="174.5" width="26" height="26" fill="#5e93c3"/>
<rect x="324.5" y="174.5" width="26" height="26" fill="#5e93c3"/>
<rect x="-25.5" y="199.5" width="26" height="26" fill="#7cb0d3"/>
<rect x="-0.5" y="199.5" width="26" height="26" fill="#7cb0d3"/>
<rect x="24.5" y="199.5" width="26" height="26" fill="#7cb0d3"/>
<rect x="49.5" y="199.5" width="26" height="26" fill="#7cb0d3"/>
<rect x="74.5" y="199.5" width="26" height="26" fill="#b5e0ea"/>
<rect x="99.5" y="199.5" width="26" height="26" fill="#cdedef"/>
<rect x="124.5" y="199.5" width="26" height="26" fill="#def3f3"/>
<rect x="149.5" y="199.5" width="26" height="26" fill="#def3f3"/>
<rect x="174.5" y="199.5" width="26" height="26" fill="#def3f3"/>
<rect x="199.5" y="199.5" width="26" height="26" fill="#def3f3"/>
<rect x="224.5" y="199.5" width="26" height="26" fill="#cdedef"/>
<rect x="249.5" y="199.5" width="26" height="26" fill="#def3f3"/>
<rect x="274.5" y="199.5" width="26" height="26" fill="#5e93c3"/>
<rect x="299.5" y="199.5" width="26" height="26" fill="#5e93c3"/>
<rect x="324.5" y="199.5" width="26" height="26" fill="#5e93c3"/>
<rect x="-25.5" y="224.5" width="26" height="26" fill="#7cb0d3"/>
<rect x="-0.5" y="224.5" width="26" height="26" fill="#7cb0d3"/>
<rect x="24.5" y="224.5" width="26" height="26" fill="#7cb0d3"/>
<rect x="49.5" y="224.5" width="26" height="26" fill="#7cb0d3"/>
<rect x="74.5" y="224.5" width="26" height="26" fill="#b5e0ea"/>
<rect x="99.5" y="224.5" width="26" height="26" fill="#ecefc4"/>
<rect x="124.5" y="224.5" width="26" height="26" fill="#ecefc4"/>
<rect x="149.5" y="224.5" width="26" height="26" fill="#def3f3"/>
<rect x="174.5" y="224.5" width="26" height="26" fill="#def3f3"/>
<rect x="199.5" y="224.5" width="26" height="26" fill="#cdedef"/>
<rect x="224.5" y="224.5" width="26" height="26" fill="#b5e0ea"/>
<rect x="249.5" y="224.5" width="26" height="26" fill="#cdedef"/>
<rect x="274.5" y="224.5" width="26" height="26" fill="#5e93c3"/>
<rect x="299.5" y="224.5" width="26" height="26" fill="#5e93c3"/>
<rect x="324.5" y="224.5" width="26" height="26" fill="#5e93c3"/>
<rect x="-25.5" y="249.5" width="26" height="26" fill="#7cb0d3"/>
<rect x="-0.5" y="249.5" width="26" height="26" fill="#7cb0d3"/>
<rect x="24.5" y="249.5" width="26" height="26" fill="#7cb0d3"/>
<rect x="49.5" y="249.5" width="26" height="26" fill="#def3f3"/>
<rect x="74.5" y="249.5" width="26" height="26" fill="#ecefc4"/>
<rect x="99.5" y="249.5" width="26" height="26" fill="#ecefc4"/>
<rect x="124.5" y="249.5" width="26" height="26" fill="#ecefc4"/>
<rect x="149.5" y="249.5" width="26" height="26" fill="#ecefc4"/>
<rect x="174.5" y="249.5" width="26" height="26" fill="#def3f3"/>
<rect x="199.5" y="249.5" width="26" height="26" fill="#cdedef"/>
<rect x="224.5" y="249.5" width="26" height="26" fill="#9ccee0"/>
<rect x="249.5" y="249.5" width="26" height="26" fill="#7cb0d3"/>
<rect x="274.5" y="249.5" width="26" height="26" fill="#5e93c3"/>
<rect x="299.5" y="249.5" width="26" height="26" fill="#5e93c3"/>
<rect x="324.5" y="249.5" width="26" height="26" fill="#5e93c3"/>
<rect x="-25.5" y="274.5" width="26" height="26" fill="#7cb0d3"/>
<rect x="-0.5" y="274.5" width="26" height="26" fill="#7cb0d3"/>
<rect x="24.5" y="274.5" width="26" height="26" fill="#7cb0d3"/>
<rect x="49.5" y="274.5" width="26" height="26" fill="#def3f3"/>
<rect x="74.5" y="274.5" width="26" height="26" fill="#ecefc4"/>
<rect x="99.5" y="274.5" width="26" height="26" fill="#ecefc4"/>
<rect x="124.5" y="274.5" width="26" height="26" fill="#ecefc4"/>
<rect x="149.5" y="274.5" width="26" height="26" fill="#ecefc4"/>
<rect x="174.5" y="274.5" width="26" height="26" fill="#cdedef"/>
<rect x="199.5" y="274.5" width="26" height="26" fill="#b5e0ea"/>
<rect x="224.5" y="274.5" width="26" height="26" fill="#9ccee0"/>
<rect x="249.5" y="274.5" width="26" height="26" fill="#7cb0d3"/>
<rect x="274.5" y="274.5" width="26" height="26" fill="#7cb0d3"/>
<rect x="299.5" y="274.5" width="26" height="26" fill="#5e93c3"/>
<rect x="324.5" y="274.5" width="26" height="26" fill="#5e93c3"/>
<rect x="-25.5" y="299.5" width="26" height="26" fill="#7cb0d3"/>
<rect x="-0.5" y="299.5" width="26" height="26" fill="#7cb0d3"/>
<rect x="24.5" y="299.5" width="26" height="26" fill="#b5e0ea"/>
<rect x="49.5" y="299.5" width="26" height="26" fill="#ecefc4"/>
<rect x="74.5" y="299.5" width="26" height="26" fill="#ecefc4"/>
<rect x="99.5" y="299.5" width="26" height="26" fill="#def3f3"/>
<rect x="124.5" y="299.5" width="26" height="26" fill="#ecefc4"/>
<rect x="149.5" y="299.5" width="26" height="26" fill="#7cb0d3"/>
<rect x="174.5" y="299.5" width="26" height="26" fill="#cdedef"/>
<rect x="199.5" y="299.5" width="26" height="26" fill="#b5e0ea"/>
<rect x="224.5" y="299.5" width="26" height="26" fill="#9ccee0"/>
<rect x="249.5" y="299.5" width="26" height="26" fill="#9ccee0"/>
<rect x="274.5" y="299.5" width="26" height="26" fill="#7cb0d3"/>
<rect x="299.5" y="299.5" width="26" height="26" fill="#7cb0d3"/>
<rect x="324.5" y="299.5" width="26" height="26" fill="#7cb0d3"/>
<rect x="-25.5" y="324.5" width="26" height="26" fill="#7cb0d3"/>
<rect x="-0.5" y="324.5" width="26" height="26" fill="#7cb0d3"/>
<rect x="24.5" y="324.5" width="26" height="26" fill="#cdedef"/>
<rect x="49.5" y="324.5" width="26" height="26" fill="#def3f3"/>
<rect x="74.5" y="324.5" width="26" height="26" fill="#b5e0ea"/>
<rect x="99.5" y="324.5" width="26" height="26" fill="#def3f3"/>
<rect x="124.5" y="324.5" width="26" height="26" fill="#7cb0d3"/>
<rect x="149.5" y="324.5" width="26" height="26" fill="#7cb0d3"/>
<rect x="174.5" y="324.5" width="26" height="26" fill="#7cb0d3"/>
<rect x="199.5" y="324.5" width="26" height="26" fill="#b5e0ea"/>
<rect x="224.5" y="324.5" width="26" height="26" fill="#9ccee0"/>
<rect x="249.5" y="324.5" width="26" height="26" fill="#9ccee0"/>
<rect x="274.5" y="324.5" width="26" height="26" fill="#9ccee0"/>
<rect x="299.5" y="324.5" width="26" height="26" fill="#7cb0d3"/>
<rect x="324.5" y="324.5" width="26" height="26" fill="#7cb0d3"/>
<rect x="-25.5" y="349.5" width="26" height="26" fill="#9ccee0"/>
<rect x="-0.5" y="349.5" width="26" height="26" fill="#9ccee0"/>
<rect x="24.5" y="349.5" width="26" height="26" fill="#b5e0ea"/>
<rect x="49.5" y="349.5" width="26" height="26" fill="#def3f3"/>
<rect x="74.5" y="349.5" width="26" height="26" fill="#b5e0ea"/>
<rect x="99.5" y="349.5" width="26" height="26" fill="#b5e0ea"/>
<rect x="124.5" y="349.5" width="26" height="26" fill="#7cb0d3"/>
<rect x="149.5" y="349.5" width="26" height="26" fill="#7cb0d3"/>
<rect x="174.5" y="349.5" width="26" height="26" fill="#7cb0d3"/>
<rect x="199.5" y="349.5" width="26" height="26" fill="#7cb0d3"/>
<rect x="224.5" y="349.5" width="26" height="26" fill="#9ccee0"/>
<rect x="249.5" y="349.5" width="26" height="26" fill="#9ccee0"/>
<rect x="274.5" y="349.5" width="26" height="26" fill="#9ccee0"/>
<rect x="299.5" y="349.5" width="26" height="26" fill="#9ccee0"/>
<rect x="324.5" y="349.5" width="26" height="26" fill="#9ccee0"/>
<rect x="-25.5" y="374.5" width="26" height="26" fill="#9ccee0"/>
<rect x="-0.5" y="374.5" width="26" height="26" fill="#9ccee0"/>
<rect x="24.5" y="374.5" width="26" height="26" fill="#b5e0ea"/>
<rect x="49.5" y="374.5" width="26" height="26" fill="#b5e0ea"/>
<rect x="74.5" y="374.5" width="26" height="26" fill="#b5e0ea"/>
<rect x="99.5" y="374.5" width="26" height="26" fill="#b5e0ea"/>
<rect x="124.5" y="374.5" width="26" height="26" fill="#7cb0d3"/>
<rect x="149.5" y="374.5" width="26" height="26" fill="#7cb0d3"/>
<rect x="174.5" y="374.5" width="26" height="26" fill="#7cb0d3"/>
<rect x="199.5" y="374.5" width="26" height="26" fill="#7cb0d3"/>
<rect x="224.5" y="374.5" width="26" height="26" fill="#7cb0d3"/>
<rect x="249.5" y="374.5" width="26" height="26" fill="#9ccee0"/>
<rect x="274.5" y="374.5" width="26" height="26" fill="#9ccee0"/>
<rect x="299.5" y="374.5" width="26" height="26" fill="#9ccee0"/>
<rect x="324.5" y="374.5" width="26" height="26" fill="#9ccee0"/>
<rect x="-25.5" y="399.5" width="26" height="26" fill="#9ccee0"/>
<rect x="-0.5" y="399.5" width="26" height="26" fill="#9ccee0"/>
<rect x="24.5" y="399.5" width="26" height="26" fill="#b5e0ea"/>
<rect x="49.5" y="399.5" width="26" height="26" fill="#b5e0ea"/>
<rect x="74.5" y="399.5" width="26" height="26" fill="#b5e0ea"/>
<rect x="99.5" y="399.5" width="26" height="26" fill="#b5e0ea"/>
<rect x="124.5" y="399.5" width="26" height="26" fill="#7cb0d3"/>
<rect x="149.5" y="399.5" width="26" height="26" fill="#7cb0d3"/>
<rect x="174.5" y="399.5" width="26" height="26" fill="#7cb0d3"/>
<rect x="199.5" y="399.5" width="26" height="26" fill="#7cb0d3"/>
<rect x="224.5" y="399.5" width="26" height="26" fill="#7cb0d3"/>
<rect x="249.5" y="399.5" width="26" height="26" fill="#9ccee0"/>
<rect x="274.5" y="399.5" width="26" height="26" fill="#9ccee0"/>
<rect x="299.5" y="399.5" width="26" height="26" fill="#9ccee0"/>
<rect x="324.5" y="399.5" width="26" height="26" fill="#9ccee0"/>
</g>
<path d="M276.5 1.2 L291.0 1.2 L301.7 16.4 L305.5 32.0 L305.5 78.7 L300.0 82.0 L290.0 93.0 L281.0 105.0 L276.0 109.0 L271.0 111.0 L270.2 125.0 L269.5 140.0 L269.9 166.2 L271.2 199.3 L283.0 206.0 L283.0 216.5 L275.2 219.2 L285.8 227.1 L279.2 237.7 L289.7 241.7 L296.4 249.6 L296.4 258.9 L284.5 260.2 L271.2 258.9 L267.2 264.2 L264.6 269.5 L255.3 264.2 L244.7 266.9 L246.0 285.4 L236.8 292.0 L223.5 302.6 L215.6 292.0 L207.6 284.1 L194.4 285.4 L183.8 288.0 L174.5 294.7 L168.5 305.3 L166.6 318.5 L158.3 332.8 L153.0 315.9 L149.0 302.0 L139.1 296.1 L125.8 297.5 L116.6 302.8 L112.6 312.0 L111.3 325.3 L106.0 331.9 L84.8 338.5 L74.2 337.2 L63.6 345.1 L55.6 349.1 L42.4 355.7 L29.1 362.4 L23.8 372.9 L10.6 371.6 L6.6 358.4 L10.6 351.8 L26.5 338.5 L34.4 325.3 L37.1 312.0 L41.1 296.1 L46.4 282.9 L53.0 272.3 L57.0 265.7 L74.2 257.7 L92.7 255.1 L98.0 231.2 L84.8 229.9 L72.5 221.3 L82.1 208.7 L75.5 201.4 L78.2 197.2 L84.8 190.6 L91.4 186.6 L95.5 179.0 L97.0 172.0 L98.5 165.0 L102.0 158.0 L105.5 152.2 L109.9 141.6 L104.6 136.3 L104.6 129.6 L119.2 123.0 L112.6 117.7 L114.0 109.2 L92.0 109.2 L92.0 107.2 L117.0 107.2 L121.9 100.5 L128.5 93.9 L137.7 91.2 L152.0 91.9 L161.3 90.6 L160.0 76.0 L173.2 81.3 L181.1 88.0 L189.1 81.3 L198.4 76.0 L194.4 71.4 L205.0 68.1 L214.3 64.1 L215.6 60.1 L227.5 56.2 L228.8 50.9 L244.7 46.9 L252.7 44.2 L251.3 37.6 L247.4 35.0 L247.4 25.7 L254.0 16.4 L255.3 11.1 L268.6 8.5 L271.2 4.5 Z M31.8 228.6 L47.7 228.6 L50.3 241.8 L53.0 249.8 L51.7 259.0 L39.7 263.0 L29.1 268.3 L21.2 273.6 L14.6 276.3 L23.8 265.7 L26.5 257.7 L9.3 255.1 L9.3 244.5 L21.2 239.2 L31.8 237.0 Z M12.0 281.0 L25.0 279.0 L28.0 290.0 L31.8 300.0 L27.0 308.0 L15.0 307.0 L11.0 296.0 Z M25.0 310.0 L35.0 309.4 L35.8 318.7 L26.0 318.0 Z M305.5 88.0 L305.5 95.0 L298.0 103.0 L292.0 111.0 L292.0 122.0 L287.0 127.0 L285.0 145.0 L272.0 145.0 L272.0 127.0 L282.0 122.0 L276.0 117.0 L283.0 113.0 L290.0 100.0 Z M84.0 109.0 L88.0 108.5 L88.0 110.5 L84.0 111.0 Z M77.0 111.5 L80.0 111.0 L80.0 113.0 L77.0 113.5 Z M84.0 243.0 L90.0 246.0 L90.0 255.0 L82.0 254.0 Z M255.0 272.0 L262.0 270.0 L260.0 280.0 L254.0 283.0 Z" fill="none" stroke="#8fbad8" stroke-width="4" filter="url(#bl3)"/>
<ellipse cx="100" cy="180" rx="10" ry="40" transform="rotate(25 100 180)" fill="#6a96c8" filter="url(#bl3)"/>
<path d="M305.5 88.0 L305.5 95.0 L298.0 103.0 L292.0 111.0 L292.0 122.0 L287.0 127.0 L285.0 145.0 L272.0 145.0 L272.0 127.0 L282.0 122.0 L276.0 117.0 L283.0 113.0 L290.0 100.0 Z" fill="#3a4aa0" filter="url(#bl1)"/>
<path d="M267 152 L268 224 Q271 240 296 258" fill="none" stroke="#eec77c" stroke-width="2.6" stroke-linecap="round" filter="url(#bl1)"/>
<path d="M31.8 228.6 L47.7 228.6 L50.3 241.8 L53.0 249.8 L51.7 259.0 L39.7 263.0 L29.1 268.3 L21.2 273.6 L14.6 276.3 L23.8 265.7 L26.5 257.7 L9.3 255.1 L9.3 244.5 L21.2 239.2 L31.8 237.0 Z" fill="#8fbcd8" filter="url(#bl1)"/>
<path d="M12.0 281.0 L25.0 279.0 L28.0 290.0 L31.8 300.0 L27.0 308.0 L15.0 307.0 L11.0 296.0 Z" fill="#8fbcd8" filter="url(#bl1)"/>
<path d="M25.0 310.0 L35.0 309.4 L35.8 318.7 L26.0 318.0 Z" fill="#8fbcd8" filter="url(#bl1)"/>
</g>
</g>
<rect x="1445.6" y="483.0" width="305.4" height="376.5" fill="none" stroke="#000" stroke-width="1.5"/>
<text x="0" y="0" font-size="33" text-anchor="middle" transform="translate(1446.6 907.0) scale(1 1.040)">110</text>
<path d="M1591.3 859.5 v-4.5 M1591.3 483.0 v4.5" stroke="#000" stroke-width="1.3"/>
<text x="0" y="0" font-size="33" text-anchor="middle" transform="translate(1592.3 907.0) scale(1 1.040)">115</text>
<path d="M1737.0 859.5 v-4.5 M1737.0 483.0 v4.5" stroke="#000" stroke-width="1.3"/>
<text x="0" y="0" font-size="33" text-anchor="middle" transform="translate(1738.0 907.0) scale(1 1.040)">120</text>
<path d="M1445.6 540.9 h4.5 M1751.0 540.9 h-4.5" stroke="#000" stroke-width="1.3"/>
<text x="0" y="0" font-size="33" text-anchor="end" transform="translate(1433.1 552.9) scale(1 1.040)">20</text>
<path d="M1445.6 685.7 h4.5 M1751.0 685.7 h-4.5" stroke="#000" stroke-width="1.3"/>
<text x="0" y="0" font-size="33" text-anchor="end" transform="translate(1433.1 697.7) scale(1 1.040)">15</text>
<path d="M1445.6 830.5 h4.5 M1751.0 830.5 h-4.5" stroke="#000" stroke-width="1.3"/>
<text x="0" y="0" font-size="33" text-anchor="end" transform="translate(1433.1 842.5) scale(1 1.040)">10</text>
<text x="0" y="0" font-size="33" text-anchor="start" font-weight="bold" transform="translate(1708.0 844.5) scale(1 1.000)">f</text>
<rect x="1802.0" y="483.0" width="44.2" height="376.5" fill="url(#cm_rdylbu)" stroke="#000" stroke-width="1.5"/>
<text x="0" y="0" font-size="33" text-anchor="start" transform="translate(1859.2 871.4) scale(1 1.040)">34.62</text>
<path d="M1846.2 734.0 h-4" stroke="#000" stroke-width="1.2"/>
<text x="0" y="0" font-size="33" text-anchor="start" transform="translate(1859.2 745.9) scale(1 1.040)">34.63</text>
<path d="M1846.2 608.5 h-4" stroke="#000" stroke-width="1.2"/>
<text x="0" y="0" font-size="33" text-anchor="start" transform="translate(1859.2 620.4) scale(1 1.040)">34.64</text>
<text x="0" y="0" font-size="33" text-anchor="start" transform="translate(1859.2 494.9) scale(1 1.040)">34.65</text>
<g transform="translate(94.70 952.20) scale(0.9918 0.9968)">
<path d="M276.5 1.2 L291.0 1.2 L301.7 16.4 L305.5 32.0 L305.5 78.7 L300.0 82.0 L290.0 93.0 L281.0 105.0 L276.0 109.0 L271.0 111.0 L270.2 125.0 L269.5 140.0 L269.9 166.2 L271.2 199.3 L283.0 206.0 L283.0 216.5 L275.2 219.2 L285.8 227.1 L279.2 237.7 L289.7 241.7 L296.4 249.6 L296.4 258.9 L284.5 260.2 L271.2 258.9 L267.2 264.2 L264.6 269.5 L255.3 264.2 L244.7 266.9 L246.0 285.4 L236.8 292.0 L223.5 302.6 L215.6 292.0 L207.6 284.1 L194.4 285.4 L183.8 288.0 L174.5 294.7 L168.5 305.3 L166.6 318.5 L158.3 332.8 L153.0 315.9 L149.0 302.0 L139.1 296.1 L125.8 297.5 L116.6 302.8 L112.6 312.0 L111.3 325.3 L106.0 331.9 L84.8 338.5 L74.2 337.2 L63.6 345.1 L55.6 349.1 L42.4 355.7 L29.1 362.4 L23.8 372.9 L10.6 371.6 L6.6 358.4 L10.6 351.8 L26.5 338.5 L34.4 325.3 L37.1 312.0 L41.1 296.1 L46.4 282.9 L53.0 272.3 L57.0 265.7 L74.2 257.7 L92.7 255.1 L98.0 231.2 L84.8 229.9 L72.5 221.3 L82.1 208.7 L75.5 201.4 L78.2 197.2 L84.8 190.6 L91.4 186.6 L95.5 179.0 L97.0 172.0 L98.5 165.0 L102.0 158.0 L105.5 152.2 L109.9 141.6 L104.6 136.3 L104.6 129.6 L119.2 123.0 L112.6 117.7 L114.0 109.2 L92.0 109.2 L92.0 107.2 L117.0 107.2 L121.9 100.5 L128.5 93.9 L137.7 91.2 L152.0 91.9 L161.3 90.6 L160.0 76.0 L173.2 81.3 L181.1 88.0 L189.1 81.3 L198.4 76.0 L194.4 71.4 L205.0 68.1 L214.3 64.1 L215.6 60.1 L227.5 56.2 L228.8 50.9 L244.7 46.9 L252.7 44.2 L251.3 37.6 L247.4 35.0 L247.4 25.7 L254.0 16.4 L255.3 11.1 L268.6 8.5 L271.2 4.5 Z M125.0 139.0 L140.0 137.0 L154.0 138.0 L153.0 150.0 L155.0 160.0 L153.0 172.0 L145.0 182.0 L138.0 190.0 L132.0 195.0 L118.0 196.0 L105.0 193.0 L101.5 184.0 L103.0 172.0 L106.0 163.0 L112.0 157.0 L122.0 152.0 Z M31.8 228.6 L47.7 228.6 L50.3 241.8 L53.0 249.8 L51.7 259.0 L39.7 263.0 L29.1 268.3 L21.2 273.6 L14.6 276.3 L23.8 265.7 L26.5 257.7 L9.3 255.1 L9.3 244.5 L21.2 239.2 L31.8 237.0 Z M12.0 281.0 L25.0 279.0 L28.0 290.0 L31.8 300.0 L27.0 308.0 L15.0 307.0 L11.0 296.0 Z M25.0 310.0 L35.0 309.4 L35.8 318.7 L26.0 318.0 Z M305.5 88.0 L305.5 95.0 L298.0 103.0 L292.0 111.0 L292.0 122.0 L287.0 127.0 L285.0 145.0 L272.0 145.0 L272.0 127.0 L282.0 122.0 L276.0 117.0 L283.0 113.0 L290.0 100.0 Z M84.0 109.0 L88.0 108.5 L88.0 110.5 L84.0 111.0 Z M77.0 111.5 L80.0 111.0 L80.0 113.0 L77.0 113.5 Z M84.0 243.0 L90.0 246.0 L90.0 255.0 L82.0 254.0 Z M255.0 272.0 L262.0 270.0 L260.0 280.0 L254.0 283.0 Z M9.0 258.0 L26.0 256.0 L40.0 262.0 L53.0 262.0 L62.0 258.0 L74.2 257.7 L57.0 265.7 L53.0 272.3 L46.4 282.9 L41.1 296.1 L37.1 312.0 L34.4 325.3 L26.5 338.5 L10.6 351.8 L16.5 340.0 L24.5 327.0 L21.8 313.6 L12.5 304.4 L5.9 287.1 L7.2 269.9 Z" fill="none" stroke="#7b8185" stroke-width="8.5" stroke-linejoin="round"/>
<g clip-path="url(#gradclip)">
<rect x="-10" y="-10" width="330" height="400" fill="#fae7de"/>
<g filter="url(#gblur)">
<rect x="-25.5" y="-25.5" width="26" height="26" fill="#fbeee6"/>
<rect x="-0.5" y="-25.5" width="26" height="26" fill="#fbeee6"/>
<rect x="24.5" y="-25.5" width="26" height="26" fill="#f4c8b4"/>
<rect x="49.5" y="-25.5" width="26" height="26" fill="#f4c8b4"/>
<rect x="74.5" y="-25.5" width="26" height="26" fill="#f4c8b4"/>
<rect x="99.5" y="-25.5" width="26" height="26" fill="#f4c8b4"/>
<rect x="124.5" y="-25.5" width="26" height="26" fill="#f4c8b4"/>
<rect x="149.5" y="-25.5" width="26" height="26" fill="#f0aa90"/>
<rect x="174.5" y="-25.5" width="26" height="26" fill="#f0aa90"/>
<rect x="199.5" y="-25.5" width="26" height="26" fill="#6b0a12"/>
<rect x="224.5" y="-25.5" width="26" height="26" fill="#6b0a12"/>
<rect x="249.5" y="-25.5" width="26" height="26" fill="#6b0a12"/>
<rect x="274.5" y="-25.5" width="26" height="26" fill="#6b0a12"/>
<rect x="299.5" y="-25.5" width="26" height="26" fill="#8f1218"/>
<rect x="324.5" y="-25.5" width="26" height="26" fill="#8f1218"/>
<rect x="-25.5" y="-0.5" width="26" height="26" fill="#fbeee6"/>
<rect x="-0.5" y="-0.5" width="26" height="26" fill="#fbeee6"/>
<rect x="24.5" y="-0.5" width="26" height="26" fill="#f4c8b4"/>
<rect x="49.5" y="-0.5" width="26" height="26" fill="#f4c8b4"/>
<rect x="74.5" y="-0.5" width="26" height="26" fill="#f4c8b4"/>
<rect x="99.5" y="-0.5" width="26" height="26" fill="#f4c8b4"/>
<rect x="124.5" y="-0.5" width="26" height="26" fill="#f4c8b4"/>
<rect x="149.5" y="-0.5" width="26" height="26" fill="#f0aa90"/>
<rect x="174.5" y="-0.5" width="26" height="26" fill="#f0aa90"/>
<rect x="199.5" y="-0.5" width="26" height="26" fill="#6b0a12"/>
<rect x="224.5" y="-0.5" width="26" height="26" fill="#6b0a12"/>
<rect x="249.5" y="-0.5" width="26" height="26" fill="#6b0a12"/>
<rect x="274.5" y="-0.5" width="26" height="26" fill="#6b0a12"/>
<rect x="299.5" y="-0.5" width="26" height="26" fill="#8f1218"/>
<rect x="324.5" y="-0.5" width="26" height="26" fill="#8f1218"/>
<rect x="-25.5" y="24.5" width="26" height="26" fill="#fbeee6"/>
<rect x="-0.5" y="24.5" width="26" height="26" fill="#fbeee6"/>
<rect x="24.5" y="24.5" width="26" height="26" fill="#fbeee6"/>
<rect x="49.5" y="24.5" width="26" height="26" fill="#f4c8b4"/>
<rect x="74.5" y="24.5" width="26" height="26" fill="#f4c8b4"/>
<rect x="99.5" y="24.5" width="26" height="26" fill="#f4c8b4"/>
<rect x="124.5" y="24.5" width="26" height="26" fill="#f4c8b4"/>
<rect x="149.5" y="24.5" width="26" height="26" fill="#f0aa90"/>
<rect x="174.5" y="24.5" width="26" height="26" fill="#f0aa90"/>
<rect x="199.5" y="24.5" width="26" height="26" fill="#f0aa90"/>
<rect x="224.5" y="24.5" width="26" height="26" fill="#6b0a12"/>
<rect x="249.5" y="24.5" width="26" height="26" fill="#6b0a12"/>
<rect x="274.5" y="24.5" width="26" height="26" fill="#6b0a12"/>
<rect x="299.5" y="24.5" width="26" height="26" fill="#c02421"/>
<rect x="324.5" y="24.5" width="26" height="26" fill="#c02421"/>
<rect x="-25.5" y="49.5" width="26" height="26" fill="#fbeee6"/>
<rect x="-0.5" y="49.5" width="26" height="26" fill="#fbeee6"/>
<rect x="24.5" y="49.5" width="26" height="26" fill="#fbeee6"/>
<rect x="49.5" y="49.5" width="26" height="26" fill="#fbeee6"/>
<rect x="74.5" y="49.5" width="26" height="26" fill="#f4c8b4"/>
<rect x="99.5" y="49.5" width="26" height="26" fill="#f4c8b4"/>
<rect x="124.5" y="49.5" width="26" height="26" fill="#f4c8b4"/>
<rect x="149.5" y="49.5" width="26" height="26" fill="#f0aa90"/>
<rect x="174.5" y="49.5" width="26" height="26" fill="#f0aa90"/>
<rect x="199.5" y="49.5" width="26" height="26" fill="#f0aa90"/>
<rect x="224.5" y="49.5" width="26" height="26" fill="#ee8a6e"/>
<rect x="249.5" y="49.5" width="26" height="26" fill="#c02421"/>
<rect x="274.5" y="49.5" width="26" height="26" fill="#c02421"/>
<rect x="299.5" y="49.5" width="26" height="26" fill="#c02421"/>
<rect x="324.5" y="49.5" width="26" height="26" fill="#c02421"/>
<rect x="-25.5" y="74.5" width="26" height="26" fill="#fbeee6"/>
<rect x="-0.5" y="74.5" width="26" height="26" fill="#fbeee6"/>
<rect x="24.5" y="74.5" width="26" height="26" fill="#fbeee6"/>
<rect x="49.5" y="74.5" width="26" height="26" fill="#fbeee6"/>
<rect x="74.5" y="74.5" width="26" height="26" fill="#fbeee6"/>
<rect x="99.5" y="74.5" width="26" height="26" fill="#f4c8b4"/>
<rect x="124.5" y="74.5" width="26" height="26" fill="#f4c8b4"/>
<rect x="149.5" y="74.5" width="26" height="26" fill="#f0aa90"/>
<rect x="174.5" y="74.5" width="26" height="26" fill="#f0aa90"/>
<rect x="199.5" y="74.5" width="26" height="26" fill="#ee8a6e"/>
<rect x="224.5" y="74.5" width="26" height="26" fill="#ee8a6e"/>
<rect x="249.5" y="74.5" width="26" height="26" fill="#ec6a50"/>
<rect x="274.5" y="74.5" width="26" height="26" fill="#e0402e"/>
<rect x="299.5" y="74.5" width="26" height="26" fill="#c02421"/>
<rect x="324.5" y="74.5" width="26" height="26" fill="#c02421"/>
<rect x="-25.5" y="99.5" width="26" height="26" fill="#fbeee6"/>
<rect x="-0.5" y="99.5" width="26" height="26" fill="#fbeee6"/>
<rect x="24.5" y="99.5" width="26" height="26" fill="#fbeee6"/>
<rect x="49.5" y="99.5" width="26" height="26" fill="#fbeee6"/>
<rect x="74.5" y="99.5" width="26" height="26" fill="#fbeee6"/>
<rect x="99.5" y="99.5" width="26" height="26" fill="#fbeee6"/>
<rect x="124.5" y="99.5" width="26" height="26" fill="#f8ddd0"/>
<rect x="149.5" y="99.5" width="26" height="26" fill="#f4c8b4"/>
<rect x="174.5" y="99.5" width="26" height="26" fill="#f0aa90"/>
<rect x="199.5" y="99.5" width="26" height="26" fill="#ee8a6e"/>
<rect x="224.5" y="99.5" width="26" height="26" fill="#ee8a6e"/>
<rect x="249.5" y="99.5" width="26" height="26" fill="#ec6a50"/>
<rect x="274.5" y="99.5" width="26" height="26" fill="#8f1218"/>
<rect x="299.5" y="99.5" width="26" height="26" fill="#c02421"/>
<rect x="324.5" y="99.5" width="26" height="26" fill="#c02421"/>
<rect x="-25.5" y="124.5" width="26" height="26" fill="#f4c8b4"/>
<rect x="-0.5" y="124.5" width="26" height="26" fill="#f4c8b4"/>
<rect x="24.5" y="124.5" width="26" height="26" fill="#f4c8b4"/>
<rect x="49.5" y="124.5" width="26" height="26" fill="#f8ddd0"/>
<rect x="74.5" y="124.5" width="26" height="26" fill="#f8ddd0"/>
<rect x="99.5" y="124.5" width="26" height="26" fill="#f8ddd0"/>
<rect x="124.5" y="124.5" width="26" height="26" fill="#f8ddd0"/>
<rect x="149.5" y="124.5" width="26" height="26" fill="#ee8a6e"/>
<rect x="174.5" y="124.5" width="26" height="26" fill="#ee8a6e"/>
<rect x="199.5" y="124.5" width="26" height="26" fill="#ec6a50"/>
<rect x="224.5" y="124.5" width="26" height="26" fill="#ee8a6e"/>
<rect x="249.5" y="124.5" width="26" height="26" fill="#ec6a50"/>
<rect x="274.5" y="124.5" width="26" height="26" fill="#e0402e"/>
<rect x="299.5" y="124.5" width="26" height="26" fill="#e0402e"/>
<rect x="324.5" y="124.5" width="26" height="26" fill="#e0402e"/>
<rect x="-25.5" y="149.5" width="26" height="26" fill="#f8ddd0"/>
<rect x="-0.5" y="149.5" width="26" height="26" fill="#f8ddd0"/>
<rect x="24.5" y="149.5" width="26" height="26" fill="#f4c8b4"/>
<rect x="49.5" y="149.5" width="26" height="26" fill="#f4c8b4"/>
<rect x="74.5" y="149.5" width="26" height="26" fill="#f8ddd0"/>
<rect x="99.5" y="149.5" width="26" height="26" fill="#f8ddd0"/>
<rect x="124.5" y="149.5" width="26" height="26" fill="#f8ddd0"/>
<rect x="149.5" y="149.5" width="26" height="26" fill="#ec6a50"/>
<rect x="174.5" y="149.5" width="26" height="26" fill="#ee8a6e"/>
<rect x="199.5" y="149.5" width="26" height="26" fill="#ee8a6e"/>
<rect x="224.5" y="149.5" width="26" height="26" fill="#ee8a6e"/>
<rect x="249.5" y="149.5" width="26" height="26" fill="#ee8a6e"/>
<rect x="274.5" y="149.5" width="26" height="26" fill="#e0402e"/>
<rect x="299.5" y="149.5" width="26" height="26" fill="#e0402e"/>
<rect x="324.5" y="149.5" width="26" height="26" fill="#e0402e"/>
<rect x="-25.5" y="174.5" width="26" height="26" fill="#f8ddd0"/>
<rect x="-0.5" y="174.5" width="26" height="26" fill="#f8ddd0"/>
<rect x="24.5" y="174.5" width="26" height="26" fill="#f4c8b4"/>
<rect x="49.5" y="174.5" width="26" height="26" fill="#f4c8b4"/>
<rect x="74.5" y="174.5" width="26" height="26" fill="#f4c8b4"/>
<rect x="99.5" y="174.5" width="26" height="26" fill="#f8ddd0"/>
<rect x="124.5" y="174.5" width="26" height="26" fill="#ec6a50"/>
<rect x="149.5" y="174.5" width="26" height="26" fill="#ee8a6e"/>
<rect x="174.5" y="174.5" width="26" height="26" fill="#f0aa90"/>
<rect x="199.5" y="174.5" width="26" height="26" fill="#f0aa90"/>
<rect x="224.5" y="174.5" width="26" height="26" fill="#f0aa90"/>
<rect x="249.5" y="174.5" width="26" height="26" fill="#f4c8b4"/>
<rect x="274.5" y="174.5" width="26" height="26" fill="#f4c8b4"/>
<rect x="299.5" y="174.5" width="26" height="26" fill="#f4c8b4"/>
<rect x="324.5" y="174.5" width="26" height="26" fill="#f4c8b4"/>
<rect x="-25.5" y="199.5" width="26" height="26" fill="#f8ddd0"/>
<rect x="-0.5" y="199.5" width="26" height="26" fill="#f8ddd0"/>
<rect x="24.5" y="199.5" width="26" height="26" fill="#f8ddd0"/>
<rect x="49.5" y="199.5" width="26" height="26" fill="#f8ddd0"/>
<rect x="74.5" y="199.5" width="26" height="26" fill="#f8ddd0"/>
<rect x="99.5" y="199.5" width="26" height="26" fill="#f4c8b4"/>
<rect x="124.5" y="199.5" width="26" height="26" fill="#f0aa90"/>
<rect x="149.5" y="199.5" width="26" height="26" fill="#f0aa90"/>
<rect x="174.5" y="199.5" width="26" height="26" fill="#f4c8b4"/>
<rect x="199.5" y="199.5" width="26" height="26" fill="#f8ddd0"/>
<rect x="224.5" y="199.5" width="26" height="26" fill="#f8ddd0"/>
<rect x="249.5" y="199.5" width="26" height="26" fill="#f8ddd0"/>
<rect x="274.5" y="199.5" width="26" height="26" fill="#f8ddd0"/>
<rect x="299.5" y="199.5" width="26" height="26" fill="#f8ddd0"/>
<rect x="324.5" y="199.5" width="26" height="26" fill="#f8ddd0"/>
<rect x="-25.5" y="224.5" width="26" height="26" fill="#f8ddd0"/>
<rect x="-0.5" y="224.5" width="26" height="26" fill="#f8ddd0"/>
<rect x="24.5" y="224.5" width="26" height="26" fill="#f8ddd0"/>
<rect x="49.5" y="224.5" width="26" height="26" fill="#f8ddd0"/>
<rect x="74.5" y="224.5" width="26" height="26" fill="#f4c8b4"/>
<rect x="99.5" y="224.5" width="26" height="26" fill="#f4c8b4"/>
<rect x="124.5" y="224.5" width="26" height="26" fill="#f4c8b4"/>
<rect x="149.5" y="224.5" width="26" height="26" fill="#f4c8b4"/>
<rect x="174.5" y="224.5" width="26" height="26" fill="#f8ddd0"/>
<rect x="199.5" y="224.5" width="26" height="26" fill="#f8ddd0"/>
<rect x="224.5" y="224.5" width="26" height="26" fill="#fbeee6"/>
<rect x="249.5" y="224.5" width="26" height="26" fill="#fbeee6"/>
<rect x="274.5" y="224.5" width="26" height="26" fill="#f8ddd0"/>
<rect x="299.5" y="224.5" width="26" height="26" fill="#f8ddd0"/>
<rect x="324.5" y="224.5" width="26" height="26" fill="#f8ddd0"/>
<rect x="-25.5" y="249.5" width="26" height="26" fill="#fbeee6"/>
<rect x="-0.5" y="249.5" width="26" height="26" fill="#fbeee6"/>
<rect x="24.5" y="249.5" width="26" height="26" fill="#f8ddd0"/>
<rect x="49.5" y="249.5" width="26" height="26" fill="#f8ddd0"/>
<rect x="74.5" y="249.5" width="26" height="26" fill="#f8ddd0"/>
<rect x="99.5" y="249.5" width="26" height="26" fill="#f8ddd0"/>
<rect x="124.5" y="249.5" width="26" height="26" fill="#f8ddd0"/>
<rect x="149.5" y="249.5" width="26" height="26" fill="#f8ddd0"/>
<rect x="174.5" y="249.5" width="26" height="26" fill="#f8ddd0"/>
<rect x="199.5" y="249.5" width="26" height="26" fill="#fbeee6"/>
<rect x="224.5" y="249.5" width="26" height="26" fill="#fbeee6"/>
<rect x="249.5" y="249.5" width="26" height="26" fill="#fbeee6"/>
<rect x="274.5" y="249.5" width="26" height="26" fill="#f8ddd0"/>
<rect x="299.5" y="249.5" width="26" height="26" fill="#f8ddd0"/>
<rect x="324.5" y="249.5" width="26" height="26" fill="#f8ddd0"/>
<rect x="-25.5" y="274.5" width="26" height="26" fill="#fbeee6"/>
<rect x="-0.5" y="274.5" width="26" height="26" fill="#fbeee6"/>
<rect x="24.5" y="274.5" width="26" height="26" fill="#fbeee6"/>
<rect x="49.5" y="274.5" width="26" height="26" fill="#f8ddd0"/>
<rect x="74.5" y="274.5" width="26" height="26" fill="#f8ddd0"/>
<rect x="99.5" y="274.5" width="26" height="26" fill="#f8ddd0"/>
<rect x="124.5" y="274.5" width="26" height="26" fill="#f8ddd0"/>
<rect x="149.5" y="274.5" width="26" height="26" fill="#fbeee6"/>
<rect x="174.5" y="274.5" width="26" height="26" fill="#fbeee6"/>
<rect x="199.5" y="274.5" width="26" height="26" fill="#fbeee6"/>
<rect x="224.5" y="274.5" width="26" height="26" fill="#fbeee6"/>
<rect x="249.5" y="274.5" width="26" height="26" fill="#fbeee6"/>
<rect x="274.5" y="274.5" width="26" height="26" fill="#fbeee6"/>
<rect x="299.5" y="274.5" width="26" height="26" fill="#fbeee6"/>
<rect x="324.5" y="274.5" width="26" height="26" fill="#fbeee6"/>
<rect x="-25.5" y="299.5" width="26" height="26" fill="#fbeee6"/>
<rect x="-0.5" y="299.5" width="26" height="26" fill="#fbeee6"/>
<rect x="24.5" y="299.5" width="26" height="26" fill="#fbeee6"/>
<rect x="49.5" y="299.5" width="26" height="26" fill="#fbeee6"/>
<rect x="74.5" y="299.5" width="26" height="26" fill="#f8ddd0"/>
<rect x="99.5" y="299.5" width="26" height="26" fill="#f8ddd0"/>
<rect x="124.5" y="299.5" width="26" height="26" fill="#f8ddd0"/>
<rect x="149.5" y="299.5" width="26" height="26" fill="#fbeee6"/>
<rect x="174.5" y="299.5" width="26" height="26" fill="#fbeee6"/>
<rect x="199.5" y="299.5" width="26" height="26" fill="#fbeee6"/>
<rect x="224.5" y="299.5" width="26" height="26" fill="#fbeee6"/>
<rect x="249.5" y="299.5" width="26" height="26" fill="#fbeee6"/>
<rect x="274.5" y="299.5" width="26" height="26" fill="#fbeee6"/>
<rect x="299.5" y="299.5" width="26" height="26" fill="#fbeee6"/>
<rect x="324.5" y="299.5" width="26" height="26" fill="#fbeee6"/>
<rect x="-25.5" y="324.5" width="26" height="26" fill="#fbeee6"/>
<rect x="-0.5" y="324.5" width="26" height="26" fill="#fbeee6"/>
<rect x="24.5" y="324.5" width="26" height="26" fill="#fbeee6"/>
<rect x="49.5" y="324.5" width="26" height="26" fill="#fbeee6"/>
<rect x="74.5" y="324.5" width="26" height="26" fill="#fbeee6"/>
<rect x="99.5" y="324.5" width="26" height="26" fill="#f8ddd0"/>
<rect x="124.5" y="324.5" width="26" height="26" fill="#fbeee6"/>
<rect x="149.5" y="324.5" width="26" height="26" fill="#fbeee6"/>
<rect x="174.5" y="324.5" width="26" height="26" fill="#fbeee6"/>
<rect x="199.5" y="324.5" width="26" height="26" fill="#fbeee6"/>
<rect x="224.5" y="324.5" width="26" height="26" fill="#fbeee6"/>
<rect x="249.5" y="324.5" width="26" height="26" fill="#fbeee6"/>
<rect x="274.5" y="324.5" width="26" height="26" fill="#fbeee6"/>
<rect x="299.5" y="324.5" width="26" height="26" fill="#fbeee6"/>
<rect x="324.5" y="324.5" width="26" height="26" fill="#fbeee6"/>
<rect x="-25.5" y="349.5" width="26" height="26" fill="#fbeee6"/>
<rect x="-0.5" y="349.5" width="26" height="26" fill="#fbeee6"/>
<rect x="24.5" y="349.5" width="26" height="26" fill="#fbeee6"/>
<rect x="49.5" y="349.5" width="26" height="26" fill="#fbeee6"/>
<rect x="74.5" y="349.5" width="26" height="26" fill="#fbeee6"/>
<rect x="99.5" y="349.5" width="26" height="26" fill="#fbeee6"/>
<rect x="124.5" y="349.5" width="26" height="26" fill="#fbeee6"/>
<rect x="149.5" y="349.5" width="26" height="26" fill="#fbeee6"/>
<rect x="174.5" y="349.5" width="26" height="26" fill="#fbeee6"/>
<rect x="199.5" y="349.5" width="26" height="26" fill="#fbeee6"/>
<rect x="224.5" y="349.5" width="26" height="26" fill="#fbeee6"/>
<rect x="249.5" y="349.5" width="26" height="26" fill="#fbeee6"/>
<rect x="274.5" y="349.5" width="26" height="26" fill="#fbeee6"/>
<rect x="299.5" y="349.5" width="26" height="26" fill="#fbeee6"/>
<rect x="324.5" y="349.5" width="26" height="26" fill="#fbeee6"/>
<rect x="-25.5" y="374.5" width="26" height="26" fill="#fbeee6"/>
<rect x="-0.5" y="374.5" width="26" height="26" fill="#fbeee6"/>
<rect x="24.5" y="374.5" width="26" height="26" fill="#fbeee6"/>
<rect x="49.5" y="374.5" width="26" height="26" fill="#fbeee6"/>
<rect x="74.5" y="374.5" width="26" height="26" fill="#fbeee6"/>
<rect x="99.5" y="374.5" width="26" height="26" fill="#fbeee6"/>
<rect x="124.5" y="374.5" width="26" height="26" fill="#fbeee6"/>
<rect x="149.5" y="374.5" width="26" height="26" fill="#fbeee6"/>
<rect x="174.5" y="374.5" width="26" height="26" fill="#fbeee6"/>
<rect x="199.5" y="374.5" width="26" height="26" fill="#fbeee6"/>
<rect x="224.5" y="374.5" width="26" height="26" fill="#fbeee6"/>
<rect x="249.5" y="374.5" width="26" height="26" fill="#fbeee6"/>
<rect x="274.5" y="374.5" width="26" height="26" fill="#fbeee6"/>
<rect x="299.5" y="374.5" width="26" height="26" fill="#fbeee6"/>
<rect x="324.5" y="374.5" width="26" height="26" fill="#fbeee6"/>
<rect x="-25.5" y="399.5" width="26" height="26" fill="#fbeee6"/>
<rect x="-0.5" y="399.5" width="26" height="26" fill="#fbeee6"/>
<rect x="24.5" y="399.5" width="26" height="26" fill="#fbeee6"/>
<rect x="49.5" y="399.5" width="26" height="26" fill="#fbeee6"/>
<rect x="74.5" y="399.5" width="26" height="26" fill="#fbeee6"/>
<rect x="99.5" y="399.5" width="26" height="26" fill="#fbeee6"/>
<rect x="124.5" y="399.5" width="26" height="26" fill="#fbeee6"/>
<rect x="149.5" y="399.5" width="26" height="26" fill="#fbeee6"/>
<rect x="174.5" y="399.5" width="26" height="26" fill="#fbeee6"/>
<rect x="199.5" y="399.5" width="26" height="26" fill="#fbeee6"/>
<rect x="224.5" y="399.5" width="26" height="26" fill="#fbeee6"/>
<rect x="249.5" y="399.5" width="26" height="26" fill="#fbeee6"/>
<rect x="274.5" y="399.5" width="26" height="26" fill="#fbeee6"/>
<rect x="299.5" y="399.5" width="26" height="26" fill="#fbeee6"/>
<rect x="324.5" y="399.5" width="26" height="26" fill="#fbeee6"/>
</g>
<ellipse cx="282" cy="28" rx="24" ry="24" transform="rotate(0 282 28)" fill="#6b0a12" filter="url(#bl3)"/>
</g>
<ellipse cx="177.7" cy="162.3" rx="7.2" ry="5.2" fill="#7b8185"/>
<ellipse cx="193" cy="156" rx="6.5" ry="7.5" fill="#7b8185"/>
<ellipse cx="196" cy="172" rx="6.5" ry="9.5" fill="#7b8185"/>
<ellipse cx="206.9" cy="127.2" rx="5.8" ry="5.8" fill="#7b8185"/>
<ellipse cx="231.4" cy="148.4" rx="5.2" ry="4.7" fill="#7b8185"/>
<ellipse cx="180.3" cy="185.5" rx="7.2" ry="5.8" fill="#7b8185"/>
<ellipse cx="189" cy="202.6" rx="7.8" ry="7.2" fill="#7b8185"/>
<ellipse cx="209.5" cy="196.7" rx="7.2" ry="6.5" fill="#7b8185"/>
<ellipse cx="226.7" cy="198.1" rx="9.7" ry="7.8" fill="#7b8185"/>
<ellipse cx="240.7" cy="194.7" rx="6.5" ry="5.8" fill="#7b8185"/>
<ellipse cx="251.3" cy="186" rx="6.5" ry="6.5" fill="#7b8185"/>
<ellipse cx="146" cy="222" rx="6.5" ry="6.5" fill="#7b8185"/>
<ellipse cx="155" cy="228" rx="7.5" ry="7.5" fill="#7b8185"/>
<ellipse cx="149" cy="236" rx="6.5" ry="6.5" fill="#7b8185"/>
<ellipse cx="142.6" cy="249" rx="6.5" ry="5.8" fill="#7b8185"/>
<ellipse cx="267.7" cy="24.8" rx="5.8" ry="5.8" fill="#7b8185"/>
<ellipse cx="253.8" cy="42.1" rx="5.2" ry="5.8" fill="#7b8185"/>
<ellipse cx="241.8" cy="62.7" rx="5.2" ry="5.2" fill="#7b8185"/>
<ellipse cx="208.6" cy="126.6" rx="4" ry="4" fill="#7b8185"/>
<ellipse cx="38.5" cy="244" rx="6" ry="6" fill="#7b8185"/>
<ellipse cx="256" cy="141" rx="8" ry="9.5" fill="#7b8185"/>
<ellipse cx="92" cy="345" rx="6" ry="7" transform="rotate(0 92 345)" fill="#7b8185"/>
<ellipse cx="100" cy="355" rx="7" ry="8" transform="rotate(0 100 355)" fill="#7b8185"/>
<ellipse cx="92" cy="364" rx="6" ry="5" transform="rotate(0 92 364)" fill="#7b8185"/>
<ellipse cx="129" cy="362" rx="8" ry="6" transform="rotate(-30 129 362)" fill="#7b8185"/>
<ellipse cx="140.5" cy="348" rx="4" ry="11" transform="rotate(0 140.5 348)" fill="#7b8185"/>
<ellipse cx="151" cy="352" rx="4" ry="4.5" transform="rotate(0 151 352)" fill="#7b8185"/>
<ellipse cx="163" cy="354.5" rx="4.5" ry="5" transform="rotate(0 163 354.5)" fill="#7b8185"/>
<ellipse cx="175.5" cy="352.5" rx="3.5" ry="3" transform="rotate(0 175.5 352.5)" fill="#7b8185"/>
<ellipse cx="145" cy="365" rx="2.2" ry="2" transform="rotate(0 145 365)" fill="#7b8185"/>
<ellipse cx="142.7" cy="313" rx="4.5" ry="2.5" transform="rotate(-40 142.7 313)" fill="#7b8185"/>
<ellipse cx="148.3" cy="322.6" rx="4" ry="4" transform="rotate(0 148.3 322.6)" fill="#7b8185"/>
<ellipse cx="174" cy="327" rx="2.5" ry="1.8" transform="rotate(0 174 327)" fill="#7b8185"/>
<ellipse cx="70" cy="111.5" rx="13" ry="3" transform="rotate(-5 70 111.5)" fill="#7b8185"/>
<ellipse cx="141" cy="141" rx="14" ry="9" transform="rotate(-10 141 141)" fill="#7b8185"/>
<ellipse cx="128" cy="156" rx="5" ry="4" transform="rotate(0 128 156)" fill="#7b8185"/>
<ellipse cx="70" cy="235" rx="5" ry="5" transform="rotate(0 70 235)" fill="#7b8185"/>
<ellipse cx="88" cy="225" rx="4" ry="4" transform="rotate(0 88 225)" fill="#7b8185"/>
<ellipse cx="60" cy="245" rx="5" ry="3" transform="rotate(0 60 245)" fill="#7b8185"/>
<ellipse cx="30" cy="268" rx="5" ry="4" transform="rotate(0 30 268)" fill="#7b8185"/>
<ellipse cx="40" cy="288" rx="6" ry="5" transform="rotate(0 40 288)" fill="#7b8185"/>
<ellipse cx="33" cy="305" rx="4" ry="4" transform="rotate(0 33 305)" fill="#7b8185"/>
<ellipse cx="35" cy="332" rx="5" ry="5" transform="rotate(0 35 332)" fill="#7b8185"/>
<ellipse cx="35" cy="238" rx="3" ry="3" transform="rotate(0 35 238)" fill="#7b8185"/>
<ellipse cx="262" cy="131" rx="4" ry="6" transform="rotate(0 262 131)" fill="#7b8185"/>
<ellipse cx="255" cy="155" rx="4" ry="5" transform="rotate(0 255 155)" fill="#7b8185"/>
<ellipse cx="250" cy="178" rx="3.5" ry="3.5" transform="rotate(0 250 178)" fill="#7b8185"/>
<ellipse cx="236" cy="186" rx="3" ry="3" transform="rotate(0 236 186)" fill="#7b8185"/>
<ellipse cx="283" cy="233" rx="3" ry="5" transform="rotate(0 283 233)" fill="#7b8185"/>
<ellipse cx="279" cy="285" rx="3.5" ry="4" transform="rotate(0 279 285)" fill="#7b8185"/>
<ellipse cx="286" cy="178" rx="1.5" ry="5" transform="rotate(0 286 178)" fill="#7b8185"/>
<ellipse cx="178" cy="178" rx="2.5" ry="2.5" transform="rotate(0 178 178)" fill="#7b8185"/>
<ellipse cx="182" cy="165" rx="3" ry="3" transform="rotate(0 182 165)" fill="#7b8185"/>
<ellipse cx="195" cy="195" rx="4" ry="3" transform="rotate(0 195 195)" fill="#7b8185"/>
</g>
<rect x="94.7" y="952.2" width="303.0" height="375.0" fill="none" stroke="#000" stroke-width="1.5"/>
<text x="0" y="0" font-size="33" text-anchor="middle" transform="translate(93.7 1373.7) scale(1 1.040)">110</text>
<path d="M239.3 1327.2 v-4.5 M239.3 952.2 v4.5" stroke="#000" stroke-width="1.3"/>
<text x="0" y="0" font-size="33" text-anchor="middle" transform="translate(238.3 1373.7) scale(1 1.040)">115</text>
<path d="M383.8 1327.2 v-4.5 M383.8 952.2 v4.5" stroke="#000" stroke-width="1.3"/>
<text x="0" y="0" font-size="33" text-anchor="middle" transform="translate(382.8 1373.7) scale(1 1.040)">120</text>
<path d="M94.7 1009.9 h4.5 M397.7 1009.9 h-4.5" stroke="#000" stroke-width="1.3"/>
<text x="0" y="0" font-size="33" text-anchor="end" transform="translate(82.2 1021.9) scale(1 1.040)">20</text>
<path d="M94.7 1154.1 h4.5 M397.7 1154.1 h-4.5" stroke="#000" stroke-width="1.3"/>
<text x="0" y="0" font-size="33" text-anchor="end" transform="translate(82.2 1166.1) scale(1 1.040)">15</text>
<path d="M94.7 1298.4 h4.5 M397.7 1298.4 h-4.5" stroke="#000" stroke-width="1.3"/>
<text x="0" y="0" font-size="33" text-anchor="end" transform="translate(82.2 1310.4) scale(1 1.040)">10</text>
<text x="0" y="0" font-size="33" text-anchor="start" font-weight="bold" transform="translate(354.7 1312.2) scale(1 1.000)">g</text>
<rect x="436.5" y="952.2" width="44.5" height="375.0" fill="url(#cm_reds)" stroke="#000" stroke-width="1.5"/>
<text x="0" y="0" font-size="31" text-anchor="start" transform="translate(494.0 1340.0) scale(1 1.040)">0</text>
<path d="M481.0 1202.2 h-4" stroke="#000" stroke-width="1.2"/>
<text x="0" y="0" font-size="31" text-anchor="start" transform="translate(494.0 1215.0) scale(1 1.040)">0.5</text>
<path d="M481.0 1077.2 h-4" stroke="#000" stroke-width="1.2"/>
<text x="0" y="0" font-size="31" text-anchor="start" transform="translate(494.0 1090.0) scale(1 1.040)">1</text>
<text x="0" y="0" font-size="31" text-anchor="start" transform="translate(494.0 965.0) scale(1 1.040)">1.5</text>
<g transform="translate(797.70 952.20) scale(0.9918 0.9968)">
<path d="M276.5 1.2 L291.0 1.2 L301.7 16.4 L305.5 32.0 L305.5 78.7 L300.0 82.0 L290.0 93.0 L281.0 105.0 L276.0 109.0 L271.0 111.0 L270.2 125.0 L269.5 140.0 L269.9 166.2 L271.2 199.3 L283.0 206.0 L283.0 216.5 L275.2 219.2 L285.8 227.1 L279.2 237.7 L289.7 241.7 L296.4 249.6 L296.4 258.9 L284.5 260.2 L271.2 258.9 L267.2 264.2 L264.6 269.5 L255.3 264.2 L244.7 266.9 L246.0 285.4 L236.8 292.0 L223.5 302.6 L215.6 292.0 L207.6 284.1 L194.4 285.4 L183.8 288.0 L174.5 294.7 L168.5 305.3 L166.6 318.5 L158.3 332.8 L153.0 315.9 L149.0 302.0 L139.1 296.1 L125.8 297.5 L116.6 302.8 L112.6 312.0 L111.3 325.3 L106.0 331.9 L84.8 338.5 L74.2 337.2 L63.6 345.1 L55.6 349.1 L42.4 355.7 L29.1 362.4 L23.8 372.9 L10.6 371.6 L6.6 358.4 L10.6 351.8 L26.5 338.5 L34.4 325.3 L37.1 312.0 L41.1 296.1 L46.4 282.9 L53.0 272.3 L57.0 265.7 L74.2 257.7 L92.7 255.1 L98.0 231.2 L84.8 229.9 L72.5 221.3 L82.1 208.7 L75.5 201.4 L78.2 197.2 L84.8 190.6 L91.4 186.6 L95.5 179.0 L97.0 172.0 L98.5 165.0 L102.0 158.0 L105.5 152.2 L109.9 141.6 L104.6 136.3 L104.6 129.6 L119.2 123.0 L112.6 117.7 L114.0 109.2 L92.0 109.2 L92.0 107.2 L117.0 107.2 L121.9 100.5 L128.5 93.9 L137.7 91.2 L152.0 91.9 L161.3 90.6 L160.0 76.0 L173.2 81.3 L181.1 88.0 L189.1 81.3 L198.4 76.0 L194.4 71.4 L205.0 68.1 L214.3 64.1 L215.6 60.1 L227.5 56.2 L228.8 50.9 L244.7 46.9 L252.7 44.2 L251.3 37.6 L247.4 35.0 L247.4 25.7 L254.0 16.4 L255.3 11.1 L268.6 8.5 L271.2 4.5 Z M125.0 139.0 L140.0 137.0 L154.0 138.0 L153.0 150.0 L155.0 160.0 L153.0 172.0 L145.0 182.0 L138.0 190.0 L132.0 195.0 L118.0 196.0 L105.0 193.0 L101.5 184.0 L103.0 172.0 L106.0 163.0 L112.0 157.0 L122.0 152.0 Z M31.8 228.6 L47.7 228.6 L50.3 241.8 L53.0 249.8 L51.7 259.0 L39.7 263.0 L29.1 268.3 L21.2 273.6 L14.6 276.3 L23.8 265.7 L26.5 257.7 L9.3 255.1 L9.3 244.5 L21.2 239.2 L31.8 237.0 Z M12.0 281.0 L25.0 279.0 L28.0 290.0 L31.8 300.0 L27.0 308.0 L15.0 307.0 L11.0 296.0 Z M25.0 310.0 L35.0 309.4 L35.8 318.7 L26.0 318.0 Z M305.5 88.0 L305.5 95.0 L298.0 103.0 L292.0 111.0 L292.0 122.0 L287.0 127.0 L285.0 145.0 L272.0 145.0 L272.0 127.0 L282.0 122.0 L276.0 117.0 L283.0 113.0 L290.0 100.0 Z M84.0 109.0 L88.0 108.5 L88.0 110.5 L84.0 111.0 Z M77.0 111.5 L80.0 111.0 L80.0 113.0 L77.0 113.5 Z M84.0 243.0 L90.0 246.0 L90.0 255.0 L82.0 254.0 Z M255.0 272.0 L262.0 270.0 L260.0 280.0 L254.0 283.0 Z M9.0 258.0 L26.0 256.0 L40.0 262.0 L53.0 262.0 L62.0 258.0 L74.2 257.7 L57.0 265.7 L53.0 272.3 L46.4 282.9 L41.1 296.1 L37.1 312.0 L34.4 325.3 L26.5 338.5 L10.6 351.8 L16.5 340.0 L24.5 327.0 L21.8 313.6 L12.5 304.4 L5.9 287.1 L7.2 269.9 Z" fill="none" stroke="#7b8185" stroke-width="8.5" stroke-linejoin="round"/>
<g clip-path="url(#gradclip)">
<rect x="-10" y="-10" width="330" height="400" fill="#fbe9e1"/>
<g filter="url(#gblur)">
<rect x="-25.5" y="-25.5" width="26" height="26" fill="#fbeee6"/>
<rect x="-0.5" y="-25.5" width="26" height="26" fill="#fbeee6"/>
<rect x="24.5" y="-25.5" width="26" height="26" fill="#f8ddd0"/>
<rect x="49.5" y="-25.5" width="26" height="26" fill="#f8ddd0"/>
<rect x="74.5" y="-25.5" width="26" height="26" fill="#f8ddd0"/>
<rect x="99.5" y="-25.5" width="26" height="26" fill="#f8ddd0"/>
<rect x="124.5" y="-25.5" width="26" height="26" fill="#f8ddd0"/>
<rect x="149.5" y="-25.5" width="26" height="26" fill="#f4c8b4"/>
<rect x="174.5" y="-25.5" width="26" height="26" fill="#f4c8b4"/>
<rect x="199.5" y="-25.5" width="26" height="26" fill="#6b0a12"/>
<rect x="224.5" y="-25.5" width="26" height="26" fill="#6b0a12"/>
<rect x="249.5" y="-25.5" width="26" height="26" fill="#6b0a12"/>
<rect x="274.5" y="-25.5" width="26" height="26" fill="#6b0a12"/>
<rect x="299.5" y="-25.5" width="26" height="26" fill="#8f1218"/>
<rect x="324.5" y="-25.5" width="26" height="26" fill="#8f1218"/>
<rect x="-25.5" y="-0.5" width="26" height="26" fill="#fbeee6"/>
<rect x="-0.5" y="-0.5" width="26" height="26" fill="#fbeee6"/>
<rect x="24.5" y="-0.5" width="26" height="26" fill="#f8ddd0"/>
<rect x="49.5" y="-0.5" width="26" height="26" fill="#f8ddd0"/>
<rect x="74.5" y="-0.5" width="26" height="26" fill="#f8ddd0"/>
<rect x="99.5" y="-0.5" width="26" height="26" fill="#f8ddd0"/>
<rect x="124.5" y="-0.5" width="26" height="26" fill="#f8ddd0"/>
<rect x="149.5" y="-0.5" width="26" height="26" fill="#f4c8b4"/>
<rect x="174.5" y="-0.5" width="26" height="26" fill="#f4c8b4"/>
<rect x="199.5" y="-0.5" width="26" height="26" fill="#6b0a12"/>
<rect x="224.5" y="-0.5" width="26" height="26" fill="#6b0a12"/>
<rect x="249.5" y="-0.5" width="26" height="26" fill="#6b0a12"/>
<rect x="274.5" y="-0.5" width="26" height="26" fill="#6b0a12"/>
<rect x="299.5" y="-0.5" width="26" height="26" fill="#8f1218"/>
<rect x="324.5" y="-0.5" width="26" height="26" fill="#8f1218"/>
<rect x="-25.5" y="24.5" width="26" height="26" fill="#fbeee6"/>
<rect x="-0.5" y="24.5" width="26" height="26" fill="#fbeee6"/>
<rect x="24.5" y="24.5" width="26" height="26" fill="#fbeee6"/>
<rect x="49.5" y="24.5" width="26" height="26" fill="#f8ddd0"/>
<rect x="74.5" y="24.5" width="26" height="26" fill="#f8ddd0"/>
<rect x="99.5" y="24.5" width="26" height="26" fill="#f8ddd0"/>
<rect x="124.5" y="24.5" width="26" height="26" fill="#f8ddd0"/>
<rect x="149.5" y="24.5" width="26" height="26" fill="#f4c8b4"/>
<rect x="174.5" y="24.5" width="26" height="26" fill="#f4c8b4"/>
<rect x="199.5" y="24.5" width="26" height="26" fill="#f4c8b4"/>
<rect x="224.5" y="24.5" width="26" height="26" fill="#6b0a12"/>
<rect x="249.5" y="24.5" width="26" height="26" fill="#6b0a12"/>
<rect x="274.5" y="24.5" width="26" height="26" fill="#6b0a12"/>
<rect x="299.5" y="24.5" width="26" height="26" fill="#c02421"/>
<rect x="324.5" y="24.5" width="26" height="26" fill="#c02421"/>
<rect x="-25.5" y="49.5" width="26" height="26" fill="#fbeee6"/>
<rect x="-0.5" y="49.5" width="26" height="26" fill="#fbeee6"/>
<rect x="24.5" y="49.5" width="26" height="26" fill="#fbeee6"/>
<rect x="49.5" y="49.5" width="26" height="26" fill="#fbeee6"/>
<rect x="74.5" y="49.5" width="26" height="26" fill="#f8ddd0"/>
<rect x="99.5" y="49.5" width="26" height="26" fill="#f8ddd0"/>
<rect x="124.5" y="49.5" width="26" height="26" fill="#f8ddd0"/>
<rect x="149.5" y="49.5" width="26" height="26" fill="#f4c8b4"/>
<rect x="174.5" y="49.5" width="26" height="26" fill="#f4c8b4"/>
<rect x="199.5" y="49.5" width="26" height="26" fill="#f4c8b4"/>
<rect x="224.5" y="49.5" width="26" height="26" fill="#f0aa90"/>
<rect x="249.5" y="49.5" width="26" height="26" fill="#c02421"/>
<rect x="274.5" y="49.5" width="26" height="26" fill="#c02421"/>
<rect x="299.5" y="49.5" width="26" height="26" fill="#c02421"/>
<rect x="324.5" y="49.5" width="26" height="26" fill="#c02421"/>
<rect x="-25.5" y="74.5" width="26" height="26" fill="#fbeee6"/>
<rect x="-0.5" y="74.5" width="26" height="26" fill="#fbeee6"/>
<rect x="24.5" y="74.5" width="26" height="26" fill="#fbeee6"/>
<rect x="49.5" y="74.5" width="26" height="26" fill="#fbeee6"/>
<rect x="74.5" y="74.5" width="26" height="26" fill="#fbeee6"/>
<rect x="99.5" y="74.5" width="26" height="26" fill="#f8ddd0"/>
<rect x="124.5" y="74.5" width="26" height="26" fill="#f8ddd0"/>
<rect x="149.5" y="74.5" width="26" height="26" fill="#f4c8b4"/>
<rect x="174.5" y="74.5" width="26" height="26" fill="#f4c8b4"/>
<rect x="199.5" y="74.5" width="26" height="26" fill="#f0aa90"/>
<rect x="224.5" y="74.5" width="26" height="26" fill="#f0aa90"/>
<rect x="249.5" y="74.5" width="26" height="26" fill="#ee8a6e"/>
<rect x="274.5" y="74.5" width="26" height="26" fill="#e0402e"/>
<rect x="299.5" y="74.5" width="26" height="26" fill="#c02421"/>
<rect x="324.5" y="74.5" width="26" height="26" fill="#c02421"/>
<rect x="-25.5" y="99.5" width="26" height="26" fill="#fbeee6"/>
<rect x="-0.5" y="99.5" width="26" height="26" fill="#fbeee6"/>
<rect x="24.5" y="99.5" width="26" height="26" fill="#fbeee6"/>
<rect x="49.5" y="99.5" width="26" height="26" fill="#fbeee6"/>
<rect x="74.5" y="99.5" width="26" height="26" fill="#fbeee6"/>
<rect x="99.5" y="99.5" width="26" height="26" fill="#fbeee6"/>
<rect x="124.5" y="99.5" width="26" height="26" fill="#f8ddd0"/>
<rect x="149.5" y="99.5" width="26" height="26" fill="#f8ddd0"/>
<rect x="174.5" y="99.5" width="26" height="26" fill="#f4c8b4"/>
<rect x="199.5" y="99.5" width="26" height="26" fill="#f0aa90"/>
<rect x="224.5" y="99.5" width="26" height="26" fill="#f0aa90"/>
<rect x="249.5" y="99.5" width="26" height="26" fill="#ee8a6e"/>
<rect x="274.5" y="99.5" width="26" height="26" fill="#8f1218"/>
<rect x="299.5" y="99.5" width="26" height="26" fill="#c02421"/>
<rect x="324.5" y="99.5" width="26" height="26" fill="#c02421"/>
<rect x="-25.5" y="124.5" width="26" height="26" fill="#f4c8b4"/>
<rect x="-0.5" y="124.5" width="26" height="26" fill="#f4c8b4"/>
<rect x="24.5" y="124.5" width="26" height="26" fill="#f4c8b4"/>
<rect x="49.5" y="124.5" width="26" height="26" fill="#f8ddd0"/>
<rect x="74.5" y="124.5" width="26" height="26" fill="#f8ddd0"/>
<rect x="99.5" y="124.5" width="26" height="26" fill="#f8ddd0"/>
<rect x="124.5" y="124.5" width="26" height="26" fill="#f8ddd0"/>
<rect x="149.5" y="124.5" width="26" height="26" fill="#f0aa90"/>
<rect x="174.5" y="124.5" width="26" height="26" fill="#f0aa90"/>
<rect x="199.5" y="124.5" width="26" height="26" fill="#ee8a6e"/>
<rect x="224.5" y="124.5" width="26" height="26" fill="#f0aa90"/>
<rect x="249.5" y="124.5" width="26" height="26" fill="#ee8a6e"/>
<rect x="274.5" y="124.5" width="26" height="26" fill="#ec6a50"/>
<rect x="299.5" y="124.5" width="26" height="26" fill="#e0402e"/>
<rect x="324.5" y="124.5" width="26" height="26" fill="#e0402e"/>
<rect x="-25.5" y="149.5" width="26" height="26" fill="#fbeee6"/>
<rect x="-0.5" y="149.5" width="26" height="26" fill="#fbeee6"/>
<rect x="24.5" y="149.5" width="26" height="26" fill="#f4c8b4"/>
<rect x="49.5" y="149.5" width="26" height="26" fill="#f4c8b4"/>
<rect x="74.5" y="149.5" width="26" height="26" fill="#f8ddd0"/>
<rect x="99.5" y="149.5" width="26" height="26" fill="#f8ddd0"/>
<rect x="124.5" y="149.5" width="26" height="26" fill="#f8ddd0"/>
<rect x="149.5" y="149.5" width="26" height="26" fill="#ee8a6e"/>
<rect x="174.5" y="149.5" width="26" height="26" fill="#ee8a6e"/>
<rect x="199.5" y="149.5" width="26" height="26" fill="#f0aa90"/>
<rect x="224.5" y="149.5" width="26" height="26" fill="#f0aa90"/>
<rect x="249.5" y="149.5" width="26" height="26" fill="#f0aa90"/>
<rect x="274.5" y="149.5" width="26" height="26" fill="#ec6a50"/>
<rect x="299.5" y="149.5" width="26" height="26" fill="#e0402e"/>
<rect x="324.5" y="149.5" width="26" height="26" fill="#e0402e"/>
<rect x="-25.5" y="174.5" width="26" height="26" fill="#fbeee6"/>
<rect x="-0.5" y="174.5" width="26" height="26" fill="#fbeee6"/>
<rect x="24.5" y="174.5" width="26" height="26" fill="#f4c8b4"/>
<rect x="49.5" y="174.5" width="26" height="26" fill="#f4c8b4"/>
<rect x="74.5" y="174.5" width="26" height="26" fill="#f4c8b4"/>
<rect x="99.5" y="174.5" width="26" height="26" fill="#f8ddd0"/>
<rect x="124.5" y="174.5" width="26" height="26" fill="#ee8a6e"/>
<rect x="149.5" y="174.5" width="26" height="26" fill="#f0aa90"/>
<rect x="174.5" y="174.5" width="26" height="26" fill="#f4c8b4"/>
<rect x="199.5" y="174.5" width="26" height="26" fill="#f4c8b4"/>
<rect x="224.5" y="174.5" width="26" height="26" fill="#f4c8b4"/>
<rect x="249.5" y="174.5" width="26" height="26" fill="#f8ddd0"/>
<rect x="274.5" y="174.5" width="26" height="26" fill="#f8ddd0"/>
<rect x="299.5" y="174.5" width="26" height="26" fill="#f8ddd0"/>
<rect x="324.5" y="174.5" width="26" height="26" fill="#f8ddd0"/>
<rect x="-25.5" y="199.5" width="26" height="26" fill="#fbeee6"/>
<rect x="-0.5" y="199.5" width="26" height="26" fill="#fbeee6"/>
<rect x="24.5" y="199.5" width="26" height="26" fill="#f8ddd0"/>
<rect x="49.5" y="199.5" width="26" height="26" fill="#f8ddd0"/>
<rect x="74.5" y="199.5" width="26" height="26" fill="#f8ddd0"/>
<rect x="99.5" y="199.5" width="26" height="26" fill="#f4c8b4"/>
<rect x="124.5" y="199.5" width="26" height="26" fill="#f4c8b4"/>
<rect x="149.5" y="199.5" width="26" height="26" fill="#f4c8b4"/>
<rect x="174.5" y="199.5" width="26" height="26" fill="#f4c8b4"/>
<rect x="199.5" y="199.5" width="26" height="26" fill="#f8ddd0"/>
<rect x="224.5" y="199.5" width="26" height="26" fill="#f8ddd0"/>
<rect x="249.5" y="199.5" width="26" height="26" fill="#f8ddd0"/>
<rect x="274.5" y="199.5" width="26" height="26" fill="#f8ddd0"/>
<rect x="299.5" y="199.5" width="26" height="26" fill="#f8ddd0"/>
<rect x="324.5" y="199.5" width="26" height="26" fill="#f8ddd0"/>
<rect x="-25.5" y="224.5" width="26" height="26" fill="#fbeee6"/>
<rect x="-0.5" y="224.5" width="26" height="26" fill="#fbeee6"/>
<rect x="24.5" y="224.5" width="26" height="26" fill="#f8ddd0"/>
<rect x="49.5" y="224.5" width="26" height="26" fill="#f8ddd0"/>
<rect x="74.5" y="224.5" width="26" height="26" fill="#f8ddd0"/>
<rect x="99.5" y="224.5" width="26" height="26" fill="#f4c8b4"/>
<rect x="124.5" y="224.5" width="26" height="26" fill="#f4c8b4"/>
<rect x="149.5" y="224.5" width="26" height="26" fill="#f4c8b4"/>
<rect x="174.5" y="224.5" width="26" height="26" fill="#f8ddd0"/>
<rect x="199.5" y="224.5" width="26" height="26" fill="#f8ddd0"/>
<rect x="224.5" y="224.5" width="26" height="26" fill="#fbeee6"/>
<rect x="249.5" y="224.5" width="26" height="26" fill="#fbeee6"/>
<rect x="274.5" y="224.5" width="26" height="26" fill="#f8ddd0"/>
<rect x="299.5" y="224.5" width="26" height="26" fill="#f8ddd0"/>
<rect x="324.5" y="224.5" width="26" height="26" fill="#f8ddd0"/>
<rect x="-25.5" y="249.5" width="26" height="26" fill="#fbeee6"/>
<rect x="-0.5" y="249.5" width="26" height="26" fill="#fbeee6"/>
<rect x="24.5" y="249.5" width="26" height="26" fill="#f8ddd0"/>
<rect x="49.5" y="249.5" width="26" height="26" fill="#f8ddd0"/>
<rect x="74.5" y="249.5" width="26" height="26" fill="#f8ddd0"/>
<rect x="99.5" y="249.5" width="26" height="26" fill="#f8ddd0"/>
<rect x="124.5" y="249.5" width="26" height="26" fill="#f8ddd0"/>
<rect x="149.5" y="249.5" width="26" height="26" fill="#f8ddd0"/>
<rect x="174.5" y="249.5" width="26" height="26" fill="#f8ddd0"/>
<rect x="199.5" y="249.5" width="26" height="26" fill="#fbeee6"/>
<rect x="224.5" y="249.5" width="26" height="26" fill="#fbeee6"/>
<rect x="249.5" y="249.5" width="26" height="26" fill="#fbeee6"/>
<rect x="274.5" y="249.5" width="26" height="26" fill="#f8ddd0"/>
<rect x="299.5" y="249.5" width="26" height="26" fill="#f8ddd0"/>
<rect x="324.5" y="249.5" width="26" height="26" fill="#f8ddd0"/>
<rect x="-25.5" y="274.5" width="26" height="26" fill="#fbeee6"/>
<rect x="-0.5" y="274.5" width="26" height="26" fill="#fbeee6"/>
<rect x="24.5" y="274.5" width="26" height="26" fill="#fbeee6"/>
<rect x="49.5" y="274.5" width="26" height="26" fill="#f8ddd0"/>
<rect x="74.5" y="274.5" width="26" height="26" fill="#f8ddd0"/>
<rect x="99.5" y="274.5" width="26" height="26" fill="#f8ddd0"/>
<rect x="124.5" y="274.5" width="26" height="26" fill="#f8ddd0"/>
<rect x="149.5" y="274.5" width="26" height="26" fill="#fbeee6"/>
<rect x="174.5" y="274.5" width="26" height="26" fill="#fbeee6"/>
<rect x="199.5" y="274.5" width="26" height="26" fill="#fbeee6"/>
<rect x="224.5" y="274.5" width="26" height="26" fill="#fbeee6"/>
<rect x="249.5" y="274.5" width="26" height="26" fill="#fbeee6"/>
<rect x="274.5" y="274.5" width="26" height="26" fill="#fbeee6"/>
<rect x="299.5" y="274.5" width="26" height="26" fill="#fbeee6"/>
<rect x="324.5" y="274.5" width="26" height="26" fill="#fbeee6"/>
<rect x="-25.5" y="299.5" width="26" height="26" fill="#fbeee6"/>
<rect x="-0.5" y="299.5" width="26" height="26" fill="#fbeee6"/>
<rect x="24.5" y="299.5" width="26" height="26" fill="#fbeee6"/>
<rect x="49.5" y="299.5" width="26" height="26" fill="#fbeee6"/>
<rect x="74.5" y="299.5" width="26" height="26" fill="#f8ddd0"/>
<rect x="99.5" y="299.5" width="26" height="26" fill="#f8ddd0"/>
<rect x="124.5" y="299.5" width="26" height="26" fill="#f8ddd0"/>
<rect x="149.5" y="299.5" width="26" height="26" fill="#fbeee6"/>
<rect x="174.5" y="299.5" width="26" height="26" fill="#fbeee6"/>
<rect x="199.5" y="299.5" width="26" height="26" fill="#fbeee6"/>
<rect x="224.5" y="299.5" width="26" height="26" fill="#fbeee6"/>
<rect x="249.5" y="299.5" width="26" height="26" fill="#fbeee6"/>
<rect x="274.5" y="299.5" width="26" height="26" fill="#fbeee6"/>
<rect x="299.5" y="299.5" width="26" height="26" fill="#fbeee6"/>
<rect x="324.5" y="299.5" width="26" height="26" fill="#fbeee6"/>
<rect x="-25.5" y="324.5" width="26" height="26" fill="#fbeee6"/>
<rect x="-0.5" y="324.5" width="26" height="26" fill="#fbeee6"/>
<rect x="24.5" y="324.5" width="26" height="26" fill="#fbeee6"/>
<rect x="49.5" y="324.5" width="26" height="26" fill="#fbeee6"/>
<rect x="74.5" y="324.5" width="26" height="26" fill="#fbeee6"/>
<rect x="99.5" y="324.5" width="26" height="26" fill="#f8ddd0"/>
<rect x="124.5" y="324.5" width="26" height="26" fill="#fbeee6"/>
<rect x="149.5" y="324.5" width="26" height="26" fill="#fbeee6"/>
<rect x="174.5" y="324.5" width="26" height="26" fill="#fbeee6"/>
<rect x="199.5" y="324.5" width="26" height="26" fill="#fbeee6"/>
<rect x="224.5" y="324.5" width="26" height="26" fill="#fbeee6"/>
<rect x="249.5" y="324.5" width="26" height="26" fill="#fbeee6"/>
<rect x="274.5" y="324.5" width="26" height="26" fill="#fbeee6"/>
<rect x="299.5" y="324.5" width="26" height="26" fill="#fbeee6"/>
<rect x="324.5" y="324.5" width="26" height="26" fill="#fbeee6"/>
<rect x="-25.5" y="349.5" width="26" height="26" fill="#fbeee6"/>
<rect x="-0.5" y="349.5" width="26" height="26" fill="#fbeee6"/>
<rect x="24.5" y="349.5" width="26" height="26" fill="#fbeee6"/>
<rect x="49.5" y="349.5" width="26" height="26" fill="#fbeee6"/>
<rect x="74.5" y="349.5" width="26" height="26" fill="#fbeee6"/>
<rect x="99.5" y="349.5" width="26" height="26" fill="#fbeee6"/>
<rect x="124.5" y="349.5" width="26" height="26" fill="#fbeee6"/>
<rect x="149.5" y="349.5" width="26" height="26" fill="#fbeee6"/>
<rect x="174.5" y="349.5" width="26" height="26" fill="#fbeee6"/>
<rect x="199.5" y="349.5" width="26" height="26" fill="#fbeee6"/>
<rect x="224.5" y="349.5" width="26" height="26" fill="#fbeee6"/>
<rect x="249.5" y="349.5" width="26" height="26" fill="#fbeee6"/>
<rect x="274.5" y="349.5" width="26" height="26" fill="#fbeee6"/>
<rect x="299.5" y="349.5" width="26" height="26" fill="#fbeee6"/>
<rect x="324.5" y="349.5" width="26" height="26" fill="#fbeee6"/>
<rect x="-25.5" y="374.5" width="26" height="26" fill="#fbeee6"/>
<rect x="-0.5" y="374.5" width="26" height="26" fill="#fbeee6"/>
<rect x="24.5" y="374.5" width="26" height="26" fill="#fbeee6"/>
<rect x="49.5" y="374.5" width="26" height="26" fill="#fbeee6"/>
<rect x="74.5" y="374.5" width="26" height="26" fill="#fbeee6"/>
<rect x="99.5" y="374.5" width="26" height="26" fill="#fbeee6"/>
<rect x="124.5" y="374.5" width="26" height="26" fill="#fbeee6"/>
<rect x="149.5" y="374.5" width="26" height="26" fill="#fbeee6"/>
<rect x="174.5" y="374.5" width="26" height="26" fill="#fbeee6"/>
<rect x="199.5" y="374.5" width="26" height="26" fill="#fbeee6"/>
<rect x="224.5" y="374.5" width="26" height="26" fill="#fbeee6"/>
<rect x="249.5" y="374.5" width="26" height="26" fill="#fbeee6"/>
<rect x="274.5" y="374.5" width="26" height="26" fill="#fbeee6"/>
<rect x="299.5" y="374.5" width="26" height="26" fill="#fbeee6"/>
<rect x="324.5" y="374.5" width="26" height="26" fill="#fbeee6"/>
<rect x="-25.5" y="399.5" width="26" height="26" fill="#fbeee6"/>
<rect x="-0.5" y="399.5" width="26" height="26" fill="#fbeee6"/>
<rect x="24.5" y="399.5" width="26" height="26" fill="#fbeee6"/>
<rect x="49.5" y="399.5" width="26" height="26" fill="#fbeee6"/>
<rect x="74.5" y="399.5" width="26" height="26" fill="#fbeee6"/>
<rect x="99.5" y="399.5" width="26" height="26" fill="#fbeee6"/>
<rect x="124.5" y="399.5" width="26" height="26" fill="#fbeee6"/>
<rect x="149.5" y="399.5" width="26" height="26" fill="#fbeee6"/>
<rect x="174.5" y="399.5" width="26" height="26" fill="#fbeee6"/>
<rect x="199.5" y="399.5" width="26" height="26" fill="#fbeee6"/>
<rect x="224.5" y="399.5" width="26" height="26" fill="#fbeee6"/>
<rect x="249.5" y="399.5" width="26" height="26" fill="#fbeee6"/>
<rect x="274.5" y="399.5" width="26" height="26" fill="#fbeee6"/>
<rect x="299.5" y="399.5" width="26" height="26" fill="#fbeee6"/>
<rect x="324.5" y="399.5" width="26" height="26" fill="#fbeee6"/>
</g>
<ellipse cx="282" cy="28" rx="24" ry="24" transform="rotate(0 282 28)" fill="#6b0a12" filter="url(#bl3)"/>
</g>
<ellipse cx="177.7" cy="162.3" rx="7.2" ry="5.2" fill="#7b8185"/>
<ellipse cx="193" cy="156" rx="6.5" ry="7.5" fill="#7b8185"/>
<ellipse cx="196" cy="172" rx="6.5" ry="9.5" fill="#7b8185"/>
<ellipse cx="206.9" cy="127.2" rx="5.8" ry="5.8" fill="#7b8185"/>
<ellipse cx="231.4" cy="148.4" rx="5.2" ry="4.7" fill="#7b8185"/>
<ellipse cx="180.3" cy="185.5" rx="7.2" ry="5.8" fill="#7b8185"/>
<ellipse cx="189" cy="202.6" rx="7.8" ry="7.2" fill="#7b8185"/>
<ellipse cx="209.5" cy="196.7" rx="7.2" ry="6.5" fill="#7b8185"/>
<ellipse cx="226.7" cy="198.1" rx="9.7" ry="7.8" fill="#7b8185"/>
<ellipse cx="240.7" cy="194.7" rx="6.5" ry="5.8" fill="#7b8185"/>
<ellipse cx="251.3" cy="186" rx="6.5" ry="6.5" fill="#7b8185"/>
<ellipse cx="146" cy="222" rx="6.5" ry="6.5" fill="#7b8185"/>
<ellipse cx="155" cy="228" rx="7.5" ry="7.5" fill="#7b8185"/>
<ellipse cx="149" cy="236" rx="6.5" ry="6.5" fill="#7b8185"/>
<ellipse cx="142.6" cy="249" rx="6.5" ry="5.8" fill="#7b8185"/>
<ellipse cx="267.7" cy="24.8" rx="5.8" ry="5.8" fill="#7b8185"/>
<ellipse cx="253.8" cy="42.1" rx="5.2" ry="5.8" fill="#7b8185"/>
<ellipse cx="241.8" cy="62.7" rx="5.2" ry="5.2" fill="#7b8185"/>
<ellipse cx="208.6" cy="126.6" rx="4" ry="4" fill="#7b8185"/>
<ellipse cx="38.5" cy="244" rx="6" ry="6" fill="#7b8185"/>
<ellipse cx="256" cy="141" rx="8" ry="9.5" fill="#7b8185"/>
<ellipse cx="92" cy="345" rx="6" ry="7" transform="rotate(0 92 345)" fill="#7b8185"/>
<ellipse cx="100" cy="355" rx="7" ry="8" transform="rotate(0 100 355)" fill="#7b8185"/>
<ellipse cx="92" cy="364" rx="6" ry="5" transform="rotate(0 92 364)" fill="#7b8185"/>
<ellipse cx="129" cy="362" rx="8" ry="6" transform="rotate(-30 129 362)" fill="#7b8185"/>
<ellipse cx="140.5" cy="348" rx="4" ry="11" transform="rotate(0 140.5 348)" fill="#7b8185"/>
<ellipse cx="151" cy="352" rx="4" ry="4.5" transform="rotate(0 151 352)" fill="#7b8185"/>
<ellipse cx="163" cy="354.5" rx="4.5" ry="5" transform="rotate(0 163 354.5)" fill="#7b8185"/>
<ellipse cx="175.5" cy="352.5" rx="3.5" ry="3" transform="rotate(0 175.5 352.5)" fill="#7b8185"/>
<ellipse cx="145" cy="365" rx="2.2" ry="2" transform="rotate(0 145 365)" fill="#7b8185"/>
<ellipse cx="142.7" cy="313" rx="4.5" ry="2.5" transform="rotate(-40 142.7 313)" fill="#7b8185"/>
<ellipse cx="148.3" cy="322.6" rx="4" ry="4" transform="rotate(0 148.3 322.6)" fill="#7b8185"/>
<ellipse cx="174" cy="327" rx="2.5" ry="1.8" transform="rotate(0 174 327)" fill="#7b8185"/>
<ellipse cx="70" cy="111.5" rx="13" ry="3" transform="rotate(-5 70 111.5)" fill="#7b8185"/>
<ellipse cx="141" cy="141" rx="14" ry="9" transform="rotate(-10 141 141)" fill="#7b8185"/>
<ellipse cx="128" cy="156" rx="5" ry="4" transform="rotate(0 128 156)" fill="#7b8185"/>
<ellipse cx="70" cy="235" rx="5" ry="5" transform="rotate(0 70 235)" fill="#7b8185"/>
<ellipse cx="88" cy="225" rx="4" ry="4" transform="rotate(0 88 225)" fill="#7b8185"/>
<ellipse cx="60" cy="245" rx="5" ry="3" transform="rotate(0 60 245)" fill="#7b8185"/>
<ellipse cx="30" cy="268" rx="5" ry="4" transform="rotate(0 30 268)" fill="#7b8185"/>
<ellipse cx="40" cy="288" rx="6" ry="5" transform="rotate(0 40 288)" fill="#7b8185"/>
<ellipse cx="33" cy="305" rx="4" ry="4" transform="rotate(0 33 305)" fill="#7b8185"/>
<ellipse cx="35" cy="332" rx="5" ry="5" transform="rotate(0 35 332)" fill="#7b8185"/>
<ellipse cx="35" cy="238" rx="3" ry="3" transform="rotate(0 35 238)" fill="#7b8185"/>
<ellipse cx="262" cy="131" rx="4" ry="6" transform="rotate(0 262 131)" fill="#7b8185"/>
<ellipse cx="255" cy="155" rx="4" ry="5" transform="rotate(0 255 155)" fill="#7b8185"/>
<ellipse cx="250" cy="178" rx="3.5" ry="3.5" transform="rotate(0 250 178)" fill="#7b8185"/>
<ellipse cx="236" cy="186" rx="3" ry="3" transform="rotate(0 236 186)" fill="#7b8185"/>
<ellipse cx="283" cy="233" rx="3" ry="5" transform="rotate(0 283 233)" fill="#7b8185"/>
<ellipse cx="279" cy="285" rx="3.5" ry="4" transform="rotate(0 279 285)" fill="#7b8185"/>
<ellipse cx="286" cy="178" rx="1.5" ry="5" transform="rotate(0 286 178)" fill="#7b8185"/>
<ellipse cx="178" cy="178" rx="2.5" ry="2.5" transform="rotate(0 178 178)" fill="#7b8185"/>
<ellipse cx="182" cy="165" rx="3" ry="3" transform="rotate(0 182 165)" fill="#7b8185"/>
<ellipse cx="195" cy="195" rx="4" ry="3" transform="rotate(0 195 195)" fill="#7b8185"/>
</g>
<rect x="797.7" y="952.2" width="303.0" height="375.0" fill="none" stroke="#000" stroke-width="1.5"/>
<text x="0" y="0" font-size="33" text-anchor="middle" transform="translate(796.7 1373.7) scale(1 1.040)">110</text>
<path d="M942.3 1327.2 v-4.5 M942.3 952.2 v4.5" stroke="#000" stroke-width="1.3"/>
<text x="0" y="0" font-size="33" text-anchor="middle" transform="translate(941.3 1373.7) scale(1 1.040)">115</text>
<path d="M1086.8 1327.2 v-4.5 M1086.8 952.2 v4.5" stroke="#000" stroke-width="1.3"/>
<text x="0" y="0" font-size="33" text-anchor="middle" transform="translate(1085.8 1373.7) scale(1 1.040)">120</text>
<path d="M797.7 1009.9 h4.5 M1100.7 1009.9 h-4.5" stroke="#000" stroke-width="1.3"/>
<text x="0" y="0" font-size="33" text-anchor="end" transform="translate(785.2 1021.9) scale(1 1.040)">20</text>
<path d="M797.7 1154.1 h4.5 M1100.7 1154.1 h-4.5" stroke="#000" stroke-width="1.3"/>
<text x="0" y="0" font-size="33" text-anchor="end" transform="translate(785.2 1166.1) scale(1 1.040)">15</text>
<path d="M797.7 1298.4 h4.5 M1100.7 1298.4 h-4.5" stroke="#000" stroke-width="1.3"/>
<text x="0" y="0" font-size="33" text-anchor="end" transform="translate(785.2 1310.4) scale(1 1.040)">10</text>
<text x="0" y="0" font-size="33" text-anchor="start" font-weight="bold" transform="translate(1057.7 1312.2) scale(1 1.000)">h</text>
<rect x="1143.8" y="952.2" width="44.2" height="375.0" fill="url(#cm_reds)" stroke="#000" stroke-width="1.5"/>
<text x="0" y="0" font-size="31" text-anchor="start" transform="translate(1201.0 1340.0) scale(1 1.040)">0</text>
<path d="M1188.0 1202.2 h-4" stroke="#000" stroke-width="1.2"/>
<text x="0" y="0" font-size="31" text-anchor="start" transform="translate(1201.0 1215.0) scale(1 1.040)">0.5</text>
<path d="M1188.0 1077.2 h-4" stroke="#000" stroke-width="1.2"/>
<text x="0" y="0" font-size="31" text-anchor="start" transform="translate(1201.0 1090.0) scale(1 1.040)">1</text>
<text x="0" y="0" font-size="31" text-anchor="start" transform="translate(1201.0 965.0) scale(1 1.040)">1.5</text>
<g transform="translate(1447.10 952.20) scale(0.9905 0.9968)">
<path d="M276.5 1.2 L291.0 1.2 L301.7 16.4 L305.5 32.0 L305.5 78.7 L300.0 82.0 L290.0 93.0 L281.0 105.0 L276.0 109.0 L271.0 111.0 L270.2 125.0 L269.5 140.0 L269.9 166.2 L271.2 199.3 L283.0 206.0 L283.0 216.5 L275.2 219.2 L285.8 227.1 L279.2 237.7 L289.7 241.7 L296.4 249.6 L296.4 258.9 L284.5 260.2 L271.2 258.9 L267.2 264.2 L264.6 269.5 L255.3 264.2 L244.7 266.9 L246.0 285.4 L236.8 292.0 L223.5 302.6 L215.6 292.0 L207.6 284.1 L194.4 285.4 L183.8 288.0 L174.5 294.7 L168.5 305.3 L166.6 318.5 L158.3 332.8 L153.0 315.9 L149.0 302.0 L139.1 296.1 L125.8 297.5 L116.6 302.8 L112.6 312.0 L111.3 325.3 L106.0 331.9 L84.8 338.5 L74.2 337.2 L63.6 345.1 L55.6 349.1 L42.4 355.7 L29.1 362.4 L23.8 372.9 L10.6 371.6 L6.6 358.4 L10.6 351.8 L26.5 338.5 L34.4 325.3 L37.1 312.0 L41.1 296.1 L46.4 282.9 L53.0 272.3 L57.0 265.7 L74.2 257.7 L92.7 255.1 L98.0 231.2 L84.8 229.9 L72.5 221.3 L82.1 208.7 L75.5 201.4 L78.2 197.2 L84.8 190.6 L91.4 186.6 L95.5 179.0 L97.0 172.0 L98.5 165.0 L102.0 158.0 L105.5 152.2 L109.9 141.6 L104.6 136.3 L104.6 129.6 L119.2 123.0 L112.6 117.7 L114.0 109.2 L92.0 109.2 L92.0 107.2 L117.0 107.2 L121.9 100.5 L128.5 93.9 L137.7 91.2 L152.0 91.9 L161.3 90.6 L160.0 76.0 L173.2 81.3 L181.1 88.0 L189.1 81.3 L198.4 76.0 L194.4 71.4 L205.0 68.1 L214.3 64.1 L215.6 60.1 L227.5 56.2 L228.8 50.9 L244.7 46.9 L252.7 44.2 L251.3 37.6 L247.4 35.0 L247.4 25.7 L254.0 16.4 L255.3 11.1 L268.6 8.5 L271.2 4.5 Z M125.0 139.0 L140.0 137.0 L154.0 138.0 L153.0 150.0 L155.0 160.0 L153.0 172.0 L145.0 182.0 L138.0 190.0 L132.0 195.0 L118.0 196.0 L105.0 193.0 L101.5 184.0 L103.0 172.0 L106.0 163.0 L112.0 157.0 L122.0 152.0 Z M31.8 228.6 L47.7 228.6 L50.3 241.8 L53.0 249.8 L51.7 259.0 L39.7 263.0 L29.1 268.3 L21.2 273.6 L14.6 276.3 L23.8 265.7 L26.5 257.7 L9.3 255.1 L9.3 244.5 L21.2 239.2 L31.8 237.0 Z M12.0 281.0 L25.0 279.0 L28.0 290.0 L31.8 300.0 L27.0 308.0 L15.0 307.0 L11.0 296.0 Z M25.0 310.0 L35.0 309.4 L35.8 318.7 L26.0 318.0 Z M305.5 88.0 L305.5 95.0 L298.0 103.0 L292.0 111.0 L292.0 122.0 L287.0 127.0 L285.0 145.0 L272.0 145.0 L272.0 127.0 L282.0 122.0 L276.0 117.0 L283.0 113.0 L290.0 100.0 Z M84.0 109.0 L88.0 108.5 L88.0 110.5 L84.0 111.0 Z M77.0 111.5 L80.0 111.0 L80.0 113.0 L77.0 113.5 Z M84.0 243.0 L90.0 246.0 L90.0 255.0 L82.0 254.0 Z M255.0 272.0 L262.0 270.0 L260.0 280.0 L254.0 283.0 Z M9.0 258.0 L26.0 256.0 L40.0 262.0 L53.0 262.0 L62.0 258.0 L74.2 257.7 L57.0 265.7 L53.0 272.3 L46.4 282.9 L41.1 296.1 L37.1 312.0 L34.4 325.3 L26.5 338.5 L10.6 351.8 L16.5 340.0 L24.5 327.0 L21.8 313.6 L12.5 304.4 L5.9 287.1 L7.2 269.9 Z" fill="none" stroke="#7b8185" stroke-width="8.5" stroke-linejoin="round"/>
<g clip-path="url(#gradclip)">
<rect x="-10" y="-10" width="330" height="400" fill="#d9edef"/>
<g filter="url(#gblur)">
<rect x="-25.5" y="-25.5" width="26" height="26" fill="#ecefc4"/>
<rect x="-0.5" y="-25.5" width="26" height="26" fill="#ecefc4"/>
<rect x="24.5" y="-25.5" width="26" height="26" fill="#ecefc4"/>
<rect x="49.5" y="-25.5" width="26" height="26" fill="#ecefc4"/>
<rect x="74.5" y="-25.5" width="26" height="26" fill="#ecefc4"/>
<rect x="99.5" y="-25.5" width="26" height="26" fill="#def3f3"/>
<rect x="124.5" y="-25.5" width="26" height="26" fill="#def3f3"/>
<rect x="149.5" y="-25.5" width="26" height="26" fill="#eeaa63"/>
<rect x="174.5" y="-25.5" width="26" height="26" fill="#eb6a46"/>
<rect x="199.5" y="-25.5" width="26" height="26" fill="#4158a6"/>
<rect x="224.5" y="-25.5" width="26" height="26" fill="#4158a6"/>
<rect x="249.5" y="-25.5" width="26" height="26" fill="#4158a6"/>
<rect x="274.5" y="-25.5" width="26" height="26" fill="#b01c2c"/>
<rect x="299.5" y="-25.5" width="26" height="26" fill="#b01c2c"/>
<rect x="324.5" y="-25.5" width="26" height="26" fill="#b01c2c"/>
<rect x="-25.5" y="-0.5" width="26" height="26" fill="#ecefc4"/>
<rect x="-0.5" y="-0.5" width="26" height="26" fill="#ecefc4"/>
<rect x="24.5" y="-0.5" width="26" height="26" fill="#ecefc4"/>
<rect x="49.5" y="-0.5" width="26" height="26" fill="#ecefc4"/>
<rect x="74.5" y="-0.5" width="26" height="26" fill="#ecefc4"/>
<rect x="99.5" y="-0.5" width="26" height="26" fill="#def3f3"/>
<rect x="124.5" y="-0.5" width="26" height="26" fill="#def3f3"/>
<rect x="149.5" y="-0.5" width="26" height="26" fill="#eeaa63"/>
<rect x="174.5" y="-0.5" width="26" height="26" fill="#eb6a46"/>
<rect x="199.5" y="-0.5" width="26" height="26" fill="#4158a6"/>
<rect x="224.5" y="-0.5" width="26" height="26" fill="#4158a6"/>
<rect x="249.5" y="-0.5" width="26" height="26" fill="#4158a6"/>
<rect x="274.5" y="-0.5" width="26" height="26" fill="#b01c2c"/>
<rect x="299.5" y="-0.5" width="26" height="26" fill="#b01c2c"/>
<rect x="324.5" y="-0.5" width="26" height="26" fill="#b01c2c"/>
<rect x="-25.5" y="24.5" width="26" height="26" fill="#ecefc4"/>
<rect x="-0.5" y="24.5" width="26" height="26" fill="#ecefc4"/>
<rect x="24.5" y="24.5" width="26" height="26" fill="#ecefc4"/>
<rect x="49.5" y="24.5" width="26" height="26" fill="#ecefc4"/>
<rect x="74.5" y="24.5" width="26" height="26" fill="#ecefc4"/>
<rect x="99.5" y="24.5" width="26" height="26" fill="#def3f3"/>
<rect x="124.5" y="24.5" width="26" height="26" fill="#def3f3"/>
<rect x="149.5" y="24.5" width="26" height="26" fill="#eeaa63"/>
<rect x="174.5" y="24.5" width="26" height="26" fill="#eeaa63"/>
<rect x="199.5" y="24.5" width="26" height="26" fill="#eb6a46"/>
<rect x="224.5" y="24.5" width="26" height="26" fill="#4158a6"/>
<rect x="249.5" y="24.5" width="26" height="26" fill="#4158a6"/>
<rect x="274.5" y="24.5" width="26" height="26" fill="#b01c2c"/>
<rect x="299.5" y="24.5" width="26" height="26" fill="#d22f2a"/>
<rect x="324.5" y="24.5" width="26" height="26" fill="#d22f2a"/>
<rect x="-25.5" y="49.5" width="26" height="26" fill="#ecefc4"/>
<rect x="-0.5" y="49.5" width="26" height="26" fill="#ecefc4"/>
<rect x="24.5" y="49.5" width="26" height="26" fill="#ecefc4"/>
<rect x="49.5" y="49.5" width="26" height="26" fill="#ecefc4"/>
<rect x="74.5" y="49.5" width="26" height="26" fill="#ecefc4"/>
<rect x="99.5" y="49.5" width="26" height="26" fill="#def3f3"/>
<rect x="124.5" y="49.5" width="26" height="26" fill="#def3f3"/>
<rect x="149.5" y="49.5" width="26" height="26" fill="#eeaa63"/>
<rect x="174.5" y="49.5" width="26" height="26" fill="#eeaa63"/>
<rect x="199.5" y="49.5" width="26" height="26" fill="#eb6a46"/>
<rect x="224.5" y="49.5" width="26" height="26" fill="#eb6a46"/>
<rect x="249.5" y="49.5" width="26" height="26" fill="#e14b35"/>
<rect x="274.5" y="49.5" width="26" height="26" fill="#b01c2c"/>
<rect x="299.5" y="49.5" width="26" height="26" fill="#b01c2c"/>
<rect x="324.5" y="49.5" width="26" height="26" fill="#b01c2c"/>
<rect x="-25.5" y="74.5" width="26" height="26" fill="#ecefc4"/>
<rect x="-0.5" y="74.5" width="26" height="26" fill="#ecefc4"/>
<rect x="24.5" y="74.5" width="26" height="26" fill="#ecefc4"/>
<rect x="49.5" y="74.5" width="26" height="26" fill="#ecefc4"/>
<rect x="74.5" y="74.5" width="26" height="26" fill="#ecefc4"/>
<rect x="99.5" y="74.5" width="26" height="26" fill="#def3f3"/>
<rect x="124.5" y="74.5" width="26" height="26" fill="#def3f3"/>
<rect x="149.5" y="74.5" width="26" height="26" fill="#eeaa63"/>
<rect x="174.5" y="74.5" width="26" height="26" fill="#eeaa63"/>
<rect x="199.5" y="74.5" width="26" height="26" fill="#ec9357"/>
<rect x="224.5" y="74.5" width="26" height="26" fill="#eeaa63"/>
<rect x="249.5" y="74.5" width="26" height="26" fill="#d22f2a"/>
<rect x="274.5" y="74.5" width="26" height="26" fill="#b01c2c"/>
<rect x="299.5" y="74.5" width="26" height="26" fill="#d22f2a"/>
<rect x="324.5" y="74.5" width="26" height="26" fill="#d22f2a"/>
<rect x="-25.5" y="99.5" width="26" height="26" fill="#ecefc4"/>
<rect x="-0.5" y="99.5" width="26" height="26" fill="#ecefc4"/>
<rect x="24.5" y="99.5" width="26" height="26" fill="#ecefc4"/>
<rect x="49.5" y="99.5" width="26" height="26" fill="#ecefc4"/>
<rect x="74.5" y="99.5" width="26" height="26" fill="#ecefc4"/>
<rect x="99.5" y="99.5" width="26" height="26" fill="#def3f3"/>
<rect x="124.5" y="99.5" width="26" height="26" fill="#ecefc4"/>
<rect x="149.5" y="99.5" width="26" height="26" fill="#7cb0d3"/>
<rect x="174.5" y="99.5" width="26" height="26" fill="#9ccee0"/>
<rect x="199.5" y="99.5" width="26" height="26" fill="#b5e0ea"/>
<rect x="224.5" y="99.5" width="26" height="26" fill="#7cb0d3"/>
<rect x="249.5" y="99.5" width="26" height="26" fill="#e14b35"/>
<rect x="274.5" y="99.5" width="26" height="26" fill="#b01c2c"/>
<rect x="299.5" y="99.5" width="26" height="26" fill="#d22f2a"/>
<rect x="324.5" y="99.5" width="26" height="26" fill="#d22f2a"/>
<rect x="-25.5" y="124.5" width="26" height="26" fill="#ecefc4"/>
<rect x="-0.5" y="124.5" width="26" height="26" fill="#ecefc4"/>
<rect x="24.5" y="124.5" width="26" height="26" fill="#ecefc4"/>
<rect x="49.5" y="124.5" width="26" height="26" fill="#efe08b"/>
<rect x="74.5" y="124.5" width="26" height="26" fill="#efe08b"/>
<rect x="99.5" y="124.5" width="26" height="26" fill="#efe08b"/>
<rect x="124.5" y="124.5" width="26" height="26" fill="#cdedef"/>
<rect x="149.5" y="124.5" width="26" height="26" fill="#5e93c3"/>
<rect x="174.5" y="124.5" width="26" height="26" fill="#ec9357"/>
<rect x="199.5" y="124.5" width="26" height="26" fill="#eeaa63"/>
<rect x="224.5" y="124.5" width="26" height="26" fill="#5e93c3"/>
<rect x="249.5" y="124.5" width="26" height="26" fill="#eb6a46"/>
<rect x="274.5" y="124.5" width="26" height="26" fill="#d22f2a"/>
<rect x="299.5" y="124.5" width="26" height="26" fill="#d22f2a"/>
<rect x="324.5" y="124.5" width="26" height="26" fill="#d22f2a"/>
<rect x="-25.5" y="149.5" width="26" height="26" fill="#efc878"/>
<rect x="-0.5" y="149.5" width="26" height="26" fill="#efc878"/>
<rect x="24.5" y="149.5" width="26" height="26" fill="#efc878"/>
<rect x="49.5" y="149.5" width="26" height="26" fill="#efc878"/>
<rect x="74.5" y="149.5" width="26" height="26" fill="#efe08b"/>
<rect x="99.5" y="149.5" width="26" height="26" fill="#efe08b"/>
<rect x="124.5" y="149.5" width="26" height="26" fill="#cdedef"/>
<rect x="149.5" y="149.5" width="26" height="26" fill="#5e93c3"/>
<rect x="174.5" y="149.5" width="26" height="26" fill="#ecefc4"/>
<rect x="199.5" y="149.5" width="26" height="26" fill="#ec9357"/>
<rect x="224.5" y="149.5" width="26" height="26" fill="#ecefc4"/>
<rect x="249.5" y="149.5" width="26" height="26" fill="#ec9357"/>
<rect x="274.5" y="149.5" width="26" height="26" fill="#d22f2a"/>
<rect x="299.5" y="149.5" width="26" height="26" fill="#d22f2a"/>
<rect x="324.5" y="149.5" width="26" height="26" fill="#d22f2a"/>
<rect x="-25.5" y="174.5" width="26" height="26" fill="#efc878"/>
<rect x="-0.5" y="174.5" width="26" height="26" fill="#efc878"/>
<rect x="24.5" y="174.5" width="26" height="26" fill="#efc878"/>
<rect x="49.5" y="174.5" width="26" height="26" fill="#efc878"/>
<rect x="74.5" y="174.5" width="26" height="26" fill="#efc878"/>
<rect x="99.5" y="174.5" width="26" height="26" fill="#efe08b"/>
<rect x="124.5" y="174.5" width="26" height="26" fill="#7cb0d3"/>
<rect x="149.5" y="174.5" width="26" height="26" fill="#ecefc4"/>
<rect x="174.5" y="174.5" width="26" height="26" fill="#efe08b"/>
<rect x="199.5" y="174.5" width="26" height="26" fill="#eb6a46"/>
<rect x="224.5" y="174.5" width="26" height="26" fill="#ecefc4"/>
<rect x="249.5" y="174.5" width="26" height="26" fill="#cdedef"/>
<rect x="274.5" y="174.5" width="26" height="26" fill="#cdedef"/>
<rect x="299.5" y="174.5" width="26" height="26" fill="#cdedef"/>
<rect x="324.5" y="174.5" width="26" height="26" fill="#cdedef"/>
<rect x="-25.5" y="199.5" width="26" height="26" fill="#efc878"/>
<rect x="-0.5" y="199.5" width="26" height="26" fill="#efc878"/>
<rect x="24.5" y="199.5" width="26" height="26" fill="#eeaa63"/>
<rect x="49.5" y="199.5" width="26" height="26" fill="#ecefc4"/>
<rect x="74.5" y="199.5" width="26" height="26" fill="#ecefc4"/>
<rect x="99.5" y="199.5" width="26" height="26" fill="#7cb0d3"/>
<rect x="124.5" y="199.5" width="26" height="26" fill="#7cb0d3"/>
<rect x="149.5" y="199.5" width="26" height="26" fill="#ecefc4"/>
<rect x="174.5" y="199.5" width="26" height="26" fill="#efe08b"/>
<rect x="199.5" y="199.5" width="26" height="26" fill="#efe08b"/>
<rect x="224.5" y="199.5" width="26" height="26" fill="#efe08b"/>
<rect x="249.5" y="199.5" width="26" height="26" fill="#ecefc4"/>
<rect x="274.5" y="199.5" width="26" height="26" fill="#ecefc4"/>
<rect x="299.5" y="199.5" width="26" height="26" fill="#ecefc4"/>
<rect x="324.5" y="199.5" width="26" height="26" fill="#ecefc4"/>
<rect x="-25.5" y="224.5" width="26" height="26" fill="#efc878"/>
<rect x="-0.5" y="224.5" width="26" height="26" fill="#efc878"/>
<rect x="24.5" y="224.5" width="26" height="26" fill="#eeaa63"/>
<rect x="49.5" y="224.5" width="26" height="26" fill="#eeaa63"/>
<rect x="74.5" y="224.5" width="26" height="26" fill="#9ccee0"/>
<rect x="99.5" y="224.5" width="26" height="26" fill="#7cb0d3"/>
<rect x="124.5" y="224.5" width="26" height="26" fill="#b5e0ea"/>
<rect x="149.5" y="224.5" width="26" height="26" fill="#def3f3"/>
<rect x="174.5" y="224.5" width="26" height="26" fill="#ecefc4"/>
<rect x="199.5" y="224.5" width="26" height="26" fill="#efe08b"/>
<rect x="224.5" y="224.5" width="26" height="26" fill="#ecefc4"/>
<rect x="249.5" y="224.5" width="26" height="26" fill="#def3f3"/>
<rect x="274.5" y="224.5" width="26" height="26" fill="#ecefc4"/>
<rect x="299.5" y="224.5" width="26" height="26" fill="#ecefc4"/>
<rect x="324.5" y="224.5" width="26" height="26" fill="#ecefc4"/>
<rect x="-25.5" y="249.5" width="26" height="26" fill="#def3f3"/>
<rect x="-0.5" y="249.5" width="26" height="26" fill="#def3f3"/>
<rect x="24.5" y="249.5" width="26" height="26" fill="#def3f3"/>
<rect x="49.5" y="249.5" width="26" height="26" fill="#def3f3"/>
<rect x="74.5" y="249.5" width="26" height="26" fill="#cdedef"/>
<rect x="99.5" y="249.5" width="26" height="26" fill="#b5e0ea"/>
<rect x="124.5" y="249.5" width="26" height="26" fill="#def3f3"/>
<rect x="149.5" y="249.5" width="26" height="26" fill="#ecefc4"/>
<rect x="174.5" y="249.5" width="26" height="26" fill="#def3f3"/>
<rect x="199.5" y="249.5" width="26" height="26" fill="#cdedef"/>
<rect x="224.5" y="249.5" width="26" height="26" fill="#def3f3"/>
<rect x="249.5" y="249.5" width="26" height="26" fill="#def3f3"/>
<rect x="274.5" y="249.5" width="26" height="26" fill="#ecefc4"/>
<rect x="299.5" y="249.5" width="26" height="26" fill="#ecefc4"/>
<rect x="324.5" y="249.5" width="26" height="26" fill="#ecefc4"/>
<rect x="-25.5" y="274.5" width="26" height="26" fill="#def3f3"/>
<rect x="-0.5" y="274.5" width="26" height="26" fill="#def3f3"/>
<rect x="24.5" y="274.5" width="26" height="26" fill="#def3f3"/>
<rect x="49.5" y="274.5" width="26" height="26" fill="#def3f3"/>
<rect x="74.5" y="274.5" width="26" height="26" fill="#def3f3"/>
<rect x="99.5" y="274.5" width="26" height="26" fill="#def3f3"/>
<rect x="124.5" y="274.5" width="26" height="26" fill="#ecefc4"/>
<rect x="149.5" y="274.5" width="26" height="26" fill="#def3f3"/>
<rect x="174.5" y="274.5" width="26" height="26" fill="#cdedef"/>
<rect x="199.5" y="274.5" width="26" height="26" fill="#cdedef"/>
<rect x="224.5" y="274.5" width="26" height="26" fill="#ecefc4"/>
<rect x="249.5" y="274.5" width="26" height="26" fill="#def3f3"/>
<rect x="274.5" y="274.5" width="26" height="26" fill="#def3f3"/>
<rect x="299.5" y="274.5" width="26" height="26" fill="#ecefc4"/>
<rect x="324.5" y="274.5" width="26" height="26" fill="#ecefc4"/>
<rect x="-25.5" y="299.5" width="26" height="26" fill="#def3f3"/>
<rect x="-0.5" y="299.5" width="26" height="26" fill="#def3f3"/>
<rect x="24.5" y="299.5" width="26" height="26" fill="#ecefc4"/>
<rect x="49.5" y="299.5" width="26" height="26" fill="#def3f3"/>
<rect x="74.5" y="299.5" width="26" height="26" fill="#def3f3"/>
<rect x="99.5" y="299.5" width="26" height="26" fill="#def3f3"/>
<rect x="124.5" y="299.5" width="26" height="26" fill="#ecefc4"/>
<rect x="149.5" y="299.5" width="26" height="26" fill="#efe08b"/>
<rect x="174.5" y="299.5" width="26" height="26" fill="#cdedef"/>
<rect x="199.5" y="299.5" width="26" height="26" fill="#cdedef"/>
<rect x="224.5" y="299.5" width="26" height="26" fill="#ecefc4"/>
<rect x="249.5" y="299.5" width="26" height="26" fill="#ecefc4"/>
<rect x="274.5" y="299.5" width="26" height="26" fill="#def3f3"/>
<rect x="299.5" y="299.5" width="26" height="26" fill="#def3f3"/>
<rect x="324.5" y="299.5" width="26" height="26" fill="#def3f3"/>
<rect x="-25.5" y="324.5" width="26" height="26" fill="#def3f3"/>
<rect x="-0.5" y="324.5" width="26" height="26" fill="#def3f3"/>
<rect x="24.5" y="324.5" width="26" height="26" fill="#def3f3"/>
<rect x="49.5" y="324.5" width="26" height="26" fill="#def3f3"/>
<rect x="74.5" y="324.5" width="26" height="26" fill="#efe08b"/>
<rect x="99.5" y="324.5" width="26" height="26" fill="#def3f3"/>
<rect x="124.5" y="324.5" width="26" height="26" fill="#def3f3"/>
<rect x="149.5" y="324.5" width="26" height="26" fill="#efe08b"/>
<rect x="174.5" y="324.5" width="26" height="26" fill="#efe08b"/>
<rect x="199.5" y="324.5" width="26" height="26" fill="#cdedef"/>
<rect x="224.5" y="324.5" width="26" height="26" fill="#ecefc4"/>
<rect x="249.5" y="324.5" width="26" height="26" fill="#ecefc4"/>
<rect x="274.5" y="324.5" width="26" height="26" fill="#ecefc4"/>
<rect x="299.5" y="324.5" width="26" height="26" fill="#def3f3"/>
<rect x="324.5" y="324.5" width="26" height="26" fill="#def3f3"/>
<rect x="-25.5" y="349.5" width="26" height="26" fill="#ecefc4"/>
<rect x="-0.5" y="349.5" width="26" height="26" fill="#ecefc4"/>
<rect x="24.5" y="349.5" width="26" height="26" fill="#def3f3"/>
<rect x="49.5" y="349.5" width="26" height="26" fill="#def3f3"/>
<rect x="74.5" y="349.5" width="26" height="26" fill="#efe08b"/>
<rect x="99.5" y="349.5" width="26" height="26" fill="#efe08b"/>
<rect x="124.5" y="349.5" width="26" height="26" fill="#def3f3"/>
<rect x="149.5" y="349.5" width="26" height="26" fill="#efe08b"/>
<rect x="174.5" y="349.5" width="26" height="26" fill="#efe08b"/>
<rect x="199.5" y="349.5" width="26" height="26" fill="#efe08b"/>
<rect x="224.5" y="349.5" width="26" height="26" fill="#ecefc4"/>
<rect x="249.5" y="349.5" width="26" height="26" fill="#ecefc4"/>
<rect x="274.5" y="349.5" width="26" height="26" fill="#ecefc4"/>
<rect x="299.5" y="349.5" width="26" height="26" fill="#ecefc4"/>
<rect x="324.5" y="349.5" width="26" height="26" fill="#ecefc4"/>
<rect x="-25.5" y="374.5" width="26" height="26" fill="#ecefc4"/>
<rect x="-0.5" y="374.5" width="26" height="26" fill="#ecefc4"/>
<rect x="24.5" y="374.5" width="26" height="26" fill="#def3f3"/>
<rect x="49.5" y="374.5" width="26" height="26" fill="#def3f3"/>
<rect x="74.5" y="374.5" width="26" height="26" fill="#efe08b"/>
<rect x="99.5" y="374.5" width="26" height="26" fill="#efe08b"/>
<rect x="124.5" y="374.5" width="26" height="26" fill="#efe08b"/>
<rect x="149.5" y="374.5" width="26" height="26" fill="#efe08b"/>
<rect x="174.5" y="374.5" width="26" height="26" fill="#efe08b"/>
<rect x="199.5" y="374.5" width="26" height="26" fill="#efe08b"/>
<rect x="224.5" y="374.5" width="26" height="26" fill="#ecefc4"/>
<rect x="249.5" y="374.5" width="26" height="26" fill="#ecefc4"/>
<rect x="274.5" y="374.5" width="26" height="26" fill="#ecefc4"/>
<rect x="299.5" y="374.5" width="26" height="26" fill="#ecefc4"/>
<rect x="324.5" y="374.5" width="26" height="26" fill="#ecefc4"/>
<rect x="-25.5" y="399.5" width="26" height="26" fill="#ecefc4"/>
<rect x="-0.5" y="399.5" width="26" height="26" fill="#ecefc4"/>
<rect x="24.5" y="399.5" width="26" height="26" fill="#def3f3"/>
<rect x="49.5" y="399.5" width="26" height="26" fill="#def3f3"/>
<rect x="74.5" y="399.5" width="26" height="26" fill="#efe08b"/>
<rect x="99.5" y="399.5" width="26" height="26" fill="#efe08b"/>
<rect x="124.5" y="399.5" width="26" height="26" fill="#efe08b"/>
<rect x="149.5" y="399.5" width="26" height="26" fill="#efe08b"/>
<rect x="174.5" y="399.5" width="26" height="26" fill="#efe08b"/>
<rect x="199.5" y="399.5" width="26" height="26" fill="#efe08b"/>
<rect x="224.5" y="399.5" width="26" height="26" fill="#ecefc4"/>
<rect x="249.5" y="399.5" width="26" height="26" fill="#ecefc4"/>
<rect x="274.5" y="399.5" width="26" height="26" fill="#ecefc4"/>
<rect x="299.5" y="399.5" width="26" height="26" fill="#ecefc4"/>
<rect x="324.5" y="399.5" width="26" height="26" fill="#ecefc4"/>
</g>
<ellipse cx="266" cy="24" rx="17" ry="13" transform="rotate(0 266 24)" fill="#3b46a0" filter="url(#bl2)"/>
<ellipse cx="292" cy="60" rx="12" ry="35" transform="rotate(0 292 60)" fill="#b01c2c" filter="url(#bl3)"/>
<ellipse cx="150" cy="165" rx="5" ry="28" transform="rotate(12 150 165)" fill="#3a4aa8" filter="url(#bl2)"/>
<ellipse cx="172" cy="146" rx="18" ry="4" transform="rotate(-30 172 146)" fill="#3a4aa8" filter="url(#bl2)"/>
<ellipse cx="153" cy="185" rx="7" ry="4" transform="rotate(-40 153 185)" fill="#3a4aa8" filter="url(#bl2)"/>
<ellipse cx="228" cy="123" rx="14" ry="4" transform="rotate(10 228 123)" fill="#3a4aa8" filter="url(#bl2)"/>
<ellipse cx="240" cy="138" rx="8" ry="4" transform="rotate(40 240 138)" fill="#3a4aa8" filter="url(#bl2)"/>
<ellipse cx="182" cy="101" rx="16" ry="4" transform="rotate(-5 182 101)" fill="#5a78c0" filter="url(#bl2)"/>
<ellipse cx="240" cy="167" rx="5" ry="3" transform="rotate(0 240 167)" fill="#3a4aa8" filter="url(#bl2)"/>
<ellipse cx="166" cy="130" rx="14" ry="3.5" transform="rotate(-20 166 130)" fill="#e0502e" filter="url(#bl2)"/>
<ellipse cx="212" cy="140" rx="14" ry="5" transform="rotate(10 212 140)" fill="#d8402c" filter="url(#bl2)"/>
<ellipse cx="208" cy="176" rx="11" ry="4" transform="rotate(0 208 176)" fill="#e2603a" filter="url(#bl2)"/>
<ellipse cx="265" cy="147" rx="7" ry="9" transform="rotate(0 265 147)" fill="#c8302a" filter="url(#bl2)"/>
<ellipse cx="128" cy="215" rx="10" ry="25" transform="rotate(30 128 215)" fill="#6f9ccc" filter="url(#bl6)"/>
</g>
<ellipse cx="177.7" cy="162.3" rx="7.2" ry="5.2" fill="#7b8185"/>
<ellipse cx="193" cy="156" rx="6.5" ry="7.5" fill="#7b8185"/>
<ellipse cx="196" cy="172" rx="6.5" ry="9.5" fill="#7b8185"/>
<ellipse cx="206.9" cy="127.2" rx="5.8" ry="5.8" fill="#7b8185"/>
<ellipse cx="231.4" cy="148.4" rx="5.2" ry="4.7" fill="#7b8185"/>
<ellipse cx="180.3" cy="185.5" rx="7.2" ry="5.8" fill="#7b8185"/>
<ellipse cx="189" cy="202.6" rx="7.8" ry="7.2" fill="#7b8185"/>
<ellipse cx="209.5" cy="196.7" rx="7.2" ry="6.5" fill="#7b8185"/>
<ellipse cx="226.7" cy="198.1" rx="9.7" ry="7.8" fill="#7b8185"/>
<ellipse cx="240.7" cy="194.7" rx="6.5" ry="5.8" fill="#7b8185"/>
<ellipse cx="251.3" cy="186" rx="6.5" ry="6.5" fill="#7b8185"/>
<ellipse cx="146" cy="222" rx="6.5" ry="6.5" fill="#7b8185"/>
<ellipse cx="155" cy="228" rx="7.5" ry="7.5" fill="#7b8185"/>
<ellipse cx="149" cy="236" rx="6.5" ry="6.5" fill="#7b8185"/>
<ellipse cx="142.6" cy="249" rx="6.5" ry="5.8" fill="#7b8185"/>
<ellipse cx="267.7" cy="24.8" rx="5.8" ry="5.8" fill="#7b8185"/>
<ellipse cx="253.8" cy="42.1" rx="5.2" ry="5.8" fill="#7b8185"/>
<ellipse cx="241.8" cy="62.7" rx="5.2" ry="5.2" fill="#7b8185"/>
<ellipse cx="208.6" cy="126.6" rx="4" ry="4" fill="#7b8185"/>
<ellipse cx="38.5" cy="244" rx="6" ry="6" fill="#7b8185"/>
<ellipse cx="256" cy="141" rx="8" ry="9.5" fill="#7b8185"/>
<ellipse cx="92" cy="345" rx="6" ry="7" transform="rotate(0 92 345)" fill="#7b8185"/>
<ellipse cx="100" cy="355" rx="7" ry="8" transform="rotate(0 100 355)" fill="#7b8185"/>
<ellipse cx="92" cy="364" rx="6" ry="5" transform="rotate(0 92 364)" fill="#7b8185"/>
<ellipse cx="129" cy="362" rx="8" ry="6" transform="rotate(-30 129 362)" fill="#7b8185"/>
<ellipse cx="140.5" cy="348" rx="4" ry="11" transform="rotate(0 140.5 348)" fill="#7b8185"/>
<ellipse cx="151" cy="352" rx="4" ry="4.5" transform="rotate(0 151 352)" fill="#7b8185"/>
<ellipse cx="163" cy="354.5" rx="4.5" ry="5" transform="rotate(0 163 354.5)" fill="#7b8185"/>
<ellipse cx="175.5" cy="352.5" rx="3.5" ry="3" transform="rotate(0 175.5 352.5)" fill="#7b8185"/>
<ellipse cx="145" cy="365" rx="2.2" ry="2" transform="rotate(0 145 365)" fill="#7b8185"/>
<ellipse cx="142.7" cy="313" rx="4.5" ry="2.5" transform="rotate(-40 142.7 313)" fill="#7b8185"/>
<ellipse cx="148.3" cy="322.6" rx="4" ry="4" transform="rotate(0 148.3 322.6)" fill="#7b8185"/>
<ellipse cx="174" cy="327" rx="2.5" ry="1.8" transform="rotate(0 174 327)" fill="#7b8185"/>
<ellipse cx="70" cy="111.5" rx="13" ry="3" transform="rotate(-5 70 111.5)" fill="#7b8185"/>
<ellipse cx="141" cy="141" rx="14" ry="9" transform="rotate(-10 141 141)" fill="#7b8185"/>
<ellipse cx="128" cy="156" rx="5" ry="4" transform="rotate(0 128 156)" fill="#7b8185"/>
<ellipse cx="70" cy="235" rx="5" ry="5" transform="rotate(0 70 235)" fill="#7b8185"/>
<ellipse cx="88" cy="225" rx="4" ry="4" transform="rotate(0 88 225)" fill="#7b8185"/>
<ellipse cx="60" cy="245" rx="5" ry="3" transform="rotate(0 60 245)" fill="#7b8185"/>
<ellipse cx="30" cy="268" rx="5" ry="4" transform="rotate(0 30 268)" fill="#7b8185"/>
<ellipse cx="40" cy="288" rx="6" ry="5" transform="rotate(0 40 288)" fill="#7b8185"/>
<ellipse cx="33" cy="305" rx="4" ry="4" transform="rotate(0 33 305)" fill="#7b8185"/>
<ellipse cx="35" cy="332" rx="5" ry="5" transform="rotate(0 35 332)" fill="#7b8185"/>
<ellipse cx="35" cy="238" rx="3" ry="3" transform="rotate(0 35 238)" fill="#7b8185"/>
<ellipse cx="262" cy="131" rx="4" ry="6" transform="rotate(0 262 131)" fill="#7b8185"/>
<ellipse cx="255" cy="155" rx="4" ry="5" transform="rotate(0 255 155)" fill="#7b8185"/>
<ellipse cx="250" cy="178" rx="3.5" ry="3.5" transform="rotate(0 250 178)" fill="#7b8185"/>
<ellipse cx="236" cy="186" rx="3" ry="3" transform="rotate(0 236 186)" fill="#7b8185"/>
<ellipse cx="283" cy="233" rx="3" ry="5" transform="rotate(0 283 233)" fill="#7b8185"/>
<ellipse cx="279" cy="285" rx="3.5" ry="4" transform="rotate(0 279 285)" fill="#7b8185"/>
<ellipse cx="286" cy="178" rx="1.5" ry="5" transform="rotate(0 286 178)" fill="#7b8185"/>
<ellipse cx="178" cy="178" rx="2.5" ry="2.5" transform="rotate(0 178 178)" fill="#7b8185"/>
<ellipse cx="182" cy="165" rx="3" ry="3" transform="rotate(0 182 165)" fill="#7b8185"/>
<ellipse cx="195" cy="195" rx="4" ry="3" transform="rotate(0 195 195)" fill="#7b8185"/>
</g>
<rect x="1447.1" y="952.2" width="302.6" height="375.0" fill="none" stroke="#000" stroke-width="1.5"/>
<text x="0" y="0" font-size="33" text-anchor="middle" transform="translate(1446.1 1373.7) scale(1 1.040)">110</text>
<path d="M1591.5 1327.2 v-4.5 M1591.5 952.2 v4.5" stroke="#000" stroke-width="1.3"/>
<text x="0" y="0" font-size="33" text-anchor="middle" transform="translate(1590.5 1373.7) scale(1 1.040)">115</text>
<path d="M1735.8 1327.2 v-4.5 M1735.8 952.2 v4.5" stroke="#000" stroke-width="1.3"/>
<text x="0" y="0" font-size="33" text-anchor="middle" transform="translate(1734.8 1373.7) scale(1 1.040)">120</text>
<path d="M1447.1 1009.9 h4.5 M1749.7 1009.9 h-4.5" stroke="#000" stroke-width="1.3"/>
<text x="0" y="0" font-size="33" text-anchor="end" transform="translate(1434.6 1021.9) scale(1 1.040)">20</text>
<path d="M1447.1 1154.1 h4.5 M1749.7 1154.1 h-4.5" stroke="#000" stroke-width="1.3"/>
<text x="0" y="0" font-size="33" text-anchor="end" transform="translate(1434.6 1166.1) scale(1 1.040)">15</text>
<path d="M1447.1 1298.4 h4.5 M1749.7 1298.4 h-4.5" stroke="#000" stroke-width="1.3"/>
<text x="0" y="0" font-size="33" text-anchor="end" transform="translate(1434.6 1310.4) scale(1 1.040)">10</text>
<text x="0" y="0" font-size="33" text-anchor="start" font-weight="bold" transform="translate(1706.7 1312.2) scale(1 1.000)">i</text>
<rect x="1802.0" y="952.2" width="44.2" height="375.0" fill="url(#cm_rdylbu)" stroke="#000" stroke-width="1.5"/>
<text x="0" y="0" font-size="31" text-anchor="start" transform="translate(1859.2 1340.0) scale(1 1.040)">-2</text>
<path d="M1846.2 1233.5 h-4" stroke="#000" stroke-width="1.2"/>
<text x="0" y="0" font-size="31" text-anchor="start" transform="translate(1859.2 1246.2) scale(1 1.040)">-1</text>
<path d="M1846.2 1139.7 h-4" stroke="#000" stroke-width="1.2"/>
<text x="0" y="0" font-size="31" text-anchor="start" transform="translate(1859.2 1152.5) scale(1 1.040)">0</text>
<path d="M1846.2 1046.0 h-4" stroke="#000" stroke-width="1.2"/>
<text x="0" y="0" font-size="31" text-anchor="start" transform="translate(1859.2 1058.8) scale(1 1.040)">1</text>
<text x="0" y="0" font-size="31" text-anchor="start" transform="translate(1859.2 965.0) scale(1 1.040)">2</text>
<text x="0" y="0" font-size="34" text-anchor="middle" transform="translate(666.2 201.9) scale(1.040 1) rotate(-90)">Density(kgm<tspan dy="-17" font-size="22">-3</tspan><tspan dy="17" dx="1">)</tspan></text>
<text x="0" y="0" font-size="34" text-anchor="middle" transform="translate(1289.0 201.9) scale(1.040 1) rotate(-90)">Temperature(°C)</text>
<text x="0" y="0" font-size="34" text-anchor="middle" transform="translate(1983.0 201.9) scale(1.040 1) rotate(-90)">Salinity</text>
<text x="0" y="0" font-size="34" text-anchor="middle" transform="translate(666.2 671.2) scale(1.040 1) rotate(-90)">Density(kgm<tspan dy="-17" font-size="22">-3</tspan><tspan dy="17" dx="1">)</tspan></text>
<text x="0" y="0" font-size="34" text-anchor="middle" transform="translate(1289.0 671.2) scale(1.040 1) rotate(-90)">Temperature(°C)</text>
<text x="0" y="0" font-size="34" text-anchor="middle" transform="translate(1983.0 671.2) scale(1.040 1) rotate(-90)">Salinity</text>
<text x="0" y="0" font-size="30.7" text-anchor="middle" transform="translate(665.0 1140.2) scale(1.040 1) rotate(-90)">Density gradient(kgm<tspan dy="-15" font-size="20">-3</tspan><tspan dy="15" dx="1">)</tspan></text>
<text x="0" y="0" font-size="30.7" text-anchor="middle" transform="translate(1291.6 1140.2) scale(1.040 1) rotate(-90)">Density gradient(kgm<tspan dy="-15" font-size="20">-3</tspan><tspan dy="15" dx="1">)</tspan></text>
<text x="0" y="0" font-size="30.7" text-anchor="middle" transform="translate(1991.0 1140.2) scale(1.040 1) rotate(-90)">Difference in density gradient(kgm<tspan dy="-15" font-size="20">-3</tspan><tspan dy="15" dx="1">)</tspan></text>
<text x="0" y="0" font-size="37.6" text-anchor="middle" transform="translate(29.0 201.9) scale(1.040 1) rotate(-90)">Latitude (°N)</text>
<text x="0" y="0" font-size="37.6" text-anchor="middle" transform="translate(29.0 671.2) scale(1.040 1) rotate(-90)">Latitude (°N)</text>
<text x="0" y="0" font-size="37.6" text-anchor="middle" transform="translate(29.0 1139.7) scale(1.040 1) rotate(-90)">Latitude (°N)</text>
<text x="0" y="0" font-size="37.6" text-anchor="middle" transform="translate(246.8 1424.4) scale(1 1.040)">Longitude (°E)</text>
<text x="0" y="0" font-size="37.6" text-anchor="middle" transform="translate(949.5 1424.4) scale(1 1.040)">Longitude (°E)</text>
<text x="0" y="0" font-size="37.6" text-anchor="middle" transform="translate(1599.3 1424.4) scale(1 1.040)">Longitude (°E)</text>
<text x="0" y="0" font-size="33.2" text-anchor="start" transform="translate(483.4 940.4) scale(1 1.040)">×</text>
<text x="0" y="0" font-size="30" text-anchor="start" transform="translate(506.7 936.9) scale(1 1.040)">10</text>
<text x="0" y="0" font-size="24.6" text-anchor="start" transform="translate(540.9 922.5) scale(1 1.040)">-8</text>
<text x="0" y="0" font-size="33.2" text-anchor="start" transform="translate(1190.4 940.4) scale(1 1.040)">×</text>
<text x="0" y="0" font-size="30" text-anchor="start" transform="translate(1213.7 936.9) scale(1 1.040)">10</text>
<text x="0" y="0" font-size="24.6" text-anchor="start" transform="translate(1247.9 922.5) scale(1 1.040)">-8</text>
<text x="0" y="0" font-size="33.2" text-anchor="start" transform="translate(1848.6 940.4) scale(1 1.040)">×</text>
<text x="0" y="0" font-size="30" text-anchor="start" transform="translate(1871.9 936.9) scale(1 1.040)">10</text>
<text x="0" y="0" font-size="24.6" text-anchor="start" transform="translate(1906.1 922.5) scale(1 1.040)">-9</text>
</svg></body></html>
